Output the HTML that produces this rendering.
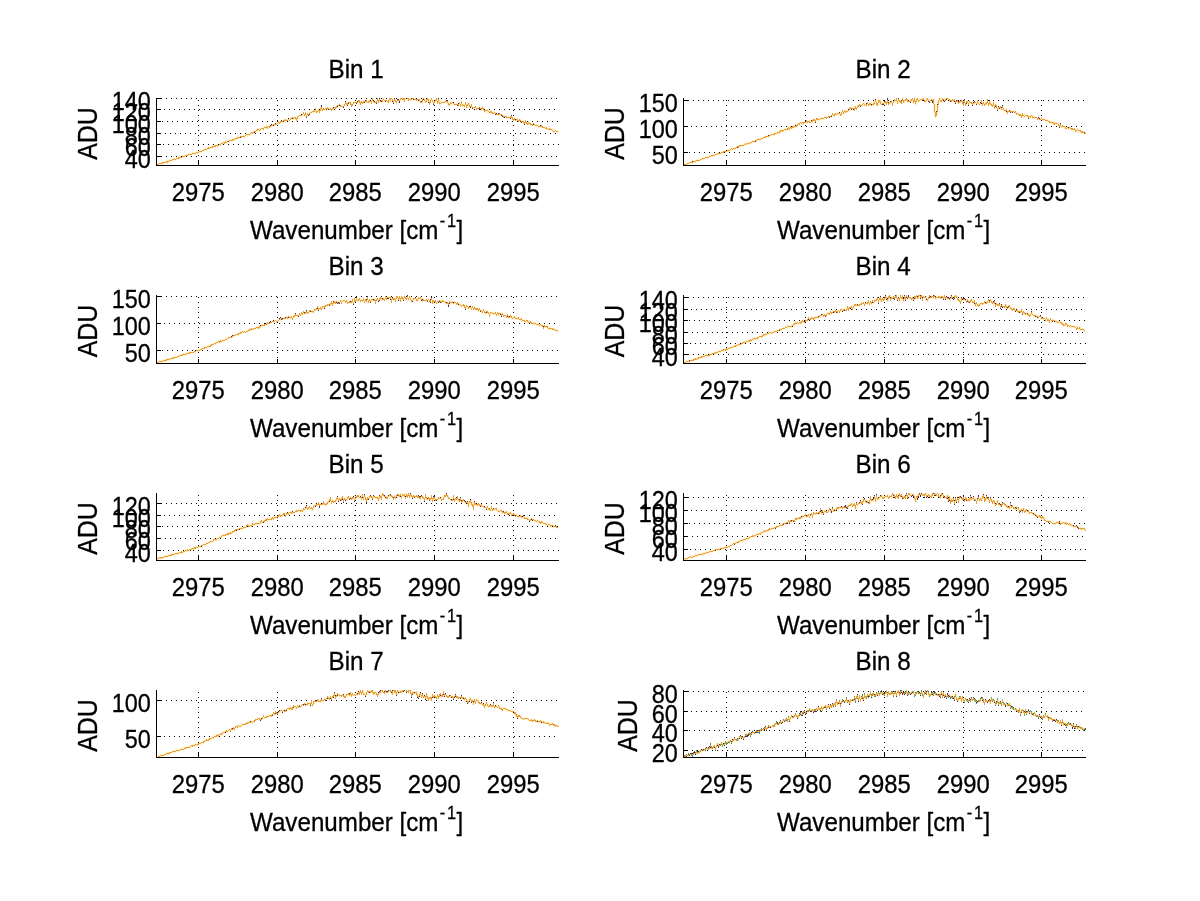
<!DOCTYPE html>
<html><head><meta charset="utf-8"><title>Bins</title>
<style>
html,body{margin:0;padding:0;background:#fff;}
body{width:1200px;height:901px;overflow:hidden;}
svg{display:block;will-change:transform;}
.t{font-family:"Liberation Sans",sans-serif;font-size:26.5px;fill:#000;stroke:#000;stroke-width:0.3px;}
.n{font-family:"Liberation Sans",sans-serif;font-size:25.5px;fill:#000;stroke:#000;stroke-width:0.3px;}
</style></head><body>
<svg width="1200" height="901" viewBox="0 0 1200 901">
<rect width="1200" height="901" fill="#fff"/>
<clipPath id="c1"><rect x="156" y="98" width="403" height="68"/></clipPath>
<path d="M156.5 164.7 L158.5 164.6 L160.5 163.3 L162.5 163.0 L164.5 162.3 L166.5 161.9 L168.5 161.3 L170.5 160.8 L172.5 159.8 L174.5 159.2 L176.5 158.6 L178.5 158.0 L180.5 157.8 L182.5 156.8 L184.5 156.5 L186.5 155.6 L188.5 154.9 L190.5 154.8 L192.5 153.7 L194.5 153.7 L196.5 153.0 L198.5 152.2 L200.5 151.5 L202.5 150.9 L204.5 149.9 L206.5 149.1 L208.5 148.0 L210.5 147.6 L212.5 147.0 L214.5 146.5 L216.5 145.9 L218.5 145.5 L220.5 144.3 L222.5 143.4 L224.5 143.0 L226.5 142.2 L228.5 141.5 L230.5 140.9 L232.5 140.0 L234.5 139.9 L236.5 138.4 L238.5 137.2 L240.5 136.9 L242.5 136.1 L244.5 136.3 L246.5 134.8 L248.5 134.9 L250.5 133.6 L252.5 133.1 L254.5 131.8 L256.5 130.4 L258.5 129.7 L260.5 129.7 L262.5 128.7 L264.5 127.5 L266.5 126.7 L268.5 126.4 L270.5 126.3 L272.5 125.5 L274.5 124.7 L276.5 124.1 L278.5 122.5 L280.5 121.8 L282.5 121.4 L284.5 120.6 L286.5 121.0 L288.5 119.3 L290.5 119.1 L292.5 117.8 L294.5 117.8 L296.5 119.6 L298.5 116.6 L300.5 115.7 L302.5 114.9 L304.5 114.9 L306.5 116.1 L308.5 114.3 L310.5 112.1 L312.5 111.8 L314.5 111.5 L316.5 112.4 L318.5 110.5 L320.5 109.2 L322.5 110.1 L324.5 109.4 L326.5 108.9 L328.5 108.7 L330.5 108.8 L332.5 108.7 L334.5 107.9 L336.5 107.1 L338.5 105.6 L340.5 106.0 L342.5 106.4 L344.5 104.8 L346.5 104.1 L348.5 102.1 L350.5 102.6 L352.5 104.9 L354.5 102.4 L356.5 102.9 L358.5 100.8 L360.5 103.9 L362.5 103.2 L364.5 102.0 L366.5 101.0 L368.5 102.3 L370.5 101.2 L372.5 99.5 L374.5 102.2 L376.5 102.6 L378.5 101.6 L380.5 101.5 L382.5 101.4 L384.5 100.3 L386.5 100.7 L388.5 102.4 L390.5 99.8 L392.5 100.5 L394.5 99.9 L396.5 102.5 L398.5 100.9 L400.5 98.5 L402.5 99.0 L404.5 100.5 L406.5 96.7 L408.5 99.9 L410.5 99.3 L412.5 98.9 L414.5 99.9 L416.5 100.0 L418.5 99.7 L420.5 102.5 L422.5 101.2 L424.5 100.6 L426.5 100.8 L428.5 100.2 L430.5 100.8 L432.5 101.2 L434.5 102.0 L436.5 99.1 L438.5 99.9 L440.5 103.8 L442.5 102.3 L444.5 102.1 L446.5 101.3 L448.5 104.7 L450.5 102.9 L452.5 102.5 L454.5 104.8 L456.5 104.7 L458.5 105.0 L460.5 105.4 L462.5 105.2 L464.5 106.0 L466.5 107.1 L468.5 103.6 L470.5 106.9 L472.5 107.8 L474.5 107.9 L476.5 109.2 L478.5 108.6 L480.5 108.5 L482.5 107.8 L484.5 111.5 L486.5 110.6 L488.5 111.9 L490.5 112.0 L492.5 113.1 L494.5 112.8 L496.5 114.1 L498.5 114.4 L500.5 115.0 L502.5 115.5 L504.5 116.8 L506.5 117.0 L508.5 117.7 L510.5 117.6 L512.5 118.6 L514.5 118.6 L516.5 119.1 L518.5 121.1 L520.5 120.4 L522.5 121.2 L524.5 123.6 L526.5 123.3 L528.5 123.0 L530.5 124.1 L532.5 125.1 L534.5 124.7 L536.5 125.7 L538.5 126.4 L540.5 126.1 L542.5 127.2 L544.5 127.9 L546.5 128.0 L548.5 129.7 L550.5 129.1 L552.5 130.6 L554.5 131.5 L556.5 131.6 L558.5 132.4" fill="none" stroke="#fff1d2" stroke-width="3" stroke-linejoin="round" clip-path="url(#c1)"/>
<g shape-rendering="crispEdges" stroke="#000" stroke-width="1" fill="none">
<line x1="161" y1="98.5" x2="559" y2="98.5" stroke-dasharray="1 4" stroke-dashoffset="0"/>
<line x1="161" y1="109.5" x2="559" y2="109.5" stroke-dasharray="1 4" stroke-dashoffset="2"/>
<line x1="161" y1="121.5" x2="559" y2="121.5" stroke-dasharray="1 4" stroke-dashoffset="4"/>
<line x1="161" y1="133.5" x2="559" y2="133.5" stroke-dasharray="1 4" stroke-dashoffset="1"/>
<line x1="161" y1="144.5" x2="559" y2="144.5" stroke-dasharray="1 4" stroke-dashoffset="3"/>
<line x1="161" y1="156.5" x2="559" y2="156.5" stroke-dasharray="1 4" stroke-dashoffset="0"/>
<line x1="198.5" y1="98" x2="198.5" y2="161" stroke-dasharray="1 4" stroke-dashoffset="3"/>
<line x1="277.5" y1="98" x2="277.5" y2="161" stroke-dasharray="1 4" stroke-dashoffset="3"/>
<line x1="355.5" y1="98" x2="355.5" y2="161" stroke-dasharray="1 4" stroke-dashoffset="3"/>
<line x1="434.5" y1="98" x2="434.5" y2="161" stroke-dasharray="1 4" stroke-dashoffset="3"/>
<line x1="513.5" y1="98" x2="513.5" y2="161" stroke-dasharray="1 4" stroke-dashoffset="3"/>
</g>
<g fill="none" stroke-width="1" shape-rendering="crispEdges" clip-path="url(#c1)">
<path d="M156.5 164.7 L157.5 164.4 L158.5 164.6 L159.5 163.8 L160.5 163.3 L161.5 163.3 L162.5 163.0 L163.5 162.8 L164.5 162.3 L165.5 162.3 L166.5 161.9 L167.5 162.0 L168.5 161.3 L169.5 160.9 L170.5 160.8 L171.5 160.4 L172.5 159.8 L173.5 159.8 L174.5 159.2 L175.5 159.3 L176.5 158.7 L177.5 158.5 L178.5 158.0 L179.5 157.9 L180.5 157.8 L181.5 157.5 L182.5 156.8 L183.5 156.4 L184.5 156.5 L185.5 155.9 L186.5 155.6 L187.5 155.6 L188.5 154.9 L189.5 155.0 L190.5 154.7 L191.5 154.2 L192.5 153.8 L193.5 153.6 L194.5 153.7 L195.5 153.1 L196.5 153.0 L197.5 152.4 L198.5 152.1 L199.5 151.8 L200.5 151.4 L201.5 151.1 L202.5 150.9 L203.5 150.6 L204.5 149.9 L205.5 149.4 L206.5 149.1 L207.5 148.7 L208.5 148.0 L209.5 148.2 L210.5 147.6 L211.5 147.9 L212.5 147.0 L213.5 146.4 L214.5 146.4 L215.5 146.1 L216.5 145.9 L217.5 145.4 L218.5 145.5 L219.5 144.3 L220.5 144.3 L221.5 143.7 L222.5 143.3 L223.5 142.6 L224.5 143.0 L225.5 141.9 L226.5 142.2 L227.5 141.9 L228.5 141.4 L229.5 140.5 L230.5 140.9 L231.5 140.0 L232.5 140.0 L233.5 139.4 L234.5 139.9 L235.5 138.7 L236.5 138.4 L237.5 138.3 L238.5 137.3 L239.5 137.2 L240.5 137.0 L241.5 136.7 L242.5 136.2 L243.5 136.6 L244.5 136.3 L245.5 135.4 L246.5 134.8 L247.5 134.7 L248.5 134.9 L249.5 134.4 L250.5 133.6 L251.5 132.7 L252.5 133.1 L253.5 132.4 L254.5 132.0 L255.5 131.3 L256.5 130.3 L257.5 130.0 L258.5 129.7 L259.5 130.2 L260.5 129.8 L261.5 128.8 L262.5 128.6 L263.5 129.2 L264.5 127.2 L265.5 127.4 L266.5 126.6 L267.5 128.0 L268.5 126.3 L269.5 126.9 L270.5 126.2 L271.5 125.0 L272.5 125.5 L273.5 125.0 L274.5 124.6 L275.5 123.9 L276.5 124.1 L277.5 123.6 L278.5 122.5 L279.5 123.2 L280.5 121.6 L281.5 121.0 L282.5 121.4 L283.5 121.0 L284.5 120.8 L285.5 119.9 L286.5 120.9 L287.5 120.6 L288.5 119.2 L289.5 120.4 L290.5 119.7 L291.5 118.4 L292.5 118.1 L293.5 118.1 L294.5 117.9 L295.5 117.7 L296.5 119.7 L297.5 117.9 L298.5 116.4 L299.5 115.1 L300.5 115.5 L301.5 114.9 L302.5 114.9 L303.5 113.4 L304.5 114.6 L305.5 113.7 L306.5 116.3 L307.5 114.0 L308.5 115.1 L309.5 113.8 L310.5 112.5 L311.5 112.7 L312.5 111.7 L313.5 111.4 L314.5 111.3 L315.5 109.1 L316.5 112.3 L317.5 111.3 L318.5 110.6 L319.5 111.5 L320.5 109.5 L321.5 106.9 L322.5 110.4 L323.5 108.8 L324.5 109.2 L325.5 108.6 L326.5 109.2 L327.5 108.4 L328.5 109.0 L329.5 109.2 L330.5 108.4 L331.5 110.1 L332.5 108.7 L333.5 107.9 L334.5 107.9 L335.5 108.4 L336.5 107.2 L337.5 105.9 L338.5 105.2 L339.5 105.2 L340.5 106.1 L341.5 106.4 L342.5 106.2 L343.5 107.3 L344.5 105.1 L345.5 102.2 L346.5 103.5 L347.5 105.1 L348.5 102.5 L349.5 102.9 L350.5 102.4 L351.5 106.1 L352.5 104.7 L353.5 103.2 L354.5 102.3 L355.5 102.5 L356.5 103.4 L357.5 102.6 L358.5 100.2 L359.5 100.7 L360.5 104.2 L361.5 101.7 L362.5 103.5 L363.5 102.1 L364.5 102.3 L365.5 101.0 L366.5 100.6 L367.5 102.7 L368.5 102.7 L369.5 100.9 L370.5 101.0 L371.5 102.8 L372.5 99.7 L373.5 100.7 L374.5 102.1 L375.5 102.7 L376.5 103.4 L377.5 99.1 L378.5 101.2 L379.5 99.5 L380.5 101.4 L381.5 101.0 L382.5 101.3 L383.5 99.4 L384.5 100.7 L385.5 101.2 L386.5 100.5 L387.5 101.5 L388.5 102.2 L389.5 98.6 L390.5 98.8 L391.5 97.6 L392.5 100.8 L393.5 102.5 L394.5 99.2 L395.5 101.3 L396.5 102.3 L397.5 99.9 L398.5 100.0 L399.5 102.0 L400.5 98.9 L401.5 98.1 L402.5 99.5 L403.5 98.3 L404.5 100.1 L405.5 96.0 L406.5 96.4 L407.5 97.6 L408.5 100.0 L409.5 99.4 L410.5 99.2 L411.5 99.2 L412.5 98.0 L413.5 98.9 L414.5 99.8 L415.5 99.3 L416.5 99.6 L417.5 99.4 L418.5 100.4 L419.5 100.7 L420.5 101.4 L421.5 102.1 L422.5 101.4 L423.5 97.7 L424.5 100.3 L425.5 102.4 L426.5 101.1 L427.5 98.4 L428.5 100.5 L429.5 104.8 L430.5 100.8 L431.5 99.1 L432.5 100.6 L433.5 103.9 L434.5 101.5 L435.5 100.3 L436.5 99.9 L437.5 102.2 L438.5 99.5 L439.5 103.6 L440.5 103.8 L441.5 102.2 L442.5 102.5 L443.5 102.6 L444.5 102.3 L445.5 101.3 L446.5 101.0 L447.5 100.5 L448.5 104.6 L449.5 105.3 L450.5 102.9 L451.5 103.6 L452.5 102.5 L453.5 102.6 L454.5 104.9 L455.5 104.8 L456.5 104.6 L457.5 105.1 L458.5 104.1 L459.5 103.4 L460.5 104.9 L461.5 102.5 L462.5 105.3 L463.5 105.4 L464.5 106.0 L465.5 103.3 L466.5 107.1 L467.5 104.7 L468.5 103.6 L469.5 106.6 L470.5 107.0 L471.5 105.7 L472.5 108.4 L473.5 107.9 L474.5 107.7 L475.5 106.5 L476.5 109.4 L477.5 108.6 L478.5 108.9 L479.5 108.2 L480.5 109.1 L481.5 109.5 L482.5 107.5 L483.5 109.2 L484.5 111.4 L485.5 110.1 L486.5 110.7 L487.5 110.4 L488.5 111.5 L489.5 112.6 L490.5 112.8 L491.5 111.8 L492.5 112.5 L493.5 113.4 L494.5 112.6 L495.5 114.0 L496.5 113.5 L497.5 114.6 L498.5 114.0 L499.5 114.1 L500.5 114.8 L501.5 114.9 L502.5 116.0 L503.5 116.6 L504.5 117.5 L505.5 116.5 L506.5 117.3 L507.5 117.5 L508.5 117.6 L509.5 117.7 L510.5 118.0 L511.5 116.3 L512.5 118.7 L513.5 120.0 L514.5 118.5 L515.5 120.5 L516.5 119.3 L517.5 119.6 L518.5 120.9 L519.5 119.9 L520.5 120.5 L521.5 122.3 L522.5 121.4 L523.5 122.2 L524.5 123.9 L525.5 121.6 L526.5 123.6 L527.5 124.0 L528.5 122.9 L529.5 123.1 L530.5 124.2 L531.5 124.2 L532.5 125.0 L533.5 123.9 L534.5 124.8 L535.5 125.7 L536.5 125.7 L537.5 125.5 L538.5 126.3 L539.5 126.6 L540.5 125.9 L541.5 125.8 L542.5 127.1 L543.5 127.4 L544.5 127.9 L545.5 128.5 L546.5 128.0 L547.5 128.2 L548.5 129.7 L549.5 129.0 L550.5 129.1 L551.5 129.3 L552.5 130.6 L553.5 131.7 L554.5 131.4 L555.5 130.5 L556.5 131.6 L557.5 131.6 L558.5 132.5" stroke="#4a2a70"/>
<path d="M156.5 164.7 L157.5 164.4 L158.5 164.6 L159.5 163.8 L160.5 163.3 L161.5 163.3 L162.5 163.0 L163.5 162.8 L164.5 162.3 L165.5 162.4 L166.5 161.9 L167.5 162.0 L168.5 161.3 L169.5 160.9 L170.5 160.8 L171.5 160.4 L172.5 159.8 L173.5 159.8 L174.5 159.2 L175.5 159.3 L176.5 158.6 L177.5 158.5 L178.5 158.0 L179.5 157.9 L180.5 157.8 L181.5 157.5 L182.5 156.8 L183.5 156.4 L184.5 156.5 L185.5 155.9 L186.5 155.6 L187.5 155.6 L188.5 154.9 L189.5 155.0 L190.5 154.8 L191.5 154.2 L192.5 153.7 L193.5 153.6 L194.5 153.7 L195.5 153.1 L196.5 153.0 L197.5 152.4 L198.5 152.2 L199.5 151.8 L200.5 151.5 L201.5 151.1 L202.5 150.9 L203.5 150.6 L204.5 149.9 L205.5 149.4 L206.5 149.1 L207.5 148.7 L208.5 148.0 L209.5 148.2 L210.5 147.6 L211.5 147.9 L212.5 147.0 L213.5 146.4 L214.5 146.5 L215.5 146.0 L216.5 145.9 L217.5 145.3 L218.5 145.5 L219.5 144.4 L220.5 144.3 L221.5 143.7 L222.5 143.4 L223.5 142.6 L224.5 143.0 L225.5 141.9 L226.5 142.2 L227.5 141.9 L228.5 141.5 L229.5 140.5 L230.5 140.9 L231.5 140.0 L232.5 140.0 L233.5 139.4 L234.5 139.9 L235.5 138.6 L236.5 138.4 L237.5 138.2 L238.5 137.2 L239.5 137.2 L240.5 136.9 L241.5 136.7 L242.5 136.1 L243.5 136.6 L244.5 136.3 L245.5 135.6 L246.5 134.8 L247.5 134.7 L248.5 134.9 L249.5 134.4 L250.5 133.6 L251.5 132.7 L252.5 133.1 L253.5 132.5 L254.5 131.8 L255.5 131.4 L256.5 130.4 L257.5 130.0 L258.5 129.7 L259.5 130.1 L260.5 129.7 L261.5 128.8 L262.5 128.7 L263.5 129.2 L264.5 127.5 L265.5 127.5 L266.5 126.7 L267.5 128.1 L268.5 126.4 L269.5 127.1 L270.5 126.3 L271.5 125.1 L272.5 125.5 L273.5 124.9 L274.5 124.7 L275.5 124.1 L276.5 124.1 L277.5 123.7 L278.5 122.5 L279.5 123.2 L280.5 121.8 L281.5 121.1 L282.5 121.4 L283.5 120.8 L284.5 120.6 L285.5 120.0 L286.5 121.0 L287.5 120.8 L288.5 119.3 L289.5 120.5 L290.5 119.1 L291.5 118.3 L292.5 117.8 L293.5 118.5 L294.5 117.8 L295.5 117.8 L296.5 119.6 L297.5 117.7 L298.5 116.6 L299.5 115.4 L300.5 115.7 L301.5 115.1 L302.5 114.9 L303.5 113.0 L304.5 114.9 L305.5 113.4 L306.5 116.1 L307.5 113.6 L308.5 114.3 L309.5 113.5 L310.5 112.1 L311.5 112.7 L312.5 111.8 L313.5 111.5 L314.5 111.5 L315.5 109.3 L316.5 112.4 L317.5 111.4 L318.5 110.5 L319.5 111.8 L320.5 109.2 L321.5 107.5 L322.5 110.1 L323.5 108.8 L324.5 109.4 L325.5 108.7 L326.5 108.9 L327.5 107.9 L328.5 108.7 L329.5 109.4 L330.5 108.8 L331.5 110.1 L332.5 108.7 L333.5 108.3 L334.5 107.9 L335.5 108.1 L336.5 107.1 L337.5 105.6 L338.5 105.6 L339.5 104.5 L340.5 106.0 L341.5 106.2 L342.5 106.4 L343.5 106.9 L344.5 104.8 L345.5 102.6 L346.5 104.1 L347.5 104.6 L348.5 102.1 L349.5 102.7 L350.5 102.6 L351.5 106.2 L352.5 104.9 L353.5 102.4 L354.5 102.4 L355.5 102.9 L356.5 102.9 L357.5 102.7 L358.5 100.8 L359.5 100.9 L360.5 103.9 L361.5 101.9 L362.5 103.2 L363.5 101.7 L364.5 102.0 L365.5 101.9 L366.5 101.0 L367.5 102.9 L368.5 102.3 L369.5 101.0 L370.5 101.2 L371.5 103.0 L372.5 99.5 L373.5 101.9 L374.5 102.2 L375.5 102.8 L376.5 102.6 L377.5 99.4 L378.5 101.6 L379.5 99.9 L380.5 101.5 L381.5 100.5 L382.5 101.4 L383.5 99.2 L384.5 100.3 L385.5 100.8 L386.5 100.7 L387.5 101.2 L388.5 102.4 L389.5 98.5 L390.5 99.8 L391.5 97.3 L392.5 100.5 L393.5 101.9 L394.5 99.9 L395.5 101.3 L396.5 102.5 L397.5 100.2 L398.5 100.9 L399.5 101.0 L400.5 98.5 L401.5 97.9 L402.5 99.0 L403.5 98.4 L404.5 100.5 L405.5 96.4 L406.5 96.7 L407.5 97.0 L408.5 99.9 L409.5 99.2 L410.5 99.3 L411.5 99.1 L412.5 98.9 L413.5 98.5 L414.5 99.9 L415.5 99.3 L416.5 100.0 L417.5 99.5 L418.5 99.7 L419.5 99.6 L420.5 102.5 L421.5 102.5 L422.5 101.2 L423.5 96.9 L424.5 100.6 L425.5 102.0 L426.5 100.8 L427.5 98.3 L428.5 100.2 L429.5 104.4 L430.5 100.8 L431.5 99.3 L432.5 101.2 L433.5 103.0 L434.5 102.0 L435.5 100.4 L436.5 99.1 L437.5 102.3 L438.5 99.9 L439.5 103.4 L440.5 103.8 L441.5 102.8 L442.5 102.3 L443.5 102.2 L444.5 102.1 L445.5 101.6 L446.5 101.3 L447.5 101.4 L448.5 104.7 L449.5 105.1 L450.5 102.9 L451.5 103.6 L452.5 102.5 L453.5 103.2 L454.5 104.8 L455.5 104.5 L456.5 104.7 L457.5 104.6 L458.5 105.0 L459.5 103.3 L460.5 105.4 L461.5 102.7 L462.5 105.2 L463.5 105.6 L464.5 106.0 L465.5 103.5 L466.5 107.1 L467.5 104.8 L468.5 103.6 L469.5 106.6 L470.5 106.9 L471.5 105.4 L472.5 107.8 L473.5 107.5 L474.5 107.9 L475.5 106.8 L476.5 109.2 L477.5 108.7 L478.5 108.6 L479.5 107.8 L480.5 108.5 L481.5 109.2 L482.5 107.8 L483.5 109.1 L484.5 111.5 L485.5 110.3 L486.5 110.6 L487.5 110.5 L488.5 111.9 L489.5 112.4 L490.5 112.0 L491.5 111.7 L492.5 113.1 L493.5 113.6 L494.5 112.8 L495.5 113.8 L496.5 114.1 L497.5 114.7 L498.5 114.4 L499.5 114.0 L500.5 115.0 L501.5 114.9 L502.5 115.5 L503.5 117.0 L504.5 116.8 L505.5 116.4 L506.5 117.0 L507.5 117.5 L508.5 117.7 L509.5 117.3 L510.5 117.6 L511.5 116.6 L512.5 118.6 L513.5 120.4 L514.5 118.6 L515.5 120.6 L516.5 119.1 L517.5 119.7 L518.5 121.1 L519.5 119.8 L520.5 120.4 L521.5 121.9 L522.5 121.2 L523.5 122.2 L524.5 123.6 L525.5 121.5 L526.5 123.3 L527.5 124.0 L528.5 123.0 L529.5 123.2 L530.5 124.1 L531.5 124.3 L532.5 125.1 L533.5 123.6 L534.5 124.7 L535.5 125.6 L536.5 125.7 L537.5 125.4 L538.5 126.4 L539.5 126.6 L540.5 126.1 L541.5 125.8 L542.5 127.2 L543.5 127.4 L544.5 127.9 L545.5 128.4 L546.5 128.0 L547.5 128.4 L548.5 129.7 L549.5 129.0 L550.5 129.1 L551.5 129.5 L552.5 130.6 L553.5 131.6 L554.5 131.5 L555.5 130.6 L556.5 131.6 L557.5 131.6 L558.5 132.4" stroke="#e8a035"/>
</g>
<g shape-rendering="crispEdges" stroke="#000" stroke-width="1" fill="none">
<line x1="156.5" y1="98" x2="156.5" y2="166"/>
<line x1="156" y1="165.5" x2="559" y2="165.5"/>
<line x1="156" y1="98.5" x2="161" y2="98.5"/>
<line x1="156" y1="109.5" x2="161" y2="109.5"/>
<line x1="156" y1="121.5" x2="161" y2="121.5"/>
<line x1="156" y1="133.5" x2="161" y2="133.5"/>
<line x1="156" y1="144.5" x2="161" y2="144.5"/>
<line x1="156" y1="156.5" x2="161" y2="156.5"/>
<line x1="198.5" y1="161" x2="198.5" y2="166"/>
<line x1="277.5" y1="161" x2="277.5" y2="166"/>
<line x1="355.5" y1="161" x2="355.5" y2="166"/>
<line x1="434.5" y1="161" x2="434.5" y2="166"/>
<line x1="513.5" y1="161" x2="513.5" y2="166"/>
</g>
<text class="t" transform="translate(328.5 77.7) scale(0.915 1)">Bin 1</text>
<text class="n" transform="translate(198.3 201.0) scale(0.935 1)" text-anchor="middle">2975</text>
<text class="n" transform="translate(277.3 201.0) scale(0.935 1)" text-anchor="middle">2980</text>
<text class="n" transform="translate(355.3 201.0) scale(0.935 1)" text-anchor="middle">2985</text>
<text class="n" transform="translate(434.3 201.0) scale(0.935 1)" text-anchor="middle">2990</text>
<text class="n" transform="translate(513.3 201.0) scale(0.935 1)" text-anchor="middle">2995</text>
<text class="t" transform="translate(250.0 239.0) scale(0.912 1)">Wavenumber [cm<tspan dy="-12" dx="1.4" font-size="18" letter-spacing="2">-1</tspan><tspan dy="12" dx="-1.5">]</tspan></text>
<text class="n" transform="translate(150.8 110.2) scale(0.92 1)" text-anchor="end">140</text>
<text class="n" transform="translate(150.8 121.2) scale(0.92 1)" text-anchor="end">120</text>
<text class="n" transform="translate(150.8 133.2) scale(0.92 1)" text-anchor="end">100</text>
<text class="n" transform="translate(150.8 145.2) scale(0.92 1)" text-anchor="end">80</text>
<text class="n" transform="translate(150.8 156.2) scale(0.92 1)" text-anchor="end">60</text>
<text class="n" transform="translate(150.8 168.2) scale(0.92 1)" text-anchor="end">40</text>
<text class="t" style="font-size:27.6px" transform="translate(96.6 133.5) rotate(-90) scale(0.905 1)" text-anchor="middle">ADU</text>
<clipPath id="c2"><rect x="683" y="98" width="403" height="68"/></clipPath>
<path d="M683.5 165.1 L685.5 164.4 L687.5 163.5 L689.5 162.8 L691.5 162.6 L693.5 161.6 L695.5 161.3 L697.5 160.3 L699.5 160.1 L701.5 159.1 L703.5 158.3 L705.5 157.9 L707.5 157.4 L709.5 156.4 L711.5 156.0 L713.5 155.2 L715.5 154.4 L717.5 153.9 L719.5 153.6 L721.5 152.9 L723.5 152.0 L725.5 151.3 L727.5 150.6 L729.5 150.3 L731.5 148.8 L733.5 148.4 L735.5 148.2 L737.5 146.9 L739.5 146.0 L741.5 145.6 L743.5 145.4 L745.5 143.8 L747.5 143.8 L749.5 143.4 L751.5 142.4 L753.5 141.4 L755.5 140.9 L757.5 139.5 L759.5 139.4 L761.5 138.8 L763.5 137.9 L765.5 137.0 L767.5 136.6 L769.5 135.4 L771.5 134.8 L773.5 134.2 L775.5 133.2 L777.5 132.8 L779.5 132.2 L781.5 130.3 L783.5 130.2 L785.5 129.9 L787.5 129.1 L789.5 128.9 L791.5 128.0 L793.5 127.1 L795.5 126.1 L797.5 124.8 L799.5 124.0 L801.5 123.2 L803.5 123.2 L805.5 122.5 L807.5 122.0 L809.5 121.9 L811.5 121.3 L813.5 119.7 L815.5 121.2 L817.5 119.1 L819.5 119.6 L821.5 118.4 L823.5 118.9 L825.5 117.2 L827.5 117.8 L829.5 116.7 L831.5 116.0 L833.5 115.7 L835.5 113.9 L837.5 113.7 L839.5 113.3 L841.5 113.7 L843.5 113.0 L845.5 112.2 L847.5 111.3 L849.5 108.7 L851.5 108.4 L853.5 108.7 L855.5 107.1 L857.5 106.9 L859.5 104.5 L861.5 105.8 L863.5 103.6 L865.5 105.7 L867.5 103.4 L869.5 103.8 L871.5 105.7 L873.5 104.0 L875.5 99.9 L877.5 105.4 L879.5 100.2 L881.5 104.7 L883.5 104.0 L885.5 101.9 L887.5 101.3 L889.5 103.5 L891.5 101.3 L893.5 101.9 L895.5 100.5 L897.5 102.5 L899.5 101.2 L901.5 102.9 L903.5 101.9 L905.5 100.8 L907.5 101.0 L909.5 101.3 L911.5 99.7 L913.5 101.5 L915.5 104.1 L917.5 97.6 L919.5 100.2 L921.5 99.5 L923.5 98.1 L925.5 101.8 L927.5 99.0 L929.5 101.6 L931.5 99.7 L933.5 99.6 L935.5 116.5 L937.5 107.9 L939.5 98.1 L941.5 101.6 L943.5 99.4 L945.5 100.4 L947.5 98.2 L949.5 100.1 L951.5 101.1 L953.5 100.8 L955.5 102.4 L957.5 100.8 L959.5 101.7 L961.5 100.8 L963.5 104.5 L965.5 104.2 L967.5 101.7 L969.5 101.5 L971.5 102.3 L973.5 103.5 L975.5 102.4 L977.5 102.0 L979.5 104.4 L981.5 101.7 L983.5 103.1 L985.5 103.8 L987.5 100.7 L989.5 102.2 L991.5 105.2 L993.5 103.7 L995.5 105.1 L997.5 109.2 L999.5 107.8 L1001.5 108.8 L1003.5 109.8 L1005.5 110.3 L1007.5 112.8 L1009.5 111.1 L1011.5 111.3 L1013.5 111.6 L1015.5 111.8 L1017.5 113.9 L1019.5 115.0 L1021.5 116.8 L1023.5 115.7 L1025.5 115.7 L1027.5 115.4 L1029.5 116.5 L1031.5 115.5 L1033.5 117.8 L1035.5 117.8 L1037.5 119.0 L1039.5 119.2 L1041.5 118.6 L1043.5 119.8 L1045.5 120.4 L1047.5 120.1 L1049.5 122.0 L1051.5 122.9 L1053.5 122.7 L1055.5 123.5 L1057.5 123.5 L1059.5 126.3 L1061.5 126.7 L1063.5 126.5 L1065.5 128.2 L1067.5 127.4 L1069.5 127.5 L1071.5 129.1 L1073.5 129.7 L1075.5 131.2 L1077.5 129.7 L1079.5 130.4 L1081.5 132.2 L1083.5 132.8 L1085.5 133.8" fill="none" stroke="#fff1d2" stroke-width="3" stroke-linejoin="round" clip-path="url(#c2)"/>
<g shape-rendering="crispEdges" stroke="#000" stroke-width="1" fill="none">
<line x1="688" y1="100.5" x2="1086" y2="100.5" stroke-dasharray="1 4" stroke-dashoffset="0"/>
<line x1="688" y1="126.5" x2="1086" y2="126.5" stroke-dasharray="1 4" stroke-dashoffset="2"/>
<line x1="688" y1="152.5" x2="1086" y2="152.5" stroke-dasharray="1 4" stroke-dashoffset="4"/>
<line x1="726.5" y1="98" x2="726.5" y2="161" stroke-dasharray="1 4" stroke-dashoffset="3"/>
<line x1="805.5" y1="98" x2="805.5" y2="161" stroke-dasharray="1 4" stroke-dashoffset="3"/>
<line x1="884.5" y1="98" x2="884.5" y2="161" stroke-dasharray="1 4" stroke-dashoffset="3"/>
<line x1="963.5" y1="98" x2="963.5" y2="161" stroke-dasharray="1 4" stroke-dashoffset="3"/>
<line x1="1041.5" y1="98" x2="1041.5" y2="161" stroke-dasharray="1 4" stroke-dashoffset="3"/>
</g>
<g fill="none" stroke-width="1" shape-rendering="crispEdges" clip-path="url(#c2)">
<path d="M683.5 165.1 L684.5 164.8 L685.5 164.4 L686.5 164.2 L687.5 163.5 L688.5 163.2 L689.5 162.8 L690.5 162.5 L691.5 162.6 L692.5 162.1 L693.5 161.5 L694.5 161.3 L695.5 161.3 L696.5 160.5 L697.5 160.4 L698.5 160.2 L699.5 160.1 L700.5 159.8 L701.5 159.1 L702.5 158.6 L703.5 158.3 L704.5 158.3 L705.5 157.9 L706.5 157.8 L707.5 157.4 L708.5 157.2 L709.5 156.4 L710.5 156.1 L711.5 156.0 L712.5 155.8 L713.5 155.2 L714.5 155.3 L715.5 154.4 L716.5 154.4 L717.5 153.9 L718.5 153.8 L719.5 153.6 L720.5 153.1 L721.5 152.9 L722.5 152.8 L723.5 152.0 L724.5 151.7 L725.5 151.3 L726.5 151.1 L727.5 150.6 L728.5 150.1 L729.5 150.3 L730.5 149.4 L731.5 148.8 L732.5 149.2 L733.5 148.3 L734.5 148.4 L735.5 148.2 L736.5 147.4 L737.5 147.0 L738.5 147.1 L739.5 146.1 L740.5 145.9 L741.5 145.6 L742.5 145.2 L743.5 145.4 L744.5 144.6 L745.5 143.8 L746.5 144.4 L747.5 143.8 L748.5 143.2 L749.5 143.4 L750.5 142.8 L751.5 142.4 L752.5 141.5 L753.5 141.4 L754.5 141.6 L755.5 141.0 L756.5 140.3 L757.5 139.5 L758.5 139.8 L759.5 139.4 L760.5 139.3 L761.5 138.8 L762.5 138.5 L763.5 137.9 L764.5 137.7 L765.5 136.9 L766.5 137.0 L767.5 136.6 L768.5 136.1 L769.5 135.4 L770.5 135.4 L771.5 134.9 L772.5 134.1 L773.5 134.1 L774.5 134.0 L775.5 133.3 L776.5 133.5 L777.5 132.9 L778.5 132.8 L779.5 132.2 L780.5 130.6 L781.5 130.4 L782.5 131.0 L783.5 130.1 L784.5 129.9 L785.5 130.0 L786.5 129.4 L787.5 129.0 L788.5 128.3 L789.5 129.0 L790.5 126.5 L791.5 128.0 L792.5 126.8 L793.5 127.1 L794.5 126.1 L795.5 125.8 L796.5 126.3 L797.5 124.7 L798.5 123.7 L799.5 124.0 L800.5 122.4 L801.5 123.2 L802.5 122.8 L803.5 123.0 L804.5 122.2 L805.5 122.3 L806.5 120.7 L807.5 122.2 L808.5 121.5 L809.5 121.7 L810.5 122.7 L811.5 120.9 L812.5 120.7 L813.5 119.5 L814.5 119.7 L815.5 121.5 L816.5 118.6 L817.5 119.0 L818.5 119.5 L819.5 119.7 L820.5 118.1 L821.5 118.6 L822.5 118.5 L823.5 118.9 L824.5 117.5 L825.5 117.2 L826.5 118.2 L827.5 117.6 L828.5 116.4 L829.5 117.1 L830.5 116.3 L831.5 116.1 L832.5 114.6 L833.5 115.6 L834.5 115.4 L835.5 114.1 L836.5 114.3 L837.5 113.4 L838.5 113.5 L839.5 112.8 L840.5 115.0 L841.5 113.5 L842.5 110.9 L843.5 113.0 L844.5 111.2 L845.5 112.1 L846.5 111.3 L847.5 111.5 L848.5 110.5 L849.5 108.7 L850.5 108.1 L851.5 109.1 L852.5 108.3 L853.5 108.8 L854.5 109.8 L855.5 106.9 L856.5 109.1 L857.5 106.9 L858.5 106.0 L859.5 105.0 L860.5 106.8 L861.5 105.8 L862.5 104.2 L863.5 103.7 L864.5 104.7 L865.5 105.5 L866.5 104.3 L867.5 102.8 L868.5 104.8 L869.5 103.6 L870.5 103.8 L871.5 105.4 L872.5 104.6 L873.5 103.7 L874.5 103.6 L875.5 100.3 L876.5 104.3 L877.5 105.4 L878.5 100.2 L879.5 100.7 L880.5 103.6 L881.5 104.7 L882.5 104.3 L883.5 104.5 L884.5 101.6 L885.5 102.0 L886.5 103.4 L887.5 100.0 L888.5 103.9 L889.5 103.9 L890.5 101.9 L891.5 101.4 L892.5 104.6 L893.5 102.0 L894.5 100.0 L895.5 100.6 L896.5 99.6 L897.5 102.6 L898.5 99.6 L899.5 101.7 L900.5 102.2 L901.5 102.5 L902.5 98.7 L903.5 101.5 L904.5 100.9 L905.5 100.8 L906.5 98.1 L907.5 101.3 L908.5 100.9 L909.5 101.1 L910.5 101.9 L911.5 99.5 L912.5 98.4 L913.5 101.0 L914.5 98.5 L915.5 103.9 L916.5 99.5 L917.5 98.1 L918.5 101.5 L919.5 100.6 L920.5 99.0 L921.5 99.0 L922.5 99.9 L923.5 98.8 L924.5 101.0 L925.5 101.6 L926.5 100.1 L927.5 99.2 L928.5 101.2 L929.5 102.1 L930.5 100.4 L931.5 99.7 L932.5 101.9 L933.5 100.0 L934.5 107.6 L935.5 116.8 L936.5 115.8 L937.5 107.3 L938.5 101.4 L939.5 98.0 L940.5 101.6 L941.5 101.4 L942.5 98.1 L943.5 99.7 L944.5 100.9 L945.5 100.1 L946.5 98.9 L947.5 98.0 L948.5 98.4 L949.5 99.6 L950.5 101.6 L951.5 101.4 L952.5 100.0 L953.5 100.8 L954.5 100.7 L955.5 102.6 L956.5 100.6 L957.5 100.4 L958.5 102.7 L959.5 101.2 L960.5 101.1 L961.5 100.3 L962.5 101.7 L963.5 104.3 L964.5 100.8 L965.5 105.0 L966.5 102.1 L967.5 101.4 L968.5 104.2 L969.5 101.4 L970.5 102.4 L971.5 102.3 L972.5 105.1 L973.5 103.1 L974.5 101.8 L975.5 102.5 L976.5 104.0 L977.5 101.9 L978.5 103.8 L979.5 104.6 L980.5 103.2 L981.5 101.9 L982.5 105.2 L983.5 103.1 L984.5 105.2 L985.5 103.6 L986.5 103.1 L987.5 100.5 L988.5 105.5 L989.5 101.7 L990.5 104.1 L991.5 104.7 L992.5 106.3 L993.5 104.5 L994.5 107.6 L995.5 105.4 L996.5 105.9 L997.5 109.4 L998.5 106.9 L999.5 107.9 L1000.5 107.0 L1001.5 108.7 L1002.5 106.5 L1003.5 109.6 L1004.5 110.9 L1005.5 110.3 L1006.5 110.2 L1007.5 112.8 L1008.5 111.4 L1009.5 110.9 L1010.5 112.5 L1011.5 111.5 L1012.5 112.1 L1013.5 111.6 L1014.5 112.4 L1015.5 111.9 L1016.5 114.1 L1017.5 113.8 L1018.5 114.2 L1019.5 115.2 L1020.5 114.4 L1021.5 116.6 L1022.5 114.5 L1023.5 115.9 L1024.5 116.3 L1025.5 115.8 L1026.5 115.4 L1027.5 115.6 L1028.5 117.9 L1029.5 116.6 L1030.5 117.3 L1031.5 115.5 L1032.5 117.0 L1033.5 117.7 L1034.5 117.4 L1035.5 117.6 L1036.5 117.2 L1037.5 119.3 L1038.5 118.2 L1039.5 119.2 L1040.5 119.3 L1041.5 118.5 L1042.5 119.5 L1043.5 119.6 L1044.5 119.7 L1045.5 120.4 L1046.5 120.1 L1047.5 120.4 L1048.5 121.7 L1049.5 122.2 L1050.5 122.8 L1051.5 122.9 L1052.5 122.4 L1053.5 122.7 L1054.5 124.3 L1055.5 123.3 L1056.5 123.1 L1057.5 123.4 L1058.5 124.4 L1059.5 126.6 L1060.5 124.6 L1061.5 126.7 L1062.5 125.6 L1063.5 126.3 L1064.5 126.3 L1065.5 128.4 L1066.5 128.3 L1067.5 127.5 L1068.5 128.1 L1069.5 127.4 L1070.5 128.5 L1071.5 129.2 L1072.5 128.8 L1073.5 129.6 L1074.5 128.6 L1075.5 131.2 L1076.5 130.3 L1077.5 129.6 L1078.5 130.5 L1079.5 130.4 L1080.5 131.0 L1081.5 132.1 L1082.5 132.1 L1083.5 132.7 L1084.5 133.0 L1085.5 133.7" stroke="#4a2a70"/>
<path d="M683.5 165.1 L684.5 164.8 L685.5 164.4 L686.5 164.2 L687.5 163.5 L688.5 163.2 L689.5 162.8 L690.5 162.5 L691.5 162.6 L692.5 162.1 L693.5 161.6 L694.5 161.2 L695.5 161.3 L696.5 160.6 L697.5 160.3 L698.5 160.2 L699.5 160.1 L700.5 159.7 L701.5 159.1 L702.5 158.6 L703.5 158.3 L704.5 158.3 L705.5 157.9 L706.5 157.8 L707.5 157.4 L708.5 157.2 L709.5 156.4 L710.5 156.1 L711.5 156.0 L712.5 155.8 L713.5 155.2 L714.5 155.3 L715.5 154.4 L716.5 154.4 L717.5 153.9 L718.5 153.9 L719.5 153.6 L720.5 153.1 L721.5 152.9 L722.5 152.8 L723.5 152.0 L724.5 151.7 L725.5 151.3 L726.5 151.1 L727.5 150.6 L728.5 150.1 L729.5 150.3 L730.5 149.5 L731.5 148.8 L732.5 149.2 L733.5 148.4 L734.5 148.4 L735.5 148.2 L736.5 147.3 L737.5 146.9 L738.5 147.1 L739.5 146.0 L740.5 145.8 L741.5 145.6 L742.5 145.2 L743.5 145.4 L744.5 144.7 L745.5 143.8 L746.5 144.4 L747.5 143.8 L748.5 143.2 L749.5 143.4 L750.5 142.8 L751.5 142.4 L752.5 141.6 L753.5 141.4 L754.5 141.6 L755.5 140.9 L756.5 140.3 L757.5 139.5 L758.5 139.8 L759.5 139.4 L760.5 139.3 L761.5 138.8 L762.5 138.5 L763.5 137.9 L764.5 137.6 L765.5 137.0 L766.5 136.9 L767.5 136.6 L768.5 136.2 L769.5 135.4 L770.5 135.5 L771.5 134.8 L772.5 134.1 L773.5 134.2 L774.5 134.1 L775.5 133.2 L776.5 133.7 L777.5 132.8 L778.5 132.8 L779.5 132.2 L780.5 130.7 L781.5 130.3 L782.5 131.0 L783.5 130.2 L784.5 129.8 L785.5 129.9 L786.5 129.5 L787.5 129.1 L788.5 128.1 L789.5 128.9 L790.5 126.6 L791.5 128.0 L792.5 126.8 L793.5 127.1 L794.5 126.3 L795.5 126.1 L796.5 126.4 L797.5 124.8 L798.5 123.5 L799.5 124.0 L800.5 122.6 L801.5 123.2 L802.5 122.8 L803.5 123.2 L804.5 122.1 L805.5 122.5 L806.5 121.0 L807.5 122.0 L808.5 121.4 L809.5 121.9 L810.5 122.6 L811.5 121.3 L812.5 121.2 L813.5 119.7 L814.5 119.6 L815.5 121.2 L816.5 118.4 L817.5 119.1 L818.5 119.5 L819.5 119.6 L820.5 118.2 L821.5 118.4 L822.5 118.6 L823.5 118.9 L824.5 117.7 L825.5 117.2 L826.5 118.2 L827.5 117.8 L828.5 116.3 L829.5 116.7 L830.5 116.1 L831.5 116.0 L832.5 114.3 L833.5 115.7 L834.5 115.2 L835.5 113.9 L836.5 114.7 L837.5 113.7 L838.5 113.5 L839.5 113.3 L840.5 115.1 L841.5 113.7 L842.5 111.2 L843.5 113.0 L844.5 111.0 L845.5 112.2 L846.5 111.2 L847.5 111.3 L848.5 110.6 L849.5 108.7 L850.5 108.0 L851.5 108.4 L852.5 108.1 L853.5 108.7 L854.5 109.8 L855.5 107.1 L856.5 108.8 L857.5 106.9 L858.5 106.7 L859.5 104.5 L860.5 105.5 L861.5 105.8 L862.5 104.5 L863.5 103.6 L864.5 104.3 L865.5 105.7 L866.5 105.3 L867.5 103.4 L868.5 105.2 L869.5 103.8 L870.5 103.5 L871.5 105.7 L872.5 104.5 L873.5 104.0 L874.5 103.7 L875.5 99.9 L876.5 104.8 L877.5 105.4 L878.5 100.3 L879.5 100.2 L880.5 102.8 L881.5 104.7 L882.5 103.8 L883.5 104.0 L884.5 102.2 L885.5 101.9 L886.5 103.6 L887.5 101.3 L888.5 104.4 L889.5 103.5 L890.5 102.3 L891.5 101.3 L892.5 104.3 L893.5 101.9 L894.5 99.5 L895.5 100.5 L896.5 98.9 L897.5 102.5 L898.5 99.8 L899.5 101.2 L900.5 101.8 L901.5 102.9 L902.5 99.1 L903.5 101.9 L904.5 100.4 L905.5 100.8 L906.5 97.9 L907.5 101.0 L908.5 101.2 L909.5 101.3 L910.5 101.6 L911.5 99.7 L912.5 98.4 L913.5 101.5 L914.5 98.7 L915.5 104.1 L916.5 100.0 L917.5 97.6 L918.5 101.5 L919.5 100.2 L920.5 99.3 L921.5 99.5 L922.5 99.8 L923.5 98.1 L924.5 101.6 L925.5 101.8 L926.5 100.2 L927.5 99.0 L928.5 100.5 L929.5 101.6 L930.5 100.7 L931.5 99.7 L932.5 100.6 L933.5 99.6 L934.5 107.8 L935.5 116.5 L936.5 115.6 L937.5 107.9 L938.5 102.0 L939.5 98.1 L940.5 101.8 L941.5 101.6 L942.5 98.3 L943.5 99.4 L944.5 100.9 L945.5 100.4 L946.5 98.2 L947.5 98.2 L948.5 98.0 L949.5 100.1 L950.5 101.0 L951.5 101.1 L952.5 99.8 L953.5 100.8 L954.5 99.9 L955.5 102.4 L956.5 101.1 L957.5 100.8 L958.5 103.2 L959.5 101.7 L960.5 101.5 L961.5 100.8 L962.5 102.3 L963.5 104.5 L964.5 101.2 L965.5 104.2 L966.5 101.3 L967.5 101.7 L968.5 104.1 L969.5 101.5 L970.5 102.4 L971.5 102.3 L972.5 104.5 L973.5 103.5 L974.5 102.2 L975.5 102.4 L976.5 103.4 L977.5 102.0 L978.5 103.8 L979.5 104.4 L980.5 103.9 L981.5 101.7 L982.5 104.9 L983.5 103.1 L984.5 105.0 L985.5 103.8 L986.5 102.9 L987.5 100.7 L988.5 105.5 L989.5 102.2 L990.5 104.0 L991.5 105.2 L992.5 106.2 L993.5 103.7 L994.5 107.5 L995.5 105.1 L996.5 106.0 L997.5 109.2 L998.5 107.2 L999.5 107.8 L1000.5 106.8 L1001.5 108.8 L1002.5 106.7 L1003.5 109.8 L1004.5 110.6 L1005.5 110.3 L1006.5 109.6 L1007.5 112.8 L1008.5 111.1 L1009.5 111.1 L1010.5 111.9 L1011.5 111.3 L1012.5 111.8 L1013.5 111.6 L1014.5 112.6 L1015.5 111.8 L1016.5 114.3 L1017.5 113.9 L1018.5 114.3 L1019.5 115.0 L1020.5 114.5 L1021.5 116.8 L1022.5 114.3 L1023.5 115.7 L1024.5 116.3 L1025.5 115.7 L1026.5 115.3 L1027.5 115.4 L1028.5 117.5 L1029.5 116.5 L1030.5 117.3 L1031.5 115.5 L1032.5 116.8 L1033.5 117.8 L1034.5 117.6 L1035.5 117.8 L1036.5 117.4 L1037.5 119.0 L1038.5 118.3 L1039.5 119.2 L1040.5 119.2 L1041.5 118.6 L1042.5 119.4 L1043.5 119.8 L1044.5 119.5 L1045.5 120.4 L1046.5 120.3 L1047.5 120.1 L1048.5 121.5 L1049.5 122.0 L1050.5 122.7 L1051.5 122.9 L1052.5 122.3 L1053.5 122.7 L1054.5 124.3 L1055.5 123.5 L1056.5 123.1 L1057.5 123.5 L1058.5 124.5 L1059.5 126.3 L1060.5 124.8 L1061.5 126.7 L1062.5 125.9 L1063.5 126.5 L1064.5 126.4 L1065.5 128.2 L1066.5 128.3 L1067.5 127.4 L1068.5 128.3 L1069.5 127.5 L1070.5 128.4 L1071.5 129.1 L1072.5 129.0 L1073.5 129.7 L1074.5 128.6 L1075.5 131.2 L1076.5 130.2 L1077.5 129.7 L1078.5 130.5 L1079.5 130.4 L1080.5 131.0 L1081.5 132.2 L1082.5 132.0 L1083.5 132.8 L1084.5 133.1 L1085.5 133.8" stroke="#e8a035"/>
</g>
<g shape-rendering="crispEdges" stroke="#000" stroke-width="1" fill="none">
<line x1="683.5" y1="98" x2="683.5" y2="166"/>
<line x1="683" y1="165.5" x2="1086" y2="165.5"/>
<line x1="683" y1="100.5" x2="688" y2="100.5"/>
<line x1="683" y1="126.5" x2="688" y2="126.5"/>
<line x1="683" y1="152.5" x2="688" y2="152.5"/>
<line x1="726.5" y1="161" x2="726.5" y2="166"/>
<line x1="805.5" y1="161" x2="805.5" y2="166"/>
<line x1="884.5" y1="161" x2="884.5" y2="166"/>
<line x1="963.5" y1="161" x2="963.5" y2="166"/>
<line x1="1041.5" y1="161" x2="1041.5" y2="166"/>
</g>
<text class="t" transform="translate(855.5 77.7) scale(0.915 1)">Bin 2</text>
<text class="n" transform="translate(726.3 201.0) scale(0.935 1)" text-anchor="middle">2975</text>
<text class="n" transform="translate(805.3 201.0) scale(0.935 1)" text-anchor="middle">2980</text>
<text class="n" transform="translate(884.3 201.0) scale(0.935 1)" text-anchor="middle">2985</text>
<text class="n" transform="translate(963.3 201.0) scale(0.935 1)" text-anchor="middle">2990</text>
<text class="n" transform="translate(1041.3 201.0) scale(0.935 1)" text-anchor="middle">2995</text>
<text class="t" transform="translate(777.0 239.0) scale(0.912 1)">Wavenumber [cm<tspan dy="-12" dx="1.4" font-size="18" letter-spacing="2">-1</tspan><tspan dy="12" dx="-1.5">]</tspan></text>
<text class="n" transform="translate(677.8 112.2) scale(0.92 1)" text-anchor="end">150</text>
<text class="n" transform="translate(677.8 138.2) scale(0.92 1)" text-anchor="end">100</text>
<text class="n" transform="translate(677.8 164.2) scale(0.92 1)" text-anchor="end">50</text>
<text class="t" style="font-size:27.6px" transform="translate(623.6 133.5) rotate(-90) scale(0.905 1)" text-anchor="middle">ADU</text>
<clipPath id="c3"><rect x="156" y="295" width="403" height="69"/></clipPath>
<path d="M156.5 363.1 L158.5 362.3 L160.5 361.8 L162.5 361.1 L164.5 360.3 L166.5 360.0 L168.5 359.5 L170.5 358.8 L172.5 358.2 L174.5 357.7 L176.5 357.1 L178.5 356.4 L180.5 355.5 L182.5 354.9 L184.5 354.6 L186.5 353.6 L188.5 353.3 L190.5 352.8 L192.5 352.3 L194.5 351.9 L196.5 350.7 L198.5 350.4 L200.5 349.7 L202.5 348.8 L204.5 348.1 L206.5 347.3 L208.5 346.6 L210.5 346.2 L212.5 344.3 L214.5 343.8 L216.5 342.7 L218.5 341.9 L220.5 341.0 L222.5 340.9 L224.5 340.2 L226.5 339.2 L228.5 337.8 L230.5 337.4 L232.5 336.1 L234.5 335.4 L236.5 334.7 L238.5 334.0 L240.5 333.1 L242.5 331.7 L244.5 331.7 L246.5 331.4 L248.5 330.6 L250.5 329.2 L252.5 329.8 L254.5 328.2 L256.5 327.6 L258.5 328.0 L260.5 326.1 L262.5 325.2 L264.5 325.2 L266.5 324.0 L268.5 323.3 L270.5 322.1 L272.5 321.6 L274.5 321.5 L276.5 321.3 L278.5 320.8 L280.5 318.3 L282.5 319.1 L284.5 318.4 L286.5 317.7 L288.5 316.4 L290.5 317.3 L292.5 319.1 L294.5 316.1 L296.5 315.6 L298.5 315.7 L300.5 315.2 L302.5 313.9 L304.5 313.3 L306.5 311.5 L308.5 312.7 L310.5 310.9 L312.5 311.7 L314.5 310.1 L316.5 309.5 L318.5 309.5 L320.5 307.9 L322.5 307.1 L324.5 307.6 L326.5 305.8 L328.5 304.9 L330.5 304.4 L332.5 304.7 L334.5 301.9 L336.5 301.4 L338.5 303.2 L340.5 301.2 L342.5 301.4 L344.5 300.6 L346.5 300.7 L348.5 302.4 L350.5 302.7 L352.5 300.3 L354.5 299.3 L356.5 298.8 L358.5 300.3 L360.5 301.3 L362.5 300.5 L364.5 302.1 L366.5 301.1 L368.5 301.8 L370.5 301.1 L372.5 299.6 L374.5 299.5 L376.5 299.1 L378.5 300.6 L380.5 297.8 L382.5 299.8 L384.5 300.2 L386.5 298.9 L388.5 297.9 L390.5 297.1 L392.5 298.3 L394.5 298.4 L396.5 297.2 L398.5 298.9 L400.5 300.2 L402.5 298.0 L404.5 297.1 L406.5 299.1 L408.5 298.7 L410.5 298.7 L412.5 300.9 L414.5 298.9 L416.5 300.3 L418.5 297.7 L420.5 298.0 L422.5 300.1 L424.5 300.7 L426.5 300.0 L428.5 299.5 L430.5 301.6 L432.5 302.6 L434.5 301.7 L436.5 302.9 L438.5 301.8 L440.5 301.6 L442.5 300.7 L444.5 301.4 L446.5 303.5 L448.5 304.1 L450.5 302.4 L452.5 302.1 L454.5 302.5 L456.5 303.9 L458.5 303.9 L460.5 305.7 L462.5 305.6 L464.5 306.5 L466.5 305.8 L468.5 308.1 L470.5 307.0 L472.5 307.0 L474.5 307.7 L476.5 309.0 L478.5 310.4 L480.5 310.7 L482.5 311.7 L484.5 312.2 L486.5 311.4 L488.5 313.1 L490.5 313.0 L492.5 313.4 L494.5 313.2 L496.5 315.2 L498.5 314.3 L500.5 313.1 L502.5 314.2 L504.5 315.7 L506.5 316.7 L508.5 317.1 L510.5 316.0 L512.5 318.5 L514.5 317.0 L516.5 318.5 L518.5 318.1 L520.5 319.8 L522.5 320.5 L524.5 321.2 L526.5 320.8 L528.5 322.6 L530.5 322.0 L532.5 323.3 L534.5 323.3 L536.5 324.8 L538.5 324.6 L540.5 324.8 L542.5 325.9 L544.5 325.8 L546.5 326.9 L548.5 328.8 L550.5 328.2 L552.5 329.0 L554.5 329.5 L556.5 330.8 L558.5 331.1" fill="none" stroke="#fff1d2" stroke-width="3" stroke-linejoin="round" clip-path="url(#c3)"/>
<g shape-rendering="crispEdges" stroke="#000" stroke-width="1" fill="none">
<line x1="161" y1="296.5" x2="559" y2="296.5" stroke-dasharray="1 4" stroke-dashoffset="0"/>
<line x1="161" y1="323.5" x2="559" y2="323.5" stroke-dasharray="1 4" stroke-dashoffset="2"/>
<line x1="161" y1="350.5" x2="559" y2="350.5" stroke-dasharray="1 4" stroke-dashoffset="4"/>
<line x1="198.5" y1="295" x2="198.5" y2="359" stroke-dasharray="1 4" stroke-dashoffset="3"/>
<line x1="277.5" y1="295" x2="277.5" y2="359" stroke-dasharray="1 4" stroke-dashoffset="3"/>
<line x1="355.5" y1="295" x2="355.5" y2="359" stroke-dasharray="1 4" stroke-dashoffset="3"/>
<line x1="434.5" y1="295" x2="434.5" y2="359" stroke-dasharray="1 4" stroke-dashoffset="3"/>
<line x1="513.5" y1="295" x2="513.5" y2="359" stroke-dasharray="1 4" stroke-dashoffset="3"/>
</g>
<g fill="none" stroke-width="1" shape-rendering="crispEdges" clip-path="url(#c3)">
<path d="M156.5 363.1 L157.5 362.6 L158.5 362.3 L159.5 361.8 L160.5 361.8 L161.5 361.5 L162.5 361.1 L163.5 360.8 L164.5 360.3 L165.5 360.5 L166.5 360.0 L167.5 359.6 L168.5 359.5 L169.5 359.1 L170.5 358.8 L171.5 358.4 L172.5 358.2 L173.5 358.0 L174.5 357.7 L175.5 357.4 L176.5 357.1 L177.5 356.9 L178.5 356.4 L179.5 355.8 L180.5 355.5 L181.5 355.7 L182.5 354.9 L183.5 354.8 L184.5 354.6 L185.5 354.5 L186.5 353.6 L187.5 353.5 L188.5 353.3 L189.5 353.0 L190.5 352.8 L191.5 352.7 L192.5 352.3 L193.5 352.5 L194.5 351.9 L195.5 351.0 L196.5 350.7 L197.5 350.7 L198.5 350.4 L199.5 350.2 L200.5 349.7 L201.5 349.3 L202.5 348.8 L203.5 348.5 L204.5 348.1 L205.5 347.5 L206.5 347.3 L207.5 346.4 L208.5 346.6 L209.5 346.1 L210.5 346.3 L211.5 345.1 L212.5 344.3 L213.5 344.1 L214.5 343.9 L215.5 343.2 L216.5 342.7 L217.5 342.6 L218.5 341.8 L219.5 342.2 L220.5 341.1 L221.5 341.1 L222.5 340.9 L223.5 340.3 L224.5 340.2 L225.5 339.5 L226.5 339.2 L227.5 338.4 L228.5 337.7 L229.5 337.6 L230.5 337.5 L231.5 337.3 L232.5 336.0 L233.5 335.8 L234.5 335.3 L235.5 335.5 L236.5 334.7 L237.5 334.8 L238.5 334.0 L239.5 333.6 L240.5 333.1 L241.5 332.5 L242.5 331.9 L243.5 332.1 L244.5 331.7 L245.5 332.5 L246.5 331.5 L247.5 331.4 L248.5 330.6 L249.5 330.2 L250.5 329.1 L251.5 329.0 L252.5 329.8 L253.5 328.6 L254.5 328.2 L255.5 328.4 L256.5 327.6 L257.5 327.2 L258.5 328.0 L259.5 326.8 L260.5 325.8 L261.5 325.8 L262.5 325.3 L263.5 325.2 L264.5 325.1 L265.5 323.9 L266.5 324.1 L267.5 323.1 L268.5 323.3 L269.5 323.4 L270.5 321.9 L271.5 322.1 L272.5 321.9 L273.5 321.0 L274.5 321.4 L275.5 320.6 L276.5 321.2 L277.5 321.2 L278.5 320.9 L279.5 319.1 L280.5 318.1 L281.5 319.2 L282.5 318.9 L283.5 318.5 L284.5 318.5 L285.5 317.6 L286.5 317.5 L287.5 318.3 L288.5 316.7 L289.5 317.5 L290.5 317.5 L291.5 316.3 L292.5 319.0 L293.5 316.4 L294.5 315.7 L295.5 314.2 L296.5 315.5 L297.5 315.2 L298.5 316.1 L299.5 313.9 L300.5 315.1 L301.5 313.4 L302.5 314.4 L303.5 312.0 L304.5 313.0 L305.5 313.6 L306.5 311.3 L307.5 313.2 L308.5 312.9 L309.5 311.0 L310.5 311.3 L311.5 311.1 L312.5 311.6 L313.5 312.7 L314.5 309.7 L315.5 309.2 L316.5 309.6 L317.5 307.1 L318.5 309.9 L319.5 308.7 L320.5 307.8 L321.5 309.2 L322.5 307.1 L323.5 306.5 L324.5 307.9 L325.5 305.9 L326.5 306.0 L327.5 305.5 L328.5 304.8 L329.5 305.2 L330.5 304.6 L331.5 302.5 L332.5 304.7 L333.5 302.0 L334.5 301.4 L335.5 303.3 L336.5 301.5 L337.5 303.2 L338.5 302.9 L339.5 303.5 L340.5 301.3 L341.5 303.0 L342.5 301.2 L343.5 300.3 L344.5 300.6 L345.5 301.7 L346.5 300.9 L347.5 302.8 L348.5 302.6 L349.5 301.9 L350.5 301.9 L351.5 302.0 L352.5 300.8 L353.5 303.8 L354.5 299.7 L355.5 301.2 L356.5 298.6 L357.5 300.6 L358.5 300.4 L359.5 299.2 L360.5 300.5 L361.5 300.9 L362.5 300.7 L363.5 300.0 L364.5 301.9 L365.5 299.8 L366.5 300.6 L367.5 297.7 L368.5 302.0 L369.5 299.8 L370.5 301.6 L371.5 299.2 L372.5 299.8 L373.5 300.0 L374.5 299.4 L375.5 302.3 L376.5 299.5 L377.5 298.6 L378.5 300.9 L379.5 299.9 L380.5 297.7 L381.5 298.2 L382.5 299.2 L383.5 299.2 L384.5 300.1 L385.5 297.5 L386.5 299.3 L387.5 297.8 L388.5 298.1 L389.5 297.5 L390.5 298.0 L391.5 301.6 L392.5 298.1 L393.5 298.9 L394.5 298.9 L395.5 300.1 L396.5 297.2 L397.5 296.5 L398.5 299.3 L399.5 297.0 L400.5 300.0 L401.5 297.8 L402.5 297.9 L403.5 299.8 L404.5 296.9 L405.5 298.6 L406.5 299.4 L407.5 296.6 L408.5 298.7 L409.5 297.3 L410.5 298.4 L411.5 300.8 L412.5 301.1 L413.5 299.1 L414.5 299.0 L415.5 297.8 L416.5 300.2 L417.5 300.5 L418.5 297.7 L419.5 298.1 L420.5 298.1 L421.5 300.0 L422.5 299.7 L423.5 300.0 L424.5 300.7 L425.5 300.9 L426.5 300.4 L427.5 301.0 L428.5 299.5 L429.5 300.7 L430.5 302.0 L431.5 297.3 L432.5 302.3 L433.5 300.4 L434.5 301.2 L435.5 301.0 L436.5 303.1 L437.5 301.3 L438.5 302.0 L439.5 301.0 L440.5 302.3 L441.5 302.0 L442.5 300.6 L443.5 301.5 L444.5 301.9 L445.5 302.1 L446.5 303.1 L447.5 302.7 L448.5 305.2 L449.5 302.1 L450.5 302.8 L451.5 302.9 L452.5 301.8 L453.5 303.4 L454.5 302.9 L455.5 302.6 L456.5 304.0 L457.5 303.1 L458.5 304.2 L459.5 304.5 L460.5 305.6 L461.5 306.6 L462.5 305.6 L463.5 304.8 L464.5 306.4 L465.5 308.6 L466.5 306.0 L467.5 306.6 L468.5 307.6 L469.5 306.8 L470.5 306.8 L471.5 309.0 L472.5 306.9 L473.5 309.2 L474.5 308.0 L475.5 308.9 L476.5 309.2 L477.5 309.1 L478.5 310.2 L479.5 309.1 L480.5 311.2 L481.5 310.3 L482.5 311.4 L483.5 310.1 L484.5 311.9 L485.5 313.5 L486.5 311.8 L487.5 311.9 L488.5 313.0 L489.5 315.2 L490.5 312.7 L491.5 312.1 L492.5 313.3 L493.5 313.3 L494.5 313.1 L495.5 312.8 L496.5 315.2 L497.5 313.0 L498.5 314.1 L499.5 313.1 L500.5 313.3 L501.5 316.0 L502.5 314.3 L503.5 315.8 L504.5 315.6 L505.5 315.2 L506.5 316.4 L507.5 315.7 L508.5 317.3 L509.5 317.5 L510.5 315.8 L511.5 317.8 L512.5 318.4 L513.5 317.9 L514.5 316.8 L515.5 318.8 L516.5 318.5 L517.5 318.7 L518.5 318.1 L519.5 319.8 L520.5 319.4 L521.5 319.1 L522.5 320.4 L523.5 320.4 L524.5 321.5 L525.5 321.3 L526.5 320.8 L527.5 321.1 L528.5 322.8 L529.5 322.3 L530.5 322.1 L531.5 323.6 L532.5 323.5 L533.5 323.5 L534.5 323.3 L535.5 323.5 L536.5 324.8 L537.5 324.5 L538.5 324.7 L539.5 325.3 L540.5 324.7 L541.5 325.7 L542.5 326.1 L543.5 327.6 L544.5 325.7 L545.5 326.8 L546.5 327.0 L547.5 326.8 L548.5 328.8 L549.5 328.9 L550.5 328.2 L551.5 328.6 L552.5 328.9 L553.5 329.3 L554.5 329.5 L555.5 330.1 L556.5 330.7 L557.5 330.6 L558.5 331.1" stroke="#4a2a70"/>
<path d="M156.5 363.1 L157.5 362.6 L158.5 362.3 L159.5 361.8 L160.5 361.8 L161.5 361.5 L162.5 361.1 L163.5 360.8 L164.5 360.3 L165.5 360.5 L166.5 360.0 L167.5 359.6 L168.5 359.5 L169.5 359.1 L170.5 358.8 L171.5 358.4 L172.5 358.2 L173.5 358.0 L174.5 357.7 L175.5 357.4 L176.5 357.1 L177.5 356.9 L178.5 356.4 L179.5 355.8 L180.5 355.5 L181.5 355.7 L182.5 354.9 L183.5 354.8 L184.5 354.6 L185.5 354.5 L186.5 353.6 L187.5 353.5 L188.5 353.3 L189.5 353.0 L190.5 352.8 L191.5 352.7 L192.5 352.3 L193.5 352.5 L194.5 351.9 L195.5 351.1 L196.5 350.7 L197.5 350.7 L198.5 350.4 L199.5 350.2 L200.5 349.7 L201.5 349.4 L202.5 348.8 L203.5 348.5 L204.5 348.1 L205.5 347.5 L206.5 347.3 L207.5 346.4 L208.5 346.6 L209.5 346.1 L210.5 346.2 L211.5 345.1 L212.5 344.3 L213.5 344.1 L214.5 343.8 L215.5 343.3 L216.5 342.7 L217.5 342.6 L218.5 341.9 L219.5 342.1 L220.5 341.0 L221.5 341.2 L222.5 340.9 L223.5 340.3 L224.5 340.2 L225.5 339.5 L226.5 339.2 L227.5 338.3 L228.5 337.8 L229.5 337.6 L230.5 337.4 L231.5 337.3 L232.5 336.1 L233.5 335.9 L234.5 335.4 L235.5 335.6 L236.5 334.7 L237.5 334.9 L238.5 334.0 L239.5 333.5 L240.5 333.1 L241.5 332.4 L242.5 331.7 L243.5 332.1 L244.5 331.7 L245.5 332.5 L246.5 331.4 L247.5 331.3 L248.5 330.6 L249.5 330.1 L250.5 329.2 L251.5 328.9 L252.5 329.8 L253.5 328.6 L254.5 328.2 L255.5 328.4 L256.5 327.6 L257.5 327.2 L258.5 328.0 L259.5 326.8 L260.5 326.1 L261.5 325.7 L262.5 325.2 L263.5 325.4 L264.5 325.2 L265.5 324.2 L266.5 324.0 L267.5 322.9 L268.5 323.3 L269.5 323.5 L270.5 322.1 L271.5 322.3 L272.5 321.6 L273.5 321.3 L274.5 321.5 L275.5 320.3 L276.5 321.3 L277.5 321.1 L278.5 320.8 L279.5 319.2 L280.5 318.3 L281.5 318.9 L282.5 319.1 L283.5 318.7 L284.5 318.4 L285.5 318.2 L286.5 317.7 L287.5 318.2 L288.5 316.4 L289.5 317.5 L290.5 317.3 L291.5 316.3 L292.5 319.1 L293.5 316.4 L294.5 316.1 L295.5 314.7 L296.5 315.6 L297.5 315.3 L298.5 315.7 L299.5 314.2 L300.5 315.2 L301.5 313.0 L302.5 313.9 L303.5 312.1 L304.5 313.3 L305.5 313.7 L306.5 311.5 L307.5 313.1 L308.5 312.7 L309.5 310.7 L310.5 310.9 L311.5 311.1 L312.5 311.7 L313.5 312.2 L314.5 310.1 L315.5 309.4 L316.5 309.5 L317.5 306.9 L318.5 309.5 L319.5 308.5 L320.5 307.9 L321.5 309.2 L322.5 307.1 L323.5 306.2 L324.5 307.6 L325.5 305.7 L326.5 305.8 L327.5 305.0 L328.5 304.9 L329.5 304.7 L330.5 304.4 L331.5 302.3 L332.5 304.7 L333.5 302.4 L334.5 301.9 L335.5 303.0 L336.5 301.4 L337.5 302.5 L338.5 303.2 L339.5 302.9 L340.5 301.2 L341.5 302.9 L342.5 301.4 L343.5 300.7 L344.5 300.6 L345.5 301.9 L346.5 300.7 L347.5 303.0 L348.5 302.4 L349.5 302.0 L350.5 302.7 L351.5 302.4 L352.5 300.3 L353.5 304.2 L354.5 299.3 L355.5 301.2 L356.5 298.8 L357.5 300.6 L358.5 300.3 L359.5 299.1 L360.5 301.3 L361.5 300.7 L362.5 300.5 L363.5 299.1 L364.5 302.1 L365.5 300.0 L366.5 301.1 L367.5 298.2 L368.5 301.8 L369.5 299.5 L370.5 301.1 L371.5 299.2 L372.5 299.6 L373.5 300.2 L374.5 299.5 L375.5 302.1 L376.5 299.1 L377.5 298.9 L378.5 300.6 L379.5 299.3 L380.5 297.8 L381.5 298.6 L382.5 299.8 L383.5 298.9 L384.5 300.2 L385.5 297.1 L386.5 298.9 L387.5 297.5 L388.5 297.9 L389.5 297.5 L390.5 297.1 L391.5 301.3 L392.5 298.3 L393.5 299.0 L394.5 298.4 L395.5 300.5 L396.5 297.2 L397.5 296.3 L398.5 298.9 L399.5 296.9 L400.5 300.2 L401.5 297.1 L402.5 298.0 L403.5 299.3 L404.5 297.1 L405.5 298.2 L406.5 299.1 L407.5 296.8 L408.5 298.7 L409.5 297.0 L410.5 298.7 L411.5 301.1 L412.5 300.9 L413.5 298.9 L414.5 298.9 L415.5 298.3 L416.5 300.3 L417.5 300.3 L418.5 297.7 L419.5 298.4 L420.5 298.0 L421.5 299.9 L422.5 300.1 L423.5 300.0 L424.5 300.7 L425.5 300.7 L426.5 300.0 L427.5 300.8 L428.5 299.5 L429.5 301.2 L430.5 301.6 L431.5 297.8 L432.5 302.6 L433.5 300.6 L434.5 301.7 L435.5 301.0 L436.5 302.9 L437.5 301.2 L438.5 301.8 L439.5 300.8 L440.5 301.6 L441.5 302.2 L442.5 300.7 L443.5 301.8 L444.5 301.4 L445.5 302.3 L446.5 303.5 L447.5 302.6 L448.5 304.1 L449.5 301.9 L450.5 302.4 L451.5 302.8 L452.5 302.1 L453.5 303.6 L454.5 302.5 L455.5 302.6 L456.5 303.9 L457.5 302.8 L458.5 303.9 L459.5 304.1 L460.5 305.7 L461.5 306.3 L462.5 305.6 L463.5 304.6 L464.5 306.5 L465.5 308.4 L466.5 305.8 L467.5 306.2 L468.5 308.1 L469.5 307.0 L470.5 307.0 L471.5 308.8 L472.5 307.0 L473.5 309.1 L474.5 307.7 L475.5 309.3 L476.5 309.0 L477.5 308.6 L478.5 310.4 L479.5 308.6 L480.5 310.7 L481.5 310.3 L482.5 311.7 L483.5 310.0 L484.5 312.2 L485.5 313.4 L486.5 311.4 L487.5 312.1 L488.5 313.1 L489.5 315.6 L490.5 313.0 L491.5 312.4 L492.5 313.4 L493.5 313.3 L494.5 313.2 L495.5 312.7 L496.5 315.2 L497.5 313.0 L498.5 314.3 L499.5 313.2 L500.5 313.1 L501.5 315.5 L502.5 314.2 L503.5 316.0 L504.5 315.7 L505.5 315.2 L506.5 316.7 L507.5 315.3 L508.5 317.1 L509.5 317.6 L510.5 316.0 L511.5 317.3 L512.5 318.5 L513.5 317.8 L514.5 317.0 L515.5 318.9 L516.5 318.5 L517.5 318.9 L518.5 318.1 L519.5 319.5 L520.5 319.8 L521.5 319.1 L522.5 320.5 L523.5 320.2 L524.5 321.2 L525.5 321.5 L526.5 320.8 L527.5 320.8 L528.5 322.6 L529.5 322.5 L530.5 322.0 L531.5 323.3 L532.5 323.3 L533.5 323.5 L534.5 323.3 L535.5 323.5 L536.5 324.8 L537.5 324.4 L538.5 324.6 L539.5 325.3 L540.5 324.8 L541.5 325.6 L542.5 325.9 L543.5 327.6 L544.5 325.8 L545.5 326.9 L546.5 326.9 L547.5 326.7 L548.5 328.8 L549.5 328.9 L550.5 328.2 L551.5 328.6 L552.5 329.0 L553.5 329.3 L554.5 329.5 L555.5 330.1 L556.5 330.8 L557.5 330.8 L558.5 331.1" stroke="#e8a035"/>
</g>
<g shape-rendering="crispEdges" stroke="#000" stroke-width="1" fill="none">
<line x1="156.5" y1="295" x2="156.5" y2="364"/>
<line x1="156" y1="363.5" x2="559" y2="363.5"/>
<line x1="156" y1="296.5" x2="161" y2="296.5"/>
<line x1="156" y1="323.5" x2="161" y2="323.5"/>
<line x1="156" y1="350.5" x2="161" y2="350.5"/>
<line x1="198.5" y1="359" x2="198.5" y2="364"/>
<line x1="277.5" y1="359" x2="277.5" y2="364"/>
<line x1="355.5" y1="359" x2="355.5" y2="364"/>
<line x1="434.5" y1="359" x2="434.5" y2="364"/>
<line x1="513.5" y1="359" x2="513.5" y2="364"/>
</g>
<text class="t" transform="translate(328.5 274.7) scale(0.915 1)">Bin 3</text>
<text class="n" transform="translate(198.3 399.0) scale(0.935 1)" text-anchor="middle">2975</text>
<text class="n" transform="translate(277.3 399.0) scale(0.935 1)" text-anchor="middle">2980</text>
<text class="n" transform="translate(355.3 399.0) scale(0.935 1)" text-anchor="middle">2985</text>
<text class="n" transform="translate(434.3 399.0) scale(0.935 1)" text-anchor="middle">2990</text>
<text class="n" transform="translate(513.3 399.0) scale(0.935 1)" text-anchor="middle">2995</text>
<text class="t" transform="translate(250.0 437.0) scale(0.912 1)">Wavenumber [cm<tspan dy="-12" dx="1.4" font-size="18" letter-spacing="2">-1</tspan><tspan dy="12" dx="-1.5">]</tspan></text>
<text class="n" transform="translate(150.8 308.2) scale(0.92 1)" text-anchor="end">150</text>
<text class="n" transform="translate(150.8 335.2) scale(0.92 1)" text-anchor="end">100</text>
<text class="n" transform="translate(150.8 362.2) scale(0.92 1)" text-anchor="end">50</text>
<text class="t" style="font-size:27.6px" transform="translate(96.6 331.0) rotate(-90) scale(0.905 1)" text-anchor="middle">ADU</text>
<clipPath id="c4"><rect x="683" y="295" width="403" height="69"/></clipPath>
<path d="M683.5 363.3 L685.5 362.3 L687.5 361.5 L689.5 361.1 L691.5 360.6 L693.5 360.0 L695.5 359.0 L697.5 358.7 L699.5 357.7 L701.5 357.0 L703.5 356.4 L705.5 355.8 L707.5 355.5 L709.5 355.0 L711.5 354.2 L713.5 353.4 L715.5 353.0 L717.5 352.3 L719.5 351.6 L721.5 350.7 L723.5 350.0 L725.5 350.4 L727.5 349.1 L729.5 348.4 L731.5 347.6 L733.5 346.6 L735.5 346.0 L737.5 345.3 L739.5 344.9 L741.5 343.7 L743.5 342.7 L745.5 342.2 L747.5 341.8 L749.5 341.2 L751.5 340.3 L753.5 338.8 L755.5 338.5 L757.5 338.1 L759.5 336.7 L761.5 336.8 L763.5 335.0 L765.5 334.6 L767.5 333.2 L769.5 332.9 L771.5 333.4 L773.5 332.1 L775.5 331.2 L777.5 330.9 L779.5 329.9 L781.5 329.2 L783.5 328.5 L785.5 327.4 L787.5 326.6 L789.5 326.5 L791.5 326.7 L793.5 324.3 L795.5 322.8 L797.5 322.8 L799.5 322.9 L801.5 322.2 L803.5 321.1 L805.5 321.0 L807.5 320.2 L809.5 319.3 L811.5 318.0 L813.5 318.9 L815.5 317.7 L817.5 317.2 L819.5 316.6 L821.5 315.2 L823.5 316.1 L825.5 315.7 L827.5 313.1 L829.5 314.0 L831.5 313.1 L833.5 311.8 L835.5 310.6 L837.5 312.4 L839.5 311.7 L841.5 309.8 L843.5 309.9 L845.5 310.1 L847.5 307.2 L849.5 307.6 L851.5 306.9 L853.5 307.2 L855.5 305.1 L857.5 305.2 L859.5 305.1 L861.5 304.0 L863.5 303.0 L865.5 303.0 L867.5 303.2 L869.5 304.0 L871.5 303.3 L873.5 302.6 L875.5 300.0 L877.5 298.4 L879.5 298.6 L881.5 301.2 L883.5 299.9 L885.5 296.6 L887.5 300.0 L889.5 295.6 L891.5 297.8 L893.5 297.2 L895.5 296.7 L897.5 299.4 L899.5 300.2 L901.5 298.3 L903.5 300.7 L905.5 298.6 L907.5 297.3 L909.5 297.9 L911.5 299.3 L913.5 299.4 L915.5 298.1 L917.5 298.5 L919.5 293.9 L921.5 296.1 L923.5 296.5 L925.5 297.5 L927.5 300.1 L929.5 296.3 L931.5 297.0 L933.5 297.0 L935.5 298.1 L937.5 297.3 L939.5 296.9 L941.5 296.5 L943.5 298.4 L945.5 298.5 L947.5 298.1 L949.5 299.1 L951.5 296.9 L953.5 298.5 L955.5 295.5 L957.5 298.7 L959.5 300.8 L961.5 298.5 L963.5 299.2 L965.5 300.4 L967.5 300.2 L969.5 301.8 L971.5 299.8 L973.5 302.8 L975.5 305.1 L977.5 304.8 L979.5 305.0 L981.5 303.4 L983.5 303.4 L985.5 303.3 L987.5 301.5 L989.5 301.6 L991.5 301.9 L993.5 302.4 L995.5 305.6 L997.5 305.1 L999.5 304.4 L1001.5 305.4 L1003.5 306.8 L1005.5 305.4 L1007.5 308.1 L1009.5 305.8 L1011.5 308.8 L1013.5 308.8 L1015.5 310.8 L1017.5 310.7 L1019.5 311.9 L1021.5 310.1 L1023.5 312.0 L1025.5 314.0 L1027.5 314.2 L1029.5 316.4 L1031.5 312.7 L1033.5 315.3 L1035.5 315.6 L1037.5 316.9 L1039.5 316.7 L1041.5 318.4 L1043.5 318.0 L1045.5 319.9 L1047.5 320.1 L1049.5 321.6 L1051.5 320.9 L1053.5 320.4 L1055.5 321.1 L1057.5 322.5 L1059.5 321.5 L1061.5 323.0 L1063.5 325.0 L1065.5 324.0 L1067.5 326.2 L1069.5 326.6 L1071.5 326.5 L1073.5 326.7 L1075.5 327.6 L1077.5 327.9 L1079.5 327.8 L1081.5 329.6 L1083.5 329.8 L1085.5 331.3" fill="none" stroke="#fff1d2" stroke-width="3" stroke-linejoin="round" clip-path="url(#c4)"/>
<g shape-rendering="crispEdges" stroke="#000" stroke-width="1" fill="none">
<line x1="688" y1="297.5" x2="1086" y2="297.5" stroke-dasharray="1 4" stroke-dashoffset="0"/>
<line x1="688" y1="309.5" x2="1086" y2="309.5" stroke-dasharray="1 4" stroke-dashoffset="2"/>
<line x1="688" y1="320.5" x2="1086" y2="320.5" stroke-dasharray="1 4" stroke-dashoffset="4"/>
<line x1="688" y1="332.5" x2="1086" y2="332.5" stroke-dasharray="1 4" stroke-dashoffset="1"/>
<line x1="688" y1="343.5" x2="1086" y2="343.5" stroke-dasharray="1 4" stroke-dashoffset="3"/>
<line x1="688" y1="354.5" x2="1086" y2="354.5" stroke-dasharray="1 4" stroke-dashoffset="0"/>
<line x1="726.5" y1="295" x2="726.5" y2="359" stroke-dasharray="1 4" stroke-dashoffset="3"/>
<line x1="805.5" y1="295" x2="805.5" y2="359" stroke-dasharray="1 4" stroke-dashoffset="3"/>
<line x1="884.5" y1="295" x2="884.5" y2="359" stroke-dasharray="1 4" stroke-dashoffset="3"/>
<line x1="963.5" y1="295" x2="963.5" y2="359" stroke-dasharray="1 4" stroke-dashoffset="3"/>
<line x1="1041.5" y1="295" x2="1041.5" y2="359" stroke-dasharray="1 4" stroke-dashoffset="3"/>
</g>
<g fill="none" stroke-width="1" shape-rendering="crispEdges" clip-path="url(#c4)">
<path d="M683.5 363.3 L684.5 362.5 L685.5 362.3 L686.5 361.8 L687.5 361.5 L688.5 361.6 L689.5 361.0 L690.5 360.7 L691.5 360.6 L692.5 360.5 L693.5 360.0 L694.5 359.7 L695.5 359.0 L696.5 359.1 L697.5 358.7 L698.5 358.0 L699.5 357.7 L700.5 357.7 L701.5 357.1 L702.5 356.7 L703.5 356.4 L704.5 356.4 L705.5 355.8 L706.5 355.6 L707.5 355.5 L708.5 355.3 L709.5 355.0 L710.5 354.6 L711.5 354.2 L712.5 353.4 L713.5 353.4 L714.5 353.3 L715.5 353.0 L716.5 352.4 L717.5 352.4 L718.5 351.8 L719.5 351.6 L720.5 351.2 L721.5 350.7 L722.5 350.2 L723.5 350.0 L724.5 349.9 L725.5 350.4 L726.5 348.8 L727.5 349.1 L728.5 348.9 L729.5 348.5 L730.5 347.9 L731.5 347.6 L732.5 347.2 L733.5 346.6 L734.5 346.3 L735.5 346.0 L736.5 345.6 L737.5 345.3 L738.5 344.7 L739.5 344.9 L740.5 344.4 L741.5 343.7 L742.5 343.0 L743.5 342.7 L744.5 342.6 L745.5 342.2 L746.5 341.7 L747.5 341.9 L748.5 340.7 L749.5 341.2 L750.5 339.9 L751.5 340.4 L752.5 339.4 L753.5 338.8 L754.5 338.8 L755.5 338.5 L756.5 338.1 L757.5 338.0 L758.5 337.4 L759.5 336.7 L760.5 336.7 L761.5 336.7 L762.5 336.3 L763.5 335.1 L764.5 334.7 L765.5 334.6 L766.5 334.5 L767.5 333.2 L768.5 333.3 L769.5 332.9 L770.5 332.6 L771.5 333.3 L772.5 332.4 L773.5 332.3 L774.5 331.9 L775.5 331.1 L776.5 331.1 L777.5 330.9 L778.5 330.5 L779.5 330.0 L780.5 329.8 L781.5 329.2 L782.5 328.5 L783.5 328.6 L784.5 328.4 L785.5 327.4 L786.5 327.4 L787.5 326.8 L788.5 326.6 L789.5 326.4 L790.5 326.8 L791.5 326.8 L792.5 326.0 L793.5 324.4 L794.5 324.5 L795.5 322.8 L796.5 323.3 L797.5 322.6 L798.5 323.3 L799.5 322.7 L800.5 323.0 L801.5 322.3 L802.5 320.8 L803.5 321.6 L804.5 322.3 L805.5 320.8 L806.5 320.8 L807.5 320.5 L808.5 318.5 L809.5 319.1 L810.5 318.9 L811.5 318.1 L812.5 318.1 L813.5 318.8 L814.5 317.8 L815.5 317.7 L816.5 317.2 L817.5 317.1 L818.5 317.0 L819.5 316.7 L820.5 315.6 L821.5 315.0 L822.5 314.4 L823.5 316.2 L824.5 315.6 L825.5 316.0 L826.5 315.6 L827.5 313.1 L828.5 313.4 L829.5 313.8 L830.5 312.0 L831.5 313.1 L832.5 312.4 L833.5 312.0 L834.5 312.3 L835.5 310.9 L836.5 312.2 L837.5 312.3 L838.5 310.5 L839.5 312.1 L840.5 309.5 L841.5 309.5 L842.5 310.8 L843.5 309.5 L844.5 310.0 L845.5 310.5 L846.5 310.4 L847.5 307.1 L848.5 310.0 L849.5 307.3 L850.5 308.1 L851.5 307.2 L852.5 308.8 L853.5 307.1 L854.5 304.5 L855.5 305.0 L856.5 305.2 L857.5 304.8 L858.5 305.2 L859.5 305.0 L860.5 304.6 L861.5 303.8 L862.5 303.5 L863.5 303.5 L864.5 305.2 L865.5 302.9 L866.5 303.2 L867.5 303.2 L868.5 301.9 L869.5 304.1 L870.5 302.0 L871.5 302.8 L872.5 302.0 L873.5 302.7 L874.5 301.3 L875.5 300.3 L876.5 300.4 L877.5 298.1 L878.5 302.0 L879.5 298.5 L880.5 296.9 L881.5 300.3 L882.5 299.0 L883.5 300.2 L884.5 298.9 L885.5 295.8 L886.5 299.0 L887.5 299.7 L888.5 297.3 L889.5 295.5 L890.5 299.2 L891.5 298.0 L892.5 298.2 L893.5 297.9 L894.5 299.1 L895.5 295.9 L896.5 296.3 L897.5 300.0 L898.5 298.0 L899.5 300.0 L900.5 296.1 L901.5 297.9 L902.5 296.5 L903.5 301.3 L904.5 295.6 L905.5 299.2 L906.5 296.3 L907.5 297.9 L908.5 295.9 L909.5 297.5 L910.5 298.1 L911.5 299.2 L912.5 298.3 L913.5 299.7 L914.5 298.2 L915.5 298.3 L916.5 293.3 L917.5 298.4 L918.5 296.9 L919.5 292.8 L920.5 297.9 L921.5 295.2 L922.5 299.0 L923.5 296.9 L924.5 297.7 L925.5 297.0 L926.5 298.7 L927.5 300.1 L928.5 298.4 L929.5 296.5 L930.5 296.9 L931.5 296.8 L932.5 296.8 L933.5 296.0 L934.5 294.8 L935.5 298.0 L936.5 297.8 L937.5 297.1 L938.5 297.3 L939.5 297.7 L940.5 298.2 L941.5 297.5 L942.5 297.0 L943.5 299.2 L944.5 296.1 L945.5 298.6 L946.5 296.9 L947.5 298.3 L948.5 297.9 L949.5 299.1 L950.5 298.6 L951.5 295.5 L952.5 297.9 L953.5 299.0 L954.5 297.9 L955.5 296.1 L956.5 296.3 L957.5 299.2 L958.5 299.9 L959.5 300.1 L960.5 303.6 L961.5 297.8 L962.5 299.1 L963.5 298.8 L964.5 298.7 L965.5 299.7 L966.5 301.9 L967.5 300.9 L968.5 302.6 L969.5 302.1 L970.5 301.1 L971.5 299.8 L972.5 302.5 L973.5 302.7 L974.5 301.6 L975.5 305.3 L976.5 303.3 L977.5 305.1 L978.5 306.5 L979.5 305.0 L980.5 303.3 L981.5 303.4 L982.5 304.1 L983.5 303.5 L984.5 302.4 L985.5 302.9 L986.5 303.8 L987.5 302.0 L988.5 299.7 L989.5 301.1 L990.5 300.0 L991.5 302.3 L992.5 303.5 L993.5 302.2 L994.5 301.1 L995.5 305.1 L996.5 304.0 L997.5 305.3 L998.5 305.1 L999.5 304.0 L1000.5 307.3 L1001.5 305.0 L1002.5 307.7 L1003.5 306.8 L1004.5 307.2 L1005.5 305.2 L1006.5 307.3 L1007.5 308.0 L1008.5 307.2 L1009.5 305.7 L1010.5 308.4 L1011.5 308.3 L1012.5 309.7 L1013.5 309.1 L1014.5 308.6 L1015.5 311.2 L1016.5 310.9 L1017.5 310.4 L1018.5 312.4 L1019.5 312.1 L1020.5 312.1 L1021.5 309.8 L1022.5 313.8 L1023.5 311.8 L1024.5 312.6 L1025.5 314.1 L1026.5 313.4 L1027.5 314.0 L1028.5 314.1 L1029.5 316.4 L1030.5 315.0 L1031.5 312.4 L1032.5 314.8 L1033.5 315.5 L1034.5 315.9 L1035.5 315.9 L1036.5 316.9 L1037.5 317.0 L1038.5 317.3 L1039.5 316.8 L1040.5 315.9 L1041.5 318.4 L1042.5 318.0 L1043.5 318.4 L1044.5 318.3 L1045.5 319.8 L1046.5 318.0 L1047.5 320.5 L1048.5 319.5 L1049.5 321.6 L1050.5 319.0 L1051.5 320.9 L1052.5 321.0 L1053.5 320.3 L1054.5 321.1 L1055.5 321.1 L1056.5 321.9 L1057.5 322.5 L1058.5 322.4 L1059.5 321.6 L1060.5 322.4 L1061.5 322.7 L1062.5 323.5 L1063.5 325.1 L1064.5 325.4 L1065.5 324.2 L1066.5 323.9 L1067.5 326.0 L1068.5 325.2 L1069.5 326.4 L1070.5 325.6 L1071.5 326.3 L1072.5 326.1 L1073.5 326.7 L1074.5 326.6 L1075.5 327.5 L1076.5 329.0 L1077.5 327.7 L1078.5 328.4 L1079.5 327.8 L1080.5 329.5 L1081.5 329.5 L1082.5 329.9 L1083.5 329.8 L1084.5 330.2 L1085.5 331.3" stroke="#4a2a70"/>
<path d="M683.5 363.3 L684.5 362.5 L685.5 362.3 L686.5 361.8 L687.5 361.5 L688.5 361.6 L689.5 361.1 L690.5 360.7 L691.5 360.6 L692.5 360.5 L693.5 360.0 L694.5 359.7 L695.5 359.0 L696.5 359.1 L697.5 358.7 L698.5 358.0 L699.5 357.7 L700.5 357.7 L701.5 357.0 L702.5 356.7 L703.5 356.4 L704.5 356.4 L705.5 355.8 L706.5 355.6 L707.5 355.5 L708.5 355.3 L709.5 355.0 L710.5 354.6 L711.5 354.2 L712.5 353.4 L713.5 353.4 L714.5 353.4 L715.5 353.0 L716.5 352.4 L717.5 352.3 L718.5 351.9 L719.5 351.6 L720.5 351.2 L721.5 350.7 L722.5 350.2 L723.5 350.0 L724.5 349.9 L725.5 350.4 L726.5 348.9 L727.5 349.1 L728.5 348.9 L729.5 348.4 L730.5 347.9 L731.5 347.6 L732.5 347.2 L733.5 346.6 L734.5 346.3 L735.5 346.0 L736.5 345.6 L737.5 345.3 L738.5 344.7 L739.5 344.9 L740.5 344.3 L741.5 343.7 L742.5 343.0 L743.5 342.7 L744.5 342.5 L745.5 342.2 L746.5 341.6 L747.5 341.8 L748.5 340.8 L749.5 341.2 L750.5 339.9 L751.5 340.3 L752.5 339.3 L753.5 338.8 L754.5 338.9 L755.5 338.5 L756.5 338.2 L757.5 338.1 L758.5 337.3 L759.5 336.7 L760.5 336.8 L761.5 336.8 L762.5 336.3 L763.5 335.0 L764.5 334.9 L765.5 334.6 L766.5 334.3 L767.5 333.2 L768.5 333.4 L769.5 332.9 L770.5 332.5 L771.5 333.4 L772.5 332.4 L773.5 332.1 L774.5 331.9 L775.5 331.2 L776.5 331.2 L777.5 330.9 L778.5 330.4 L779.5 329.9 L780.5 329.9 L781.5 329.2 L782.5 328.6 L783.5 328.5 L784.5 328.3 L785.5 327.4 L786.5 327.4 L787.5 326.6 L788.5 326.6 L789.5 326.5 L790.5 326.6 L791.5 326.7 L792.5 325.8 L793.5 324.3 L794.5 324.3 L795.5 322.8 L796.5 323.4 L797.5 322.8 L798.5 323.1 L799.5 322.9 L800.5 323.0 L801.5 322.2 L802.5 320.8 L803.5 321.1 L804.5 322.4 L805.5 321.0 L806.5 320.8 L807.5 320.2 L808.5 318.1 L809.5 319.3 L810.5 319.1 L811.5 318.0 L812.5 318.2 L813.5 318.9 L814.5 318.0 L815.5 317.7 L816.5 317.1 L817.5 317.2 L818.5 317.1 L819.5 316.6 L820.5 315.4 L821.5 315.2 L822.5 314.3 L823.5 316.1 L824.5 314.9 L825.5 315.7 L826.5 315.3 L827.5 313.1 L828.5 313.7 L829.5 314.0 L830.5 311.5 L831.5 313.1 L832.5 312.6 L833.5 311.8 L834.5 312.6 L835.5 310.6 L836.5 311.6 L837.5 312.4 L838.5 310.4 L839.5 311.7 L840.5 309.7 L841.5 309.8 L842.5 310.7 L843.5 309.9 L844.5 310.0 L845.5 310.1 L846.5 310.2 L847.5 307.2 L848.5 309.9 L849.5 307.6 L850.5 307.9 L851.5 306.9 L852.5 308.7 L853.5 307.2 L854.5 304.3 L855.5 305.1 L856.5 305.1 L857.5 305.2 L858.5 305.2 L859.5 305.1 L860.5 304.0 L861.5 304.0 L862.5 303.7 L863.5 303.0 L864.5 304.8 L865.5 303.0 L866.5 303.0 L867.5 303.2 L868.5 301.5 L869.5 304.0 L870.5 301.9 L871.5 303.3 L872.5 301.3 L873.5 302.6 L874.5 301.3 L875.5 300.0 L876.5 300.0 L877.5 298.4 L878.5 301.3 L879.5 298.6 L880.5 297.6 L881.5 301.2 L882.5 298.9 L883.5 299.9 L884.5 298.9 L885.5 296.6 L886.5 298.4 L887.5 300.0 L888.5 297.7 L889.5 295.6 L890.5 299.6 L891.5 297.8 L892.5 298.4 L893.5 297.2 L894.5 298.6 L895.5 296.7 L896.5 295.9 L897.5 299.4 L898.5 298.5 L899.5 300.2 L900.5 296.4 L901.5 298.3 L902.5 296.5 L903.5 300.7 L904.5 297.1 L905.5 298.6 L906.5 296.1 L907.5 297.3 L908.5 297.1 L909.5 297.9 L910.5 297.7 L911.5 299.3 L912.5 298.2 L913.5 299.4 L914.5 296.9 L915.5 298.1 L916.5 295.0 L917.5 298.5 L918.5 297.0 L919.5 293.9 L920.5 297.4 L921.5 296.1 L922.5 299.3 L923.5 296.5 L924.5 297.6 L925.5 297.5 L926.5 298.5 L927.5 300.1 L928.5 297.6 L929.5 296.3 L930.5 297.8 L931.5 297.0 L932.5 296.7 L933.5 297.0 L934.5 295.1 L935.5 298.1 L936.5 297.6 L937.5 297.3 L938.5 297.0 L939.5 296.9 L940.5 298.2 L941.5 296.5 L942.5 296.9 L943.5 298.4 L944.5 296.5 L945.5 298.5 L946.5 297.7 L947.5 298.1 L948.5 298.5 L949.5 299.1 L950.5 298.6 L951.5 296.9 L952.5 297.6 L953.5 298.5 L954.5 297.8 L955.5 295.5 L956.5 296.6 L957.5 298.7 L958.5 300.2 L959.5 300.8 L960.5 302.8 L961.5 298.5 L962.5 298.5 L963.5 299.2 L964.5 299.9 L965.5 300.4 L966.5 302.3 L967.5 300.2 L968.5 302.3 L969.5 301.8 L970.5 301.1 L971.5 299.8 L972.5 302.8 L973.5 302.8 L974.5 300.9 L975.5 305.1 L976.5 303.3 L977.5 304.8 L978.5 306.1 L979.5 305.0 L980.5 303.6 L981.5 303.4 L982.5 304.1 L983.5 303.4 L984.5 302.2 L985.5 303.3 L986.5 303.4 L987.5 301.5 L988.5 299.9 L989.5 301.6 L990.5 299.9 L991.5 301.9 L992.5 303.0 L993.5 302.4 L994.5 301.7 L995.5 305.6 L996.5 303.6 L997.5 305.1 L998.5 305.0 L999.5 304.4 L1000.5 307.2 L1001.5 305.4 L1002.5 306.9 L1003.5 306.8 L1004.5 307.6 L1005.5 305.4 L1006.5 307.5 L1007.5 308.1 L1008.5 307.8 L1009.5 305.8 L1010.5 307.9 L1011.5 308.8 L1012.5 309.9 L1013.5 308.8 L1014.5 308.6 L1015.5 310.8 L1016.5 310.8 L1017.5 310.7 L1018.5 312.2 L1019.5 311.9 L1020.5 312.1 L1021.5 310.1 L1022.5 313.5 L1023.5 312.0 L1024.5 312.7 L1025.5 314.0 L1026.5 313.4 L1027.5 314.2 L1028.5 314.5 L1029.5 316.4 L1030.5 315.0 L1031.5 312.7 L1032.5 314.8 L1033.5 315.3 L1034.5 315.8 L1035.5 315.6 L1036.5 317.0 L1037.5 316.9 L1038.5 317.3 L1039.5 316.7 L1040.5 316.1 L1041.5 318.4 L1042.5 318.0 L1043.5 318.0 L1044.5 318.4 L1045.5 319.9 L1046.5 318.0 L1047.5 320.1 L1048.5 319.9 L1049.5 321.6 L1050.5 319.0 L1051.5 320.9 L1052.5 320.8 L1053.5 320.4 L1054.5 320.9 L1055.5 321.1 L1056.5 321.8 L1057.5 322.5 L1058.5 322.5 L1059.5 321.5 L1060.5 322.6 L1061.5 323.0 L1062.5 323.7 L1063.5 325.0 L1064.5 325.4 L1065.5 324.0 L1066.5 323.7 L1067.5 326.2 L1068.5 325.4 L1069.5 326.6 L1070.5 325.4 L1071.5 326.5 L1072.5 326.2 L1073.5 326.7 L1074.5 326.5 L1075.5 327.6 L1076.5 328.9 L1077.5 327.9 L1078.5 328.3 L1079.5 327.8 L1080.5 329.6 L1081.5 329.6 L1082.5 329.8 L1083.5 329.8 L1084.5 330.3 L1085.5 331.3" stroke="#e8a035"/>
</g>
<g shape-rendering="crispEdges" stroke="#000" stroke-width="1" fill="none">
<line x1="683.5" y1="295" x2="683.5" y2="364"/>
<line x1="683" y1="363.5" x2="1086" y2="363.5"/>
<line x1="683" y1="297.5" x2="688" y2="297.5"/>
<line x1="683" y1="309.5" x2="688" y2="309.5"/>
<line x1="683" y1="320.5" x2="688" y2="320.5"/>
<line x1="683" y1="332.5" x2="688" y2="332.5"/>
<line x1="683" y1="343.5" x2="688" y2="343.5"/>
<line x1="683" y1="354.5" x2="688" y2="354.5"/>
<line x1="726.5" y1="359" x2="726.5" y2="364"/>
<line x1="805.5" y1="359" x2="805.5" y2="364"/>
<line x1="884.5" y1="359" x2="884.5" y2="364"/>
<line x1="963.5" y1="359" x2="963.5" y2="364"/>
<line x1="1041.5" y1="359" x2="1041.5" y2="364"/>
</g>
<text class="t" transform="translate(855.5 274.7) scale(0.915 1)">Bin 4</text>
<text class="n" transform="translate(726.3 399.0) scale(0.935 1)" text-anchor="middle">2975</text>
<text class="n" transform="translate(805.3 399.0) scale(0.935 1)" text-anchor="middle">2980</text>
<text class="n" transform="translate(884.3 399.0) scale(0.935 1)" text-anchor="middle">2985</text>
<text class="n" transform="translate(963.3 399.0) scale(0.935 1)" text-anchor="middle">2990</text>
<text class="n" transform="translate(1041.3 399.0) scale(0.935 1)" text-anchor="middle">2995</text>
<text class="t" transform="translate(777.0 437.0) scale(0.912 1)">Wavenumber [cm<tspan dy="-12" dx="1.4" font-size="18" letter-spacing="2">-1</tspan><tspan dy="12" dx="-1.5">]</tspan></text>
<text class="n" transform="translate(677.8 309.2) scale(0.92 1)" text-anchor="end">140</text>
<text class="n" transform="translate(677.8 321.2) scale(0.92 1)" text-anchor="end">120</text>
<text class="n" transform="translate(677.8 332.2) scale(0.92 1)" text-anchor="end">100</text>
<text class="n" transform="translate(677.8 344.2) scale(0.92 1)" text-anchor="end">80</text>
<text class="n" transform="translate(677.8 355.2) scale(0.92 1)" text-anchor="end">60</text>
<text class="n" transform="translate(677.8 366.2) scale(0.92 1)" text-anchor="end">40</text>
<text class="t" style="font-size:27.6px" transform="translate(623.6 331.0) rotate(-90) scale(0.905 1)" text-anchor="middle">ADU</text>
<clipPath id="c5"><rect x="156" y="493" width="403" height="68"/></clipPath>
<path d="M156.5 559.3 L158.5 558.7 L160.5 557.8 L162.5 557.4 L164.5 556.6 L166.5 556.5 L168.5 555.7 L170.5 555.0 L172.5 554.1 L174.5 554.2 L176.5 553.8 L178.5 553.4 L180.5 552.1 L182.5 552.7 L184.5 551.1 L186.5 550.8 L188.5 550.6 L190.5 549.9 L192.5 548.7 L194.5 547.9 L196.5 547.4 L198.5 546.8 L200.5 546.8 L202.5 545.8 L204.5 544.8 L206.5 543.6 L208.5 542.9 L210.5 541.3 L212.5 541.5 L214.5 540.0 L216.5 539.2 L218.5 538.5 L220.5 537.3 L222.5 535.8 L224.5 535.5 L226.5 534.5 L228.5 534.1 L230.5 533.0 L232.5 531.9 L234.5 531.4 L236.5 530.0 L238.5 529.8 L240.5 528.8 L242.5 528.4 L244.5 527.9 L246.5 526.3 L248.5 526.3 L250.5 525.4 L252.5 524.0 L254.5 524.6 L256.5 523.4 L258.5 523.3 L260.5 522.3 L262.5 522.6 L264.5 521.6 L266.5 520.2 L268.5 519.2 L270.5 519.3 L272.5 517.5 L274.5 517.6 L276.5 517.4 L278.5 516.6 L280.5 516.0 L282.5 514.8 L284.5 513.6 L286.5 513.9 L288.5 514.1 L290.5 512.1 L292.5 512.4 L294.5 512.4 L296.5 511.0 L298.5 510.6 L300.5 511.1 L302.5 511.0 L304.5 509.3 L306.5 507.3 L308.5 508.3 L310.5 508.7 L312.5 509.3 L314.5 505.9 L316.5 504.9 L318.5 503.3 L320.5 504.3 L322.5 504.0 L324.5 504.7 L326.5 504.7 L328.5 501.7 L330.5 498.4 L332.5 500.8 L334.5 501.7 L336.5 498.7 L338.5 500.2 L340.5 499.2 L342.5 497.2 L344.5 498.9 L346.5 499.8 L348.5 496.8 L350.5 497.5 L352.5 498.0 L354.5 500.0 L356.5 497.3 L358.5 495.8 L360.5 497.2 L362.5 495.9 L364.5 496.0 L366.5 501.1 L368.5 498.5 L370.5 496.2 L372.5 498.2 L374.5 497.0 L376.5 497.1 L378.5 500.1 L380.5 496.5 L382.5 493.8 L384.5 496.3 L386.5 498.3 L388.5 496.2 L390.5 495.2 L392.5 497.3 L394.5 496.6 L396.5 496.5 L398.5 494.8 L400.5 495.1 L402.5 494.5 L404.5 494.3 L406.5 495.0 L408.5 493.8 L410.5 494.8 L412.5 497.5 L414.5 496.9 L416.5 495.6 L418.5 496.7 L420.5 498.0 L422.5 497.1 L424.5 499.7 L426.5 498.6 L428.5 498.0 L430.5 499.2 L432.5 500.1 L434.5 497.2 L436.5 499.9 L438.5 498.0 L440.5 498.2 L442.5 499.0 L444.5 495.9 L446.5 494.7 L448.5 498.1 L450.5 499.6 L452.5 500.6 L454.5 500.7 L456.5 499.0 L458.5 500.0 L460.5 499.4 L462.5 500.8 L464.5 501.7 L466.5 502.5 L468.5 505.0 L470.5 500.6 L472.5 505.2 L474.5 502.7 L476.5 504.8 L478.5 503.9 L480.5 505.5 L482.5 506.9 L484.5 507.1 L486.5 508.6 L488.5 509.4 L490.5 510.0 L492.5 510.4 L494.5 509.3 L496.5 508.7 L498.5 511.2 L500.5 510.2 L502.5 512.2 L504.5 513.1 L506.5 512.0 L508.5 514.0 L510.5 512.5 L512.5 514.9 L514.5 514.7 L516.5 515.7 L518.5 516.6 L520.5 515.7 L522.5 517.3 L524.5 517.9 L526.5 518.3 L528.5 519.8 L530.5 519.9 L532.5 519.9 L534.5 520.6 L536.5 521.4 L538.5 521.5 L540.5 523.0 L542.5 522.6 L544.5 523.3 L546.5 524.4 L548.5 524.5 L550.5 526.0 L552.5 525.9 L554.5 526.2 L556.5 527.2 L558.5 527.6" fill="none" stroke="#fff1d2" stroke-width="3" stroke-linejoin="round" clip-path="url(#c5)"/>
<g shape-rendering="crispEdges" stroke="#000" stroke-width="1" fill="none">
<line x1="161" y1="503.5" x2="559" y2="503.5" stroke-dasharray="1 4" stroke-dashoffset="0"/>
<line x1="161" y1="515.5" x2="559" y2="515.5" stroke-dasharray="1 4" stroke-dashoffset="2"/>
<line x1="161" y1="526.5" x2="559" y2="526.5" stroke-dasharray="1 4" stroke-dashoffset="4"/>
<line x1="161" y1="538.5" x2="559" y2="538.5" stroke-dasharray="1 4" stroke-dashoffset="1"/>
<line x1="161" y1="550.5" x2="559" y2="550.5" stroke-dasharray="1 4" stroke-dashoffset="3"/>
<line x1="198.5" y1="493" x2="198.5" y2="556" stroke-dasharray="1 4" stroke-dashoffset="3"/>
<line x1="277.5" y1="493" x2="277.5" y2="556" stroke-dasharray="1 4" stroke-dashoffset="3"/>
<line x1="355.5" y1="493" x2="355.5" y2="556" stroke-dasharray="1 4" stroke-dashoffset="3"/>
<line x1="434.5" y1="493" x2="434.5" y2="556" stroke-dasharray="1 4" stroke-dashoffset="3"/>
<line x1="513.5" y1="493" x2="513.5" y2="556" stroke-dasharray="1 4" stroke-dashoffset="3"/>
</g>
<g fill="none" stroke-width="1" shape-rendering="crispEdges" clip-path="url(#c5)">
<path d="M156.5 559.3 L157.5 558.7 L158.5 558.7 L159.5 557.7 L160.5 557.9 L161.5 558.1 L162.5 557.4 L163.5 557.3 L164.5 556.6 L165.5 556.9 L166.5 556.5 L167.5 556.3 L168.5 555.6 L169.5 555.6 L170.5 555.0 L171.5 555.0 L172.5 554.1 L173.5 554.5 L174.5 554.2 L175.5 553.7 L176.5 553.8 L177.5 553.2 L178.5 553.4 L179.5 552.5 L180.5 552.1 L181.5 552.0 L182.5 552.7 L183.5 551.1 L184.5 551.1 L185.5 550.8 L186.5 550.9 L187.5 549.9 L188.5 550.6 L189.5 549.3 L190.5 550.0 L191.5 549.1 L192.5 548.7 L193.5 548.9 L194.5 547.9 L195.5 548.1 L196.5 547.5 L197.5 547.2 L198.5 546.9 L199.5 546.7 L200.5 546.9 L201.5 545.8 L202.5 545.8 L203.5 544.7 L204.5 544.7 L205.5 544.4 L206.5 543.6 L207.5 543.4 L208.5 542.8 L209.5 542.4 L210.5 541.2 L211.5 541.5 L212.5 541.6 L213.5 539.9 L214.5 540.0 L215.5 539.6 L216.5 539.2 L217.5 538.8 L218.5 538.5 L219.5 537.6 L220.5 537.3 L221.5 536.6 L222.5 535.8 L223.5 535.6 L224.5 535.5 L225.5 535.0 L226.5 534.6 L227.5 534.0 L228.5 534.1 L229.5 533.3 L230.5 532.9 L231.5 533.5 L232.5 531.9 L233.5 531.8 L234.5 531.4 L235.5 529.7 L236.5 530.1 L237.5 529.7 L238.5 529.8 L239.5 528.9 L240.5 528.8 L241.5 528.8 L242.5 528.5 L243.5 527.7 L244.5 527.9 L245.5 527.5 L246.5 526.2 L247.5 524.6 L248.5 526.2 L249.5 526.5 L250.5 525.3 L251.5 526.4 L252.5 524.0 L253.5 524.5 L254.5 524.8 L255.5 523.1 L256.5 523.3 L257.5 523.3 L258.5 523.3 L259.5 523.5 L260.5 522.3 L261.5 521.0 L262.5 522.7 L263.5 521.9 L264.5 521.5 L265.5 519.6 L266.5 520.0 L267.5 518.7 L268.5 519.3 L269.5 519.5 L270.5 519.2 L271.5 519.7 L272.5 517.9 L273.5 519.0 L274.5 517.5 L275.5 517.9 L276.5 517.2 L277.5 517.1 L278.5 516.6 L279.5 514.6 L280.5 516.1 L281.5 515.5 L282.5 514.9 L283.5 513.9 L284.5 513.8 L285.5 516.3 L286.5 514.3 L287.5 512.8 L288.5 514.5 L289.5 512.2 L290.5 512.4 L291.5 512.5 L292.5 511.9 L293.5 512.4 L294.5 512.5 L295.5 511.1 L296.5 511.2 L297.5 511.3 L298.5 510.2 L299.5 510.5 L300.5 511.0 L301.5 510.3 L302.5 511.1 L303.5 508.4 L304.5 509.6 L305.5 508.4 L306.5 506.4 L307.5 508.9 L308.5 507.9 L309.5 507.3 L310.5 508.8 L311.5 508.5 L312.5 509.2 L313.5 506.9 L314.5 505.3 L315.5 506.0 L316.5 505.1 L317.5 504.8 L318.5 502.8 L319.5 506.5 L320.5 504.2 L321.5 504.4 L322.5 504.0 L323.5 502.5 L324.5 504.3 L325.5 504.4 L326.5 504.6 L327.5 502.2 L328.5 501.9 L329.5 500.8 L330.5 498.7 L331.5 503.0 L332.5 500.8 L333.5 501.5 L334.5 501.2 L335.5 501.7 L336.5 499.2 L337.5 497.0 L338.5 500.7 L339.5 498.7 L340.5 500.2 L341.5 500.3 L342.5 497.5 L343.5 501.3 L344.5 498.7 L345.5 500.3 L346.5 499.6 L347.5 498.2 L348.5 496.9 L349.5 499.2 L350.5 497.6 L351.5 499.4 L352.5 497.8 L353.5 497.0 L354.5 500.6 L355.5 497.8 L356.5 497.5 L357.5 496.0 L358.5 496.3 L359.5 497.5 L360.5 497.0 L361.5 498.7 L362.5 496.4 L363.5 498.3 L364.5 495.3 L365.5 498.3 L366.5 501.1 L367.5 497.9 L368.5 499.1 L369.5 496.3 L370.5 496.0 L371.5 496.3 L372.5 498.6 L373.5 496.2 L374.5 497.3 L375.5 497.3 L376.5 497.6 L377.5 497.6 L378.5 499.8 L379.5 495.6 L380.5 496.6 L381.5 498.8 L382.5 493.9 L383.5 495.4 L384.5 495.9 L385.5 497.2 L386.5 498.2 L387.5 498.4 L388.5 496.0 L389.5 495.2 L390.5 494.7 L391.5 496.9 L392.5 497.3 L393.5 498.3 L394.5 497.1 L395.5 498.1 L396.5 496.8 L397.5 495.0 L398.5 495.1 L399.5 495.9 L400.5 495.6 L401.5 498.0 L402.5 494.5 L403.5 495.3 L404.5 494.6 L405.5 497.7 L406.5 495.4 L407.5 496.7 L408.5 494.6 L409.5 497.1 L410.5 494.0 L411.5 495.9 L412.5 497.9 L413.5 496.5 L414.5 497.5 L415.5 496.3 L416.5 495.3 L417.5 497.3 L418.5 496.0 L419.5 497.1 L420.5 497.4 L421.5 495.6 L422.5 497.6 L423.5 498.2 L424.5 500.4 L425.5 496.1 L426.5 497.8 L427.5 498.5 L428.5 498.1 L429.5 500.3 L430.5 499.6 L431.5 496.0 L432.5 500.6 L433.5 496.5 L434.5 496.8 L435.5 500.8 L436.5 500.1 L437.5 499.6 L438.5 498.6 L439.5 498.8 L440.5 497.8 L441.5 500.2 L442.5 499.2 L443.5 499.2 L444.5 495.7 L445.5 495.6 L446.5 494.0 L447.5 496.3 L448.5 498.2 L449.5 498.7 L450.5 499.7 L451.5 500.0 L452.5 500.7 L453.5 498.0 L454.5 501.0 L455.5 498.8 L456.5 498.0 L457.5 497.1 L458.5 500.9 L459.5 500.5 L460.5 498.5 L461.5 502.3 L462.5 500.3 L463.5 499.7 L464.5 501.4 L465.5 502.0 L466.5 502.4 L467.5 502.0 L468.5 504.5 L469.5 502.2 L470.5 500.4 L471.5 504.0 L472.5 505.1 L473.5 507.8 L474.5 501.9 L475.5 503.8 L476.5 504.8 L477.5 504.9 L478.5 503.6 L479.5 504.9 L480.5 505.9 L481.5 505.0 L482.5 506.6 L483.5 506.6 L484.5 507.0 L485.5 507.0 L486.5 509.1 L487.5 507.0 L488.5 509.3 L489.5 508.4 L490.5 510.0 L491.5 507.6 L492.5 510.3 L493.5 508.7 L494.5 509.7 L495.5 508.6 L496.5 508.7 L497.5 510.8 L498.5 511.1 L499.5 511.5 L500.5 510.4 L501.5 510.8 L502.5 512.2 L503.5 511.9 L504.5 513.3 L505.5 512.4 L506.5 512.1 L507.5 514.4 L508.5 514.2 L509.5 513.8 L510.5 512.6 L511.5 515.3 L512.5 515.0 L513.5 514.1 L514.5 515.0 L515.5 516.3 L516.5 515.3 L517.5 516.5 L518.5 516.7 L519.5 516.1 L520.5 516.0 L521.5 516.8 L522.5 517.2 L523.5 516.2 L524.5 517.7 L525.5 518.6 L526.5 518.1 L527.5 519.2 L528.5 519.8 L529.5 520.8 L530.5 519.8 L531.5 518.6 L532.5 520.2 L533.5 519.7 L534.5 520.5 L535.5 520.1 L536.5 521.3 L537.5 520.5 L538.5 521.4 L539.5 521.7 L540.5 522.9 L541.5 522.0 L542.5 522.8 L543.5 523.4 L544.5 523.3 L545.5 523.6 L546.5 524.2 L547.5 525.6 L548.5 524.2 L549.5 524.4 L550.5 526.0 L551.5 525.8 L552.5 525.9 L553.5 526.1 L554.5 526.1 L555.5 526.0 L556.5 527.4 L557.5 527.8 L558.5 527.5" stroke="#4a2a70"/>
<path d="M156.5 559.3 L157.5 558.7 L158.5 558.7 L159.5 557.7 L160.5 557.8 L161.5 558.1 L162.5 557.4 L163.5 557.3 L164.5 556.6 L165.5 556.9 L166.5 556.5 L167.5 556.3 L168.5 555.7 L169.5 555.6 L170.5 555.0 L171.5 555.0 L172.5 554.1 L173.5 554.5 L174.5 554.2 L175.5 553.7 L176.5 553.8 L177.5 553.2 L178.5 553.4 L179.5 552.5 L180.5 552.1 L181.5 552.0 L182.5 552.7 L183.5 551.1 L184.5 551.1 L185.5 550.8 L186.5 550.8 L187.5 550.0 L188.5 550.6 L189.5 549.3 L190.5 549.9 L191.5 549.2 L192.5 548.7 L193.5 548.9 L194.5 547.9 L195.5 548.1 L196.5 547.4 L197.5 547.2 L198.5 546.8 L199.5 546.7 L200.5 546.8 L201.5 545.8 L202.5 545.8 L203.5 544.8 L204.5 544.8 L205.5 544.3 L206.5 543.6 L207.5 543.4 L208.5 542.9 L209.5 542.4 L210.5 541.3 L211.5 541.5 L212.5 541.5 L213.5 539.9 L214.5 540.0 L215.5 539.6 L216.5 539.2 L217.5 538.8 L218.5 538.5 L219.5 537.6 L220.5 537.3 L221.5 536.5 L222.5 535.8 L223.5 535.7 L224.5 535.5 L225.5 535.0 L226.5 534.5 L227.5 534.0 L228.5 534.1 L229.5 533.3 L230.5 533.0 L231.5 533.5 L232.5 531.9 L233.5 531.7 L234.5 531.4 L235.5 529.7 L236.5 530.0 L237.5 529.8 L238.5 529.8 L239.5 528.8 L240.5 528.8 L241.5 528.6 L242.5 528.4 L243.5 527.6 L244.5 527.9 L245.5 527.5 L246.5 526.3 L247.5 524.7 L248.5 526.3 L249.5 526.6 L250.5 525.4 L251.5 526.3 L252.5 524.0 L253.5 524.6 L254.5 524.6 L255.5 523.2 L256.5 523.4 L257.5 523.2 L258.5 523.3 L259.5 523.4 L260.5 522.3 L261.5 521.0 L262.5 522.6 L263.5 521.5 L264.5 521.6 L265.5 519.5 L266.5 520.2 L267.5 518.9 L268.5 519.2 L269.5 519.8 L270.5 519.3 L271.5 519.5 L272.5 517.5 L273.5 519.0 L274.5 517.6 L275.5 517.8 L276.5 517.4 L277.5 516.9 L278.5 516.6 L279.5 514.6 L280.5 516.0 L281.5 515.4 L282.5 514.8 L283.5 514.0 L284.5 513.6 L285.5 516.0 L286.5 513.9 L287.5 513.2 L288.5 514.1 L289.5 512.6 L290.5 512.1 L291.5 513.0 L292.5 512.4 L293.5 512.3 L294.5 512.4 L295.5 511.1 L296.5 511.0 L297.5 511.4 L298.5 510.6 L299.5 510.6 L300.5 511.1 L301.5 510.3 L302.5 511.0 L303.5 508.6 L304.5 509.3 L305.5 508.7 L306.5 507.3 L307.5 509.1 L308.5 508.3 L309.5 506.9 L310.5 508.7 L311.5 508.0 L312.5 509.3 L313.5 506.3 L314.5 505.9 L315.5 505.7 L316.5 504.9 L317.5 504.9 L318.5 503.3 L319.5 505.6 L320.5 504.3 L321.5 504.3 L322.5 504.0 L323.5 502.1 L324.5 504.7 L325.5 504.1 L326.5 504.7 L327.5 502.4 L328.5 501.7 L329.5 500.7 L330.5 498.4 L331.5 503.0 L332.5 500.8 L333.5 502.1 L334.5 501.7 L335.5 501.0 L336.5 498.7 L337.5 497.7 L338.5 500.2 L339.5 498.8 L340.5 499.2 L341.5 500.0 L342.5 497.2 L343.5 501.2 L344.5 498.9 L345.5 500.0 L346.5 499.8 L347.5 498.3 L348.5 496.8 L349.5 498.5 L350.5 497.5 L351.5 499.1 L352.5 498.0 L353.5 497.6 L354.5 500.0 L355.5 498.7 L356.5 497.3 L357.5 496.0 L358.5 495.8 L359.5 497.5 L360.5 497.2 L361.5 498.7 L362.5 495.9 L363.5 498.6 L364.5 496.0 L365.5 498.6 L366.5 501.1 L367.5 498.0 L368.5 498.5 L369.5 496.9 L370.5 496.2 L371.5 497.2 L372.5 498.2 L373.5 496.3 L374.5 497.0 L375.5 497.7 L376.5 497.1 L377.5 498.1 L378.5 500.1 L379.5 496.2 L380.5 496.5 L381.5 498.5 L382.5 493.8 L383.5 495.1 L384.5 496.3 L385.5 496.4 L386.5 498.3 L387.5 498.1 L388.5 496.2 L389.5 495.9 L390.5 495.2 L391.5 495.8 L392.5 497.3 L393.5 498.9 L394.5 496.6 L395.5 497.8 L396.5 496.5 L397.5 494.3 L398.5 494.8 L399.5 496.2 L400.5 495.1 L401.5 497.6 L402.5 494.5 L403.5 495.4 L404.5 494.3 L405.5 498.7 L406.5 495.0 L407.5 496.9 L408.5 493.8 L409.5 497.1 L410.5 494.8 L411.5 495.4 L412.5 497.5 L413.5 495.8 L414.5 496.9 L415.5 496.5 L416.5 495.6 L417.5 497.5 L418.5 496.7 L419.5 498.0 L420.5 498.0 L421.5 496.4 L422.5 497.1 L423.5 498.2 L424.5 499.7 L425.5 495.8 L426.5 498.6 L427.5 499.4 L428.5 498.0 L429.5 499.1 L430.5 499.2 L431.5 496.7 L432.5 500.1 L433.5 497.3 L434.5 497.2 L435.5 500.5 L436.5 499.9 L437.5 499.6 L438.5 498.0 L439.5 498.5 L440.5 498.2 L441.5 500.2 L442.5 499.0 L443.5 499.0 L444.5 495.9 L445.5 496.2 L446.5 494.7 L447.5 496.3 L448.5 498.1 L449.5 498.8 L450.5 499.6 L451.5 500.1 L452.5 500.6 L453.5 497.1 L454.5 500.7 L455.5 498.7 L456.5 499.0 L457.5 497.3 L458.5 500.0 L459.5 500.9 L460.5 499.4 L461.5 502.5 L462.5 500.8 L463.5 499.9 L464.5 501.7 L465.5 502.1 L466.5 502.5 L467.5 502.1 L468.5 505.0 L469.5 501.9 L470.5 500.6 L471.5 504.2 L472.5 505.2 L473.5 508.0 L474.5 502.7 L475.5 503.8 L476.5 504.8 L477.5 505.2 L478.5 503.9 L479.5 505.3 L480.5 505.5 L481.5 504.5 L482.5 506.9 L483.5 506.9 L484.5 507.1 L485.5 507.2 L486.5 508.6 L487.5 507.1 L488.5 509.4 L489.5 508.7 L490.5 510.0 L491.5 507.4 L492.5 510.4 L493.5 509.1 L494.5 509.3 L495.5 508.8 L496.5 508.7 L497.5 510.7 L498.5 511.2 L499.5 511.7 L500.5 510.2 L501.5 510.6 L502.5 512.2 L503.5 512.1 L504.5 513.1 L505.5 512.6 L506.5 512.0 L507.5 514.1 L508.5 514.0 L509.5 513.6 L510.5 512.5 L511.5 515.2 L512.5 514.9 L513.5 513.9 L514.5 514.7 L515.5 516.6 L516.5 515.7 L517.5 516.5 L518.5 516.6 L519.5 516.4 L520.5 515.7 L521.5 517.2 L522.5 517.3 L523.5 516.4 L524.5 517.9 L525.5 518.8 L526.5 518.3 L527.5 519.0 L528.5 519.8 L529.5 520.7 L530.5 519.9 L531.5 518.5 L532.5 519.9 L533.5 519.8 L534.5 520.6 L535.5 520.1 L536.5 521.4 L537.5 520.6 L538.5 521.5 L539.5 521.8 L540.5 523.0 L541.5 521.9 L542.5 522.6 L543.5 523.1 L544.5 523.3 L545.5 523.4 L546.5 524.4 L547.5 525.5 L548.5 524.5 L549.5 524.2 L550.5 526.0 L551.5 525.7 L552.5 525.9 L553.5 526.3 L554.5 526.2 L555.5 526.2 L556.5 527.2 L557.5 527.7 L558.5 527.6" stroke="#e8a035"/>
</g>
<g shape-rendering="crispEdges" stroke="#000" stroke-width="1" fill="none">
<line x1="156.5" y1="493" x2="156.5" y2="561"/>
<line x1="156" y1="560.5" x2="559" y2="560.5"/>
<line x1="156" y1="503.5" x2="161" y2="503.5"/>
<line x1="156" y1="515.5" x2="161" y2="515.5"/>
<line x1="156" y1="526.5" x2="161" y2="526.5"/>
<line x1="156" y1="538.5" x2="161" y2="538.5"/>
<line x1="156" y1="550.5" x2="161" y2="550.5"/>
<line x1="198.5" y1="556" x2="198.5" y2="561"/>
<line x1="277.5" y1="556" x2="277.5" y2="561"/>
<line x1="355.5" y1="556" x2="355.5" y2="561"/>
<line x1="434.5" y1="556" x2="434.5" y2="561"/>
<line x1="513.5" y1="556" x2="513.5" y2="561"/>
</g>
<text class="t" transform="translate(328.5 472.7) scale(0.915 1)">Bin 5</text>
<text class="n" transform="translate(198.3 596.0) scale(0.935 1)" text-anchor="middle">2975</text>
<text class="n" transform="translate(277.3 596.0) scale(0.935 1)" text-anchor="middle">2980</text>
<text class="n" transform="translate(355.3 596.0) scale(0.935 1)" text-anchor="middle">2985</text>
<text class="n" transform="translate(434.3 596.0) scale(0.935 1)" text-anchor="middle">2990</text>
<text class="n" transform="translate(513.3 596.0) scale(0.935 1)" text-anchor="middle">2995</text>
<text class="t" transform="translate(250.0 634.0) scale(0.912 1)">Wavenumber [cm<tspan dy="-12" dx="1.4" font-size="18" letter-spacing="2">-1</tspan><tspan dy="12" dx="-1.5">]</tspan></text>
<text class="n" transform="translate(150.8 515.2) scale(0.92 1)" text-anchor="end">120</text>
<text class="n" transform="translate(150.8 527.2) scale(0.92 1)" text-anchor="end">100</text>
<text class="n" transform="translate(150.8 538.2) scale(0.92 1)" text-anchor="end">80</text>
<text class="n" transform="translate(150.8 550.2) scale(0.92 1)" text-anchor="end">60</text>
<text class="n" transform="translate(150.8 562.2) scale(0.92 1)" text-anchor="end">40</text>
<text class="t" style="font-size:27.6px" transform="translate(96.6 528.5) rotate(-90) scale(0.905 1)" text-anchor="middle">ADU</text>
<clipPath id="c6"><rect x="683" y="493" width="403" height="68"/></clipPath>
<path d="M683.5 559.0 L685.5 559.3 L687.5 558.1 L689.5 557.7 L691.5 557.2 L693.5 556.1 L695.5 555.5 L697.5 555.2 L699.5 554.5 L701.5 554.1 L703.5 553.8 L705.5 553.1 L707.5 552.4 L709.5 551.9 L711.5 551.6 L713.5 550.4 L715.5 549.9 L717.5 549.5 L719.5 549.2 L721.5 548.6 L723.5 548.2 L725.5 547.6 L727.5 547.1 L729.5 546.4 L731.5 545.5 L733.5 543.9 L735.5 543.2 L737.5 542.2 L739.5 541.4 L741.5 540.8 L743.5 539.6 L745.5 539.1 L747.5 538.9 L749.5 537.6 L751.5 536.8 L753.5 536.2 L755.5 535.6 L757.5 534.6 L759.5 533.3 L761.5 532.6 L763.5 531.9 L765.5 531.4 L767.5 530.8 L769.5 529.0 L771.5 528.6 L773.5 528.1 L775.5 528.0 L777.5 526.5 L779.5 525.7 L781.5 525.6 L783.5 523.2 L785.5 523.9 L787.5 522.9 L789.5 522.4 L791.5 521.3 L793.5 520.9 L795.5 518.7 L797.5 518.7 L799.5 517.9 L801.5 517.1 L803.5 516.7 L805.5 514.9 L807.5 516.1 L809.5 516.8 L811.5 514.0 L813.5 513.1 L815.5 513.9 L817.5 513.7 L819.5 513.1 L821.5 512.8 L823.5 513.1 L825.5 511.1 L827.5 512.2 L829.5 509.1 L831.5 510.9 L833.5 511.1 L835.5 510.5 L837.5 507.4 L839.5 507.9 L841.5 507.2 L843.5 507.3 L845.5 507.1 L847.5 507.8 L849.5 505.5 L851.5 503.8 L853.5 504.7 L855.5 507.4 L857.5 504.4 L859.5 503.7 L861.5 503.0 L863.5 499.7 L865.5 501.2 L867.5 501.7 L869.5 503.3 L871.5 500.3 L873.5 500.0 L875.5 500.2 L877.5 499.2 L879.5 497.8 L881.5 495.7 L883.5 497.9 L885.5 496.5 L887.5 495.5 L889.5 497.0 L891.5 496.6 L893.5 494.4 L895.5 497.9 L897.5 497.1 L899.5 493.9 L901.5 494.8 L903.5 498.5 L905.5 498.0 L907.5 498.4 L909.5 493.9 L911.5 495.6 L913.5 494.8 L915.5 500.3 L917.5 497.4 L919.5 494.2 L921.5 494.5 L923.5 494.6 L925.5 493.0 L927.5 495.6 L929.5 496.7 L931.5 497.1 L933.5 491.3 L935.5 494.8 L937.5 492.8 L939.5 497.6 L941.5 493.6 L943.5 496.3 L945.5 497.3 L947.5 496.4 L949.5 497.4 L951.5 500.2 L953.5 499.2 L955.5 499.3 L957.5 499.1 L959.5 497.0 L961.5 498.2 L963.5 497.6 L965.5 498.0 L967.5 500.7 L969.5 500.2 L971.5 499.1 L973.5 497.7 L975.5 499.4 L977.5 499.9 L979.5 500.1 L981.5 499.9 L983.5 494.7 L985.5 499.8 L987.5 498.6 L989.5 501.4 L991.5 499.8 L993.5 500.8 L995.5 505.0 L997.5 501.4 L999.5 504.5 L1001.5 505.8 L1003.5 503.8 L1005.5 505.6 L1007.5 507.4 L1009.5 508.3 L1011.5 507.0 L1013.5 508.1 L1015.5 508.6 L1017.5 507.7 L1019.5 511.6 L1021.5 509.7 L1023.5 509.3 L1025.5 510.8 L1027.5 511.8 L1029.5 513.2 L1031.5 512.3 L1033.5 514.4 L1035.5 514.4 L1037.5 516.8 L1039.5 515.7 L1041.5 518.4 L1043.5 517.8 L1045.5 520.6 L1047.5 521.6 L1049.5 521.8 L1051.5 522.4 L1053.5 523.1 L1055.5 523.4 L1057.5 522.2 L1059.5 522.3 L1061.5 523.2 L1063.5 522.6 L1065.5 522.7 L1067.5 523.6 L1069.5 523.8 L1071.5 525.5 L1073.5 526.3 L1075.5 526.7 L1077.5 526.6 L1079.5 528.1 L1081.5 528.9 L1083.5 528.7 L1085.5 530.8" fill="none" stroke="#fff1d2" stroke-width="3" stroke-linejoin="round" clip-path="url(#c6)"/>
<g shape-rendering="crispEdges" stroke="#000" stroke-width="1" fill="none">
<line x1="688" y1="497.5" x2="1086" y2="497.5" stroke-dasharray="1 4" stroke-dashoffset="0"/>
<line x1="688" y1="510.5" x2="1086" y2="510.5" stroke-dasharray="1 4" stroke-dashoffset="2"/>
<line x1="688" y1="523.5" x2="1086" y2="523.5" stroke-dasharray="1 4" stroke-dashoffset="4"/>
<line x1="688" y1="536.5" x2="1086" y2="536.5" stroke-dasharray="1 4" stroke-dashoffset="1"/>
<line x1="688" y1="549.5" x2="1086" y2="549.5" stroke-dasharray="1 4" stroke-dashoffset="3"/>
<line x1="726.5" y1="493" x2="726.5" y2="556" stroke-dasharray="1 4" stroke-dashoffset="3"/>
<line x1="805.5" y1="493" x2="805.5" y2="556" stroke-dasharray="1 4" stroke-dashoffset="3"/>
<line x1="884.5" y1="493" x2="884.5" y2="556" stroke-dasharray="1 4" stroke-dashoffset="3"/>
<line x1="963.5" y1="493" x2="963.5" y2="556" stroke-dasharray="1 4" stroke-dashoffset="3"/>
<line x1="1041.5" y1="493" x2="1041.5" y2="556" stroke-dasharray="1 4" stroke-dashoffset="3"/>
</g>
<g fill="none" stroke-width="1" shape-rendering="crispEdges" clip-path="url(#c6)">
<path d="M683.5 559.0 L684.5 558.3 L685.5 559.3 L686.5 558.4 L687.5 558.1 L688.5 557.7 L689.5 557.7 L690.5 556.7 L691.5 557.2 L692.5 557.4 L693.5 556.2 L694.5 556.3 L695.5 555.5 L696.5 555.1 L697.5 555.2 L698.5 554.7 L699.5 554.5 L700.5 554.4 L701.5 554.1 L702.5 554.2 L703.5 553.8 L704.5 553.4 L705.5 553.1 L706.5 552.6 L707.5 552.4 L708.5 552.2 L709.5 551.9 L710.5 551.5 L711.5 551.6 L712.5 551.5 L713.5 550.4 L714.5 550.7 L715.5 550.0 L716.5 549.7 L717.5 549.5 L718.5 549.5 L719.5 549.3 L720.5 549.0 L721.5 548.5 L722.5 548.6 L723.5 548.2 L724.5 547.5 L725.5 547.6 L726.5 547.3 L727.5 547.1 L728.5 546.7 L729.5 546.4 L730.5 545.3 L731.5 545.5 L732.5 544.5 L733.5 543.9 L734.5 544.0 L735.5 543.2 L736.5 542.8 L737.5 542.2 L738.5 542.2 L739.5 541.4 L740.5 540.7 L741.5 540.8 L742.5 540.4 L743.5 539.6 L744.5 539.3 L745.5 539.1 L746.5 538.9 L747.5 538.9 L748.5 538.5 L749.5 537.6 L750.5 536.7 L751.5 536.7 L752.5 535.8 L753.5 536.2 L754.5 535.3 L755.5 535.5 L756.5 534.1 L757.5 534.6 L758.5 534.2 L759.5 533.3 L760.5 534.1 L761.5 532.4 L762.5 532.1 L763.5 532.0 L764.5 531.1 L765.5 531.3 L766.5 530.3 L767.5 530.8 L768.5 530.3 L769.5 529.0 L770.5 529.4 L771.5 528.6 L772.5 528.4 L773.5 528.3 L774.5 527.9 L775.5 528.2 L776.5 526.8 L777.5 526.3 L778.5 526.6 L779.5 525.8 L780.5 525.4 L781.5 525.5 L782.5 525.5 L783.5 523.4 L784.5 523.6 L785.5 523.9 L786.5 522.8 L787.5 523.0 L788.5 520.8 L789.5 522.6 L790.5 520.6 L791.5 520.9 L792.5 520.5 L793.5 521.0 L794.5 521.0 L795.5 518.7 L796.5 519.1 L797.5 518.6 L798.5 518.3 L799.5 517.3 L800.5 518.2 L801.5 517.0 L802.5 516.6 L803.5 516.5 L804.5 515.5 L805.5 514.4 L806.5 516.7 L807.5 515.8 L808.5 515.0 L809.5 516.7 L810.5 515.1 L811.5 514.4 L812.5 516.3 L813.5 513.7 L814.5 513.5 L815.5 513.8 L816.5 512.7 L817.5 513.6 L818.5 513.0 L819.5 512.7 L820.5 510.5 L821.5 512.7 L822.5 511.4 L823.5 513.5 L824.5 511.1 L825.5 511.3 L826.5 512.4 L827.5 512.3 L828.5 511.8 L829.5 508.8 L830.5 510.3 L831.5 511.7 L832.5 508.3 L833.5 511.0 L834.5 509.9 L835.5 510.8 L836.5 509.7 L837.5 507.4 L838.5 507.9 L839.5 508.0 L840.5 507.8 L841.5 506.9 L842.5 508.3 L843.5 507.7 L844.5 507.1 L845.5 506.1 L846.5 508.8 L847.5 508.7 L848.5 505.4 L849.5 505.6 L850.5 505.3 L851.5 504.0 L852.5 506.5 L853.5 504.8 L854.5 503.6 L855.5 507.4 L856.5 503.2 L857.5 504.5 L858.5 503.5 L859.5 503.2 L860.5 500.9 L861.5 502.6 L862.5 503.8 L863.5 500.6 L864.5 498.9 L865.5 501.7 L866.5 502.0 L867.5 502.2 L868.5 502.9 L869.5 502.6 L870.5 497.6 L871.5 500.1 L872.5 499.9 L873.5 499.9 L874.5 496.8 L875.5 500.3 L876.5 496.1 L877.5 499.5 L878.5 497.9 L879.5 497.9 L880.5 496.1 L881.5 495.4 L882.5 498.3 L883.5 498.1 L884.5 497.3 L885.5 496.3 L886.5 496.3 L887.5 495.3 L888.5 498.6 L889.5 497.0 L890.5 496.7 L891.5 495.8 L892.5 494.4 L893.5 494.4 L894.5 496.6 L895.5 498.4 L896.5 494.9 L897.5 497.1 L898.5 497.8 L899.5 492.9 L900.5 496.2 L901.5 495.7 L902.5 498.2 L903.5 497.5 L904.5 496.4 L905.5 497.6 L906.5 493.1 L907.5 499.4 L908.5 491.2 L909.5 494.2 L910.5 495.7 L911.5 496.2 L912.5 494.9 L913.5 494.9 L914.5 498.2 L915.5 499.3 L916.5 496.6 L917.5 498.5 L918.5 495.2 L919.5 493.2 L920.5 496.1 L921.5 493.8 L922.5 495.7 L923.5 494.4 L924.5 496.9 L925.5 492.2 L926.5 497.1 L927.5 496.4 L928.5 494.6 L929.5 497.2 L930.5 496.3 L931.5 496.8 L932.5 493.4 L933.5 491.8 L934.5 495.2 L935.5 495.2 L936.5 495.3 L937.5 492.8 L938.5 494.7 L939.5 496.8 L940.5 497.7 L941.5 493.4 L942.5 493.6 L943.5 496.2 L944.5 497.0 L945.5 497.3 L946.5 498.3 L947.5 496.8 L948.5 500.4 L949.5 497.2 L950.5 503.6 L951.5 500.5 L952.5 501.2 L953.5 499.2 L954.5 502.7 L955.5 498.4 L956.5 501.6 L957.5 498.1 L958.5 500.9 L959.5 497.4 L960.5 496.4 L961.5 498.2 L962.5 499.3 L963.5 497.1 L964.5 501.9 L965.5 497.9 L966.5 500.0 L967.5 500.0 L968.5 500.1 L969.5 499.9 L970.5 496.6 L971.5 498.6 L972.5 498.4 L973.5 497.2 L974.5 500.0 L975.5 499.4 L976.5 502.9 L977.5 499.8 L978.5 497.0 L979.5 500.6 L980.5 499.3 L981.5 499.9 L982.5 497.4 L983.5 494.1 L984.5 500.7 L985.5 499.8 L986.5 496.4 L987.5 498.0 L988.5 497.7 L989.5 501.8 L990.5 498.0 L991.5 499.5 L992.5 503.2 L993.5 500.9 L994.5 502.0 L995.5 504.2 L996.5 504.4 L997.5 501.3 L998.5 504.2 L999.5 503.8 L1000.5 504.8 L1001.5 506.0 L1002.5 502.8 L1003.5 503.6 L1004.5 503.8 L1005.5 505.8 L1006.5 505.7 L1007.5 507.8 L1008.5 507.1 L1009.5 508.3 L1010.5 503.8 L1011.5 506.5 L1012.5 505.7 L1013.5 508.7 L1014.5 508.3 L1015.5 508.0 L1016.5 508.5 L1017.5 507.4 L1018.5 508.0 L1019.5 511.9 L1020.5 510.8 L1021.5 509.7 L1022.5 511.8 L1023.5 509.1 L1024.5 512.4 L1025.5 511.5 L1026.5 509.7 L1027.5 511.3 L1028.5 510.8 L1029.5 513.2 L1030.5 512.2 L1031.5 512.7 L1032.5 513.8 L1033.5 513.8 L1034.5 514.6 L1035.5 514.6 L1036.5 516.1 L1037.5 517.1 L1038.5 516.2 L1039.5 515.6 L1040.5 517.3 L1041.5 518.1 L1042.5 516.9 L1043.5 517.6 L1044.5 520.0 L1045.5 520.7 L1046.5 521.1 L1047.5 521.5 L1048.5 522.0 L1049.5 521.6 L1050.5 521.7 L1051.5 522.2 L1052.5 523.4 L1053.5 523.2 L1054.5 523.6 L1055.5 523.3 L1056.5 522.9 L1057.5 522.4 L1058.5 523.0 L1059.5 522.1 L1060.5 524.1 L1061.5 523.4 L1062.5 523.6 L1063.5 522.4 L1064.5 523.7 L1065.5 522.8 L1066.5 524.2 L1067.5 523.6 L1068.5 524.3 L1069.5 524.0 L1070.5 524.8 L1071.5 525.3 L1072.5 525.1 L1073.5 526.2 L1074.5 526.5 L1075.5 526.6 L1076.5 525.9 L1077.5 526.8 L1078.5 528.0 L1079.5 528.3 L1080.5 528.2 L1081.5 529.1 L1082.5 528.2 L1083.5 528.5 L1084.5 528.9 L1085.5 530.6" stroke="#4a2a70"/>
<path d="M683.5 559.0 L684.5 558.3 L685.5 559.3 L686.5 558.4 L687.5 558.1 L688.5 557.7 L689.5 557.7 L690.5 556.7 L691.5 557.2 L692.5 557.4 L693.5 556.1 L694.5 556.3 L695.5 555.5 L696.5 555.1 L697.5 555.2 L698.5 554.7 L699.5 554.5 L700.5 554.4 L701.5 554.1 L702.5 554.2 L703.5 553.8 L704.5 553.4 L705.5 553.1 L706.5 552.6 L707.5 552.4 L708.5 552.2 L709.5 551.9 L710.5 551.5 L711.5 551.6 L712.5 551.5 L713.5 550.4 L714.5 550.6 L715.5 549.9 L716.5 549.7 L717.5 549.5 L718.5 549.5 L719.5 549.2 L720.5 549.0 L721.5 548.6 L722.5 548.6 L723.5 548.2 L724.5 547.6 L725.5 547.6 L726.5 547.3 L727.5 547.1 L728.5 546.7 L729.5 546.4 L730.5 545.3 L731.5 545.5 L732.5 544.5 L733.5 543.9 L734.5 543.9 L735.5 543.2 L736.5 542.8 L737.5 542.2 L738.5 542.1 L739.5 541.4 L740.5 540.7 L741.5 540.8 L742.5 540.3 L743.5 539.6 L744.5 539.3 L745.5 539.1 L746.5 538.9 L747.5 538.9 L748.5 538.4 L749.5 537.6 L750.5 536.7 L751.5 536.8 L752.5 535.9 L753.5 536.2 L754.5 535.3 L755.5 535.6 L756.5 534.1 L757.5 534.6 L758.5 534.2 L759.5 533.3 L760.5 534.0 L761.5 532.6 L762.5 532.2 L763.5 531.9 L764.5 531.0 L765.5 531.4 L766.5 530.4 L767.5 530.8 L768.5 530.3 L769.5 529.0 L770.5 529.4 L771.5 528.6 L772.5 528.4 L773.5 528.1 L774.5 527.9 L775.5 528.0 L776.5 526.9 L777.5 526.5 L778.5 526.6 L779.5 525.7 L780.5 525.4 L781.5 525.6 L782.5 525.5 L783.5 523.2 L784.5 523.7 L785.5 523.9 L786.5 522.6 L787.5 522.9 L788.5 521.0 L789.5 522.4 L790.5 520.8 L791.5 521.3 L792.5 520.6 L793.5 520.9 L794.5 521.1 L795.5 518.7 L796.5 519.0 L797.5 518.7 L798.5 518.7 L799.5 517.9 L800.5 518.3 L801.5 517.1 L802.5 516.5 L803.5 516.7 L804.5 515.2 L805.5 514.9 L806.5 516.5 L807.5 516.1 L808.5 514.6 L809.5 516.8 L810.5 515.4 L811.5 514.0 L812.5 516.3 L813.5 513.1 L814.5 514.0 L815.5 513.9 L816.5 513.0 L817.5 513.7 L818.5 512.3 L819.5 513.1 L820.5 509.9 L821.5 512.8 L822.5 511.2 L823.5 513.1 L824.5 511.3 L825.5 511.1 L826.5 512.1 L827.5 512.2 L828.5 511.5 L829.5 509.1 L830.5 510.7 L831.5 510.9 L832.5 509.0 L833.5 511.1 L834.5 509.6 L835.5 510.5 L836.5 509.7 L837.5 507.4 L838.5 508.1 L839.5 507.9 L840.5 507.5 L841.5 507.2 L842.5 508.1 L843.5 507.3 L844.5 507.5 L845.5 507.1 L846.5 508.8 L847.5 507.8 L848.5 505.5 L849.5 505.5 L850.5 505.0 L851.5 503.8 L852.5 506.4 L853.5 504.7 L854.5 503.8 L855.5 507.4 L856.5 503.3 L857.5 504.4 L858.5 503.7 L859.5 503.7 L860.5 501.6 L861.5 503.0 L862.5 503.4 L863.5 499.7 L864.5 499.4 L865.5 501.2 L866.5 502.4 L867.5 501.7 L868.5 503.7 L869.5 503.3 L870.5 497.7 L871.5 500.3 L872.5 500.2 L873.5 500.0 L874.5 497.4 L875.5 500.2 L876.5 496.7 L877.5 499.2 L878.5 498.4 L879.5 497.8 L880.5 496.5 L881.5 495.7 L882.5 498.8 L883.5 497.9 L884.5 497.3 L885.5 496.5 L886.5 496.6 L887.5 495.5 L888.5 497.9 L889.5 497.0 L890.5 496.8 L891.5 496.6 L892.5 493.7 L893.5 494.4 L894.5 496.3 L895.5 497.9 L896.5 495.2 L897.5 497.1 L898.5 498.0 L899.5 493.9 L900.5 496.2 L901.5 494.8 L902.5 497.7 L903.5 498.5 L904.5 496.6 L905.5 498.0 L906.5 494.0 L907.5 498.4 L908.5 491.6 L909.5 493.9 L910.5 495.8 L911.5 495.6 L912.5 494.4 L913.5 494.8 L914.5 497.8 L915.5 500.3 L916.5 496.5 L917.5 497.4 L918.5 494.5 L919.5 494.2 L920.5 494.2 L921.5 494.5 L922.5 495.5 L923.5 494.6 L924.5 496.1 L925.5 493.0 L926.5 496.6 L927.5 495.6 L928.5 494.5 L929.5 496.7 L930.5 496.9 L931.5 497.1 L932.5 494.0 L933.5 491.3 L934.5 494.4 L935.5 494.8 L936.5 495.0 L937.5 492.8 L938.5 495.3 L939.5 497.6 L940.5 497.7 L941.5 493.6 L942.5 494.2 L943.5 496.3 L944.5 497.4 L945.5 497.3 L946.5 498.5 L947.5 496.4 L948.5 499.9 L949.5 497.4 L950.5 502.9 L951.5 500.2 L952.5 501.6 L953.5 499.2 L954.5 502.6 L955.5 499.3 L956.5 501.0 L957.5 499.1 L958.5 501.5 L959.5 497.0 L960.5 497.3 L961.5 498.2 L962.5 499.5 L963.5 497.6 L964.5 501.8 L965.5 498.0 L966.5 499.0 L967.5 500.7 L968.5 499.9 L969.5 500.2 L970.5 496.9 L971.5 499.1 L972.5 498.4 L973.5 497.7 L974.5 499.5 L975.5 499.4 L976.5 502.8 L977.5 499.9 L978.5 497.8 L979.5 500.1 L980.5 498.9 L981.5 499.9 L982.5 497.5 L983.5 494.7 L984.5 501.0 L985.5 499.8 L986.5 497.1 L987.5 498.6 L988.5 498.2 L989.5 501.4 L990.5 498.6 L991.5 499.8 L992.5 503.0 L993.5 500.8 L994.5 502.4 L995.5 505.0 L996.5 504.2 L997.5 501.4 L998.5 504.1 L999.5 504.5 L1000.5 505.3 L1001.5 505.8 L1002.5 503.2 L1003.5 503.8 L1004.5 503.6 L1005.5 505.6 L1006.5 505.7 L1007.5 507.4 L1008.5 507.4 L1009.5 508.3 L1010.5 504.3 L1011.5 507.0 L1012.5 505.6 L1013.5 508.1 L1014.5 508.6 L1015.5 508.6 L1016.5 507.9 L1017.5 507.7 L1018.5 507.5 L1019.5 511.6 L1020.5 510.9 L1021.5 509.7 L1022.5 512.0 L1023.5 509.3 L1024.5 512.3 L1025.5 510.8 L1026.5 509.8 L1027.5 511.8 L1028.5 510.8 L1029.5 513.2 L1030.5 512.1 L1031.5 512.3 L1032.5 513.6 L1033.5 514.4 L1034.5 514.6 L1035.5 514.4 L1036.5 516.0 L1037.5 516.8 L1038.5 516.3 L1039.5 515.7 L1040.5 517.4 L1041.5 518.4 L1042.5 516.9 L1043.5 517.8 L1044.5 519.9 L1045.5 520.6 L1046.5 521.4 L1047.5 521.6 L1048.5 521.8 L1049.5 521.8 L1050.5 521.7 L1051.5 522.4 L1052.5 523.5 L1053.5 523.1 L1054.5 523.4 L1055.5 523.4 L1056.5 522.7 L1057.5 522.2 L1058.5 523.1 L1059.5 522.3 L1060.5 524.3 L1061.5 523.2 L1062.5 523.7 L1063.5 522.6 L1064.5 523.7 L1065.5 522.7 L1066.5 524.2 L1067.5 523.6 L1068.5 524.2 L1069.5 523.8 L1070.5 524.9 L1071.5 525.5 L1072.5 525.1 L1073.5 526.3 L1074.5 526.6 L1075.5 526.7 L1076.5 526.1 L1077.5 526.6 L1078.5 528.0 L1079.5 528.1 L1080.5 528.2 L1081.5 528.9 L1082.5 528.2 L1083.5 528.7 L1084.5 528.9 L1085.5 530.8" stroke="#e8a035"/>
</g>
<g shape-rendering="crispEdges" stroke="#000" stroke-width="1" fill="none">
<line x1="683.5" y1="493" x2="683.5" y2="561"/>
<line x1="683" y1="560.5" x2="1086" y2="560.5"/>
<line x1="683" y1="497.5" x2="688" y2="497.5"/>
<line x1="683" y1="510.5" x2="688" y2="510.5"/>
<line x1="683" y1="523.5" x2="688" y2="523.5"/>
<line x1="683" y1="536.5" x2="688" y2="536.5"/>
<line x1="683" y1="549.5" x2="688" y2="549.5"/>
<line x1="726.5" y1="556" x2="726.5" y2="561"/>
<line x1="805.5" y1="556" x2="805.5" y2="561"/>
<line x1="884.5" y1="556" x2="884.5" y2="561"/>
<line x1="963.5" y1="556" x2="963.5" y2="561"/>
<line x1="1041.5" y1="556" x2="1041.5" y2="561"/>
</g>
<text class="t" transform="translate(855.5 472.7) scale(0.915 1)">Bin 6</text>
<text class="n" transform="translate(726.3 596.0) scale(0.935 1)" text-anchor="middle">2975</text>
<text class="n" transform="translate(805.3 596.0) scale(0.935 1)" text-anchor="middle">2980</text>
<text class="n" transform="translate(884.3 596.0) scale(0.935 1)" text-anchor="middle">2985</text>
<text class="n" transform="translate(963.3 596.0) scale(0.935 1)" text-anchor="middle">2990</text>
<text class="n" transform="translate(1041.3 596.0) scale(0.935 1)" text-anchor="middle">2995</text>
<text class="t" transform="translate(777.0 634.0) scale(0.912 1)">Wavenumber [cm<tspan dy="-12" dx="1.4" font-size="18" letter-spacing="2">-1</tspan><tspan dy="12" dx="-1.5">]</tspan></text>
<text class="n" transform="translate(677.8 509.2) scale(0.92 1)" text-anchor="end">120</text>
<text class="n" transform="translate(677.8 522.2) scale(0.92 1)" text-anchor="end">100</text>
<text class="n" transform="translate(677.8 535.2) scale(0.92 1)" text-anchor="end">80</text>
<text class="n" transform="translate(677.8 548.2) scale(0.92 1)" text-anchor="end">60</text>
<text class="n" transform="translate(677.8 561.2) scale(0.92 1)" text-anchor="end">40</text>
<text class="t" style="font-size:27.6px" transform="translate(623.6 528.5) rotate(-90) scale(0.905 1)" text-anchor="middle">ADU</text>
<clipPath id="c7"><rect x="156" y="690" width="403" height="68"/></clipPath>
<path d="M156.5 757.1 L158.5 756.9 L160.5 755.7 L162.5 755.9 L164.5 754.7 L166.5 753.7 L168.5 753.6 L170.5 752.8 L172.5 751.7 L174.5 751.6 L176.5 750.9 L178.5 750.5 L180.5 749.9 L182.5 749.1 L184.5 748.6 L186.5 747.7 L188.5 747.2 L190.5 746.8 L192.5 746.0 L194.5 745.4 L196.5 744.8 L198.5 743.8 L200.5 743.7 L202.5 742.8 L204.5 741.2 L206.5 740.0 L208.5 740.0 L210.5 738.6 L212.5 737.6 L214.5 736.7 L216.5 736.1 L218.5 736.1 L220.5 734.7 L222.5 733.4 L224.5 732.3 L226.5 731.0 L228.5 730.3 L230.5 730.8 L232.5 729.7 L234.5 729.0 L236.5 726.8 L238.5 725.6 L240.5 726.4 L242.5 724.7 L244.5 724.3 L246.5 723.5 L248.5 722.3 L250.5 722.3 L252.5 722.4 L254.5 721.2 L256.5 719.2 L258.5 718.6 L260.5 719.8 L262.5 718.5 L264.5 717.5 L266.5 717.2 L268.5 716.3 L270.5 715.8 L272.5 714.6 L274.5 714.4 L276.5 713.2 L278.5 712.3 L280.5 710.9 L282.5 711.7 L284.5 711.3 L286.5 709.5 L288.5 708.9 L290.5 707.8 L292.5 709.3 L294.5 706.8 L296.5 708.0 L298.5 706.9 L300.5 706.5 L302.5 704.8 L304.5 703.8 L306.5 704.7 L308.5 703.2 L310.5 704.1 L312.5 705.7 L314.5 701.7 L316.5 701.4 L318.5 701.0 L320.5 701.6 L322.5 700.5 L324.5 699.7 L326.5 698.8 L328.5 697.9 L330.5 697.4 L332.5 696.6 L334.5 694.1 L336.5 695.6 L338.5 694.4 L340.5 695.9 L342.5 695.2 L344.5 698.0 L346.5 695.0 L348.5 694.0 L350.5 693.1 L352.5 694.2 L354.5 694.8 L356.5 694.6 L358.5 692.6 L360.5 690.8 L362.5 690.6 L364.5 694.4 L366.5 694.9 L368.5 692.5 L370.5 692.1 L372.5 691.0 L374.5 692.8 L376.5 693.9 L378.5 693.6 L380.5 692.6 L382.5 690.5 L384.5 693.1 L386.5 692.9 L388.5 691.5 L390.5 691.1 L392.5 693.4 L394.5 692.1 L396.5 694.6 L398.5 691.4 L400.5 691.9 L402.5 691.0 L404.5 689.2 L406.5 691.9 L408.5 692.2 L410.5 691.4 L412.5 692.5 L414.5 693.2 L416.5 692.4 L418.5 697.2 L420.5 693.8 L422.5 695.1 L424.5 696.4 L426.5 694.9 L428.5 699.5 L430.5 698.0 L432.5 695.1 L434.5 696.0 L436.5 698.4 L438.5 697.8 L440.5 694.0 L442.5 696.1 L444.5 695.8 L446.5 695.8 L448.5 697.0 L450.5 695.7 L452.5 696.7 L454.5 696.2 L456.5 697.0 L458.5 698.0 L460.5 697.9 L462.5 698.2 L464.5 699.3 L466.5 700.3 L468.5 702.7 L470.5 698.9 L472.5 700.7 L474.5 700.4 L476.5 699.7 L478.5 701.5 L480.5 703.7 L482.5 704.7 L484.5 706.7 L486.5 702.8 L488.5 706.4 L490.5 705.9 L492.5 706.7 L494.5 707.1 L496.5 706.1 L498.5 706.0 L500.5 708.1 L502.5 709.9 L504.5 708.7 L506.5 709.5 L508.5 710.7 L510.5 710.5 L512.5 711.6 L514.5 713.1 L516.5 715.7 L518.5 715.8 L520.5 717.3 L522.5 718.5 L524.5 718.7 L526.5 718.4 L528.5 719.6 L530.5 720.4 L532.5 721.0 L534.5 720.0 L536.5 721.6 L538.5 721.5 L540.5 721.1 L542.5 722.5 L544.5 722.2 L546.5 723.2 L548.5 723.4 L550.5 724.3 L552.5 723.9 L554.5 724.7 L556.5 725.7 L558.5 726.0" fill="none" stroke="#fff1d2" stroke-width="3" stroke-linejoin="round" clip-path="url(#c7)"/>
<g shape-rendering="crispEdges" stroke="#000" stroke-width="1" fill="none">
<line x1="161" y1="700.5" x2="559" y2="700.5" stroke-dasharray="1 4" stroke-dashoffset="0"/>
<line x1="161" y1="736.5" x2="559" y2="736.5" stroke-dasharray="1 4" stroke-dashoffset="2"/>
<line x1="198.5" y1="690" x2="198.5" y2="753" stroke-dasharray="1 4" stroke-dashoffset="3"/>
<line x1="277.5" y1="690" x2="277.5" y2="753" stroke-dasharray="1 4" stroke-dashoffset="3"/>
<line x1="355.5" y1="690" x2="355.5" y2="753" stroke-dasharray="1 4" stroke-dashoffset="3"/>
<line x1="434.5" y1="690" x2="434.5" y2="753" stroke-dasharray="1 4" stroke-dashoffset="3"/>
<line x1="513.5" y1="690" x2="513.5" y2="753" stroke-dasharray="1 4" stroke-dashoffset="3"/>
</g>
<g fill="none" stroke-width="1" shape-rendering="crispEdges" clip-path="url(#c7)">
<path d="M156.5 757.1 L157.5 757.1 L158.5 756.9 L159.5 756.1 L160.5 755.7 L161.5 755.6 L162.5 755.9 L163.5 755.7 L164.5 754.7 L165.5 754.2 L166.5 753.7 L167.5 753.5 L168.5 753.6 L169.5 753.0 L170.5 752.7 L171.5 752.7 L172.5 751.7 L173.5 751.6 L174.5 751.6 L175.5 751.2 L176.5 750.9 L177.5 750.7 L178.5 750.5 L179.5 750.3 L180.5 749.9 L181.5 749.6 L182.5 749.1 L183.5 749.1 L184.5 748.6 L185.5 748.0 L186.5 747.7 L187.5 747.4 L188.5 747.2 L189.5 747.2 L190.5 746.7 L191.5 745.8 L192.5 746.0 L193.5 745.1 L194.5 745.4 L195.5 744.8 L196.5 744.8 L197.5 744.8 L198.5 743.8 L199.5 743.4 L200.5 743.7 L201.5 742.5 L202.5 742.8 L203.5 741.9 L204.5 741.2 L205.5 740.5 L206.5 740.1 L207.5 740.1 L208.5 740.0 L209.5 739.0 L210.5 738.7 L211.5 738.6 L212.5 737.6 L213.5 737.2 L214.5 736.7 L215.5 736.6 L216.5 736.0 L217.5 735.1 L218.5 736.1 L219.5 734.4 L220.5 734.6 L221.5 733.9 L222.5 733.4 L223.5 732.5 L224.5 732.3 L225.5 732.0 L226.5 731.0 L227.5 731.8 L228.5 730.5 L229.5 729.5 L230.5 730.7 L231.5 728.8 L232.5 729.6 L233.5 727.7 L234.5 729.2 L235.5 727.1 L236.5 726.9 L237.5 726.9 L238.5 725.5 L239.5 726.4 L240.5 726.4 L241.5 725.1 L242.5 724.7 L243.5 724.7 L244.5 724.2 L245.5 724.0 L246.5 723.6 L247.5 722.9 L248.5 722.4 L249.5 722.7 L250.5 722.0 L251.5 721.6 L252.5 722.4 L253.5 721.5 L254.5 721.2 L255.5 719.7 L256.5 719.5 L257.5 719.4 L258.5 718.7 L259.5 719.3 L260.5 720.0 L261.5 719.0 L262.5 718.5 L263.5 716.2 L264.5 717.9 L265.5 717.4 L266.5 717.3 L267.5 716.1 L268.5 716.2 L269.5 715.7 L270.5 715.8 L271.5 716.2 L272.5 714.9 L273.5 713.0 L274.5 714.4 L275.5 712.6 L276.5 712.8 L277.5 714.2 L278.5 712.0 L279.5 710.6 L280.5 710.7 L281.5 710.6 L282.5 711.8 L283.5 710.3 L284.5 711.0 L285.5 711.0 L286.5 710.0 L287.5 708.6 L288.5 708.6 L289.5 709.1 L290.5 707.9 L291.5 709.1 L292.5 709.3 L293.5 705.8 L294.5 706.8 L295.5 706.8 L296.5 707.7 L297.5 705.9 L298.5 707.3 L299.5 705.8 L300.5 706.2 L301.5 705.9 L302.5 704.6 L303.5 704.9 L304.5 703.6 L305.5 705.0 L306.5 704.2 L307.5 704.1 L308.5 703.1 L309.5 703.1 L310.5 704.6 L311.5 701.1 L312.5 706.1 L313.5 702.2 L314.5 701.1 L315.5 700.5 L316.5 701.3 L317.5 700.1 L318.5 700.6 L319.5 701.4 L320.5 701.2 L321.5 699.3 L322.5 700.9 L323.5 700.5 L324.5 699.7 L325.5 700.4 L326.5 698.3 L327.5 698.1 L328.5 697.6 L329.5 699.4 L330.5 698.2 L331.5 699.0 L332.5 697.3 L333.5 697.0 L334.5 693.8 L335.5 697.2 L336.5 695.2 L337.5 695.0 L338.5 694.4 L339.5 695.5 L340.5 695.9 L341.5 696.0 L342.5 695.3 L343.5 694.9 L344.5 697.5 L345.5 697.4 L346.5 695.2 L347.5 694.3 L348.5 693.9 L349.5 694.2 L350.5 692.8 L351.5 695.8 L352.5 694.3 L353.5 695.6 L354.5 694.6 L355.5 695.3 L356.5 694.8 L357.5 694.7 L358.5 692.2 L359.5 694.0 L360.5 690.1 L361.5 693.8 L362.5 690.8 L363.5 694.9 L364.5 694.3 L365.5 695.8 L366.5 694.7 L367.5 689.7 L368.5 691.9 L369.5 692.1 L370.5 691.7 L371.5 690.8 L372.5 691.4 L373.5 693.7 L374.5 692.8 L375.5 692.4 L376.5 693.3 L377.5 695.1 L378.5 693.5 L379.5 691.7 L380.5 691.5 L381.5 689.6 L382.5 691.3 L383.5 692.9 L384.5 692.2 L385.5 690.6 L386.5 691.6 L387.5 692.3 L388.5 691.1 L389.5 689.8 L390.5 691.2 L391.5 691.9 L392.5 693.0 L393.5 687.4 L394.5 691.7 L395.5 690.9 L396.5 694.1 L397.5 690.0 L398.5 692.2 L399.5 692.1 L400.5 691.7 L401.5 691.2 L402.5 691.7 L403.5 690.9 L404.5 689.8 L405.5 687.7 L406.5 692.2 L407.5 691.8 L408.5 692.6 L409.5 690.1 L410.5 691.1 L411.5 696.1 L412.5 693.2 L413.5 692.9 L414.5 692.9 L415.5 692.5 L416.5 692.5 L417.5 696.8 L418.5 697.8 L419.5 695.4 L420.5 692.9 L421.5 696.7 L422.5 694.0 L423.5 697.4 L424.5 696.0 L425.5 698.5 L426.5 694.4 L427.5 697.4 L428.5 699.2 L429.5 697.6 L430.5 697.8 L431.5 699.4 L432.5 695.9 L433.5 697.2 L434.5 696.4 L435.5 696.9 L436.5 698.5 L437.5 696.1 L438.5 697.8 L439.5 695.3 L440.5 694.2 L441.5 696.7 L442.5 696.5 L443.5 693.3 L444.5 696.3 L445.5 694.3 L446.5 696.1 L447.5 697.1 L448.5 696.2 L449.5 696.1 L450.5 695.4 L451.5 697.1 L452.5 696.8 L453.5 698.6 L454.5 696.9 L455.5 695.1 L456.5 697.7 L457.5 696.7 L458.5 698.4 L459.5 697.6 L460.5 698.4 L461.5 696.2 L462.5 697.5 L463.5 698.0 L464.5 698.8 L465.5 697.5 L466.5 700.2 L467.5 703.4 L468.5 701.9 L469.5 700.9 L470.5 698.9 L471.5 701.8 L472.5 700.7 L473.5 703.2 L474.5 700.1 L475.5 702.4 L476.5 699.9 L477.5 700.9 L478.5 701.5 L479.5 703.3 L480.5 703.9 L481.5 703.0 L482.5 704.7 L483.5 704.0 L484.5 706.5 L485.5 705.3 L486.5 702.9 L487.5 704.9 L488.5 706.8 L489.5 705.9 L490.5 705.0 L491.5 706.3 L492.5 706.7 L493.5 703.7 L494.5 707.5 L495.5 706.0 L496.5 706.3 L497.5 707.6 L498.5 706.1 L499.5 708.4 L500.5 708.4 L501.5 709.2 L502.5 709.7 L503.5 708.7 L504.5 708.5 L505.5 708.8 L506.5 709.3 L507.5 709.5 L508.5 710.6 L509.5 710.9 L510.5 710.9 L511.5 711.1 L512.5 711.4 L513.5 711.5 L514.5 712.9 L515.5 713.3 L516.5 715.7 L517.5 717.6 L518.5 715.7 L519.5 716.2 L520.5 717.3 L521.5 718.4 L522.5 718.6 L523.5 719.3 L524.5 718.8 L525.5 718.9 L526.5 718.5 L527.5 718.1 L528.5 719.6 L529.5 720.3 L530.5 720.5 L531.5 720.1 L532.5 721.0 L533.5 720.7 L534.5 720.0 L535.5 721.4 L536.5 721.5 L537.5 721.4 L538.5 721.3 L539.5 721.7 L540.5 721.3 L541.5 722.0 L542.5 722.4 L543.5 722.0 L544.5 722.1 L545.5 723.5 L546.5 723.1 L547.5 723.1 L548.5 723.4 L549.5 724.9 L550.5 724.2 L551.5 724.7 L552.5 724.0 L553.5 725.0 L554.5 724.9 L555.5 726.1 L556.5 725.9 L557.5 726.2 L558.5 726.1" stroke="#4a2a70"/>
<path d="M156.5 757.1 L157.5 757.2 L158.5 756.9 L159.5 756.1 L160.5 755.7 L161.5 755.6 L162.5 755.9 L163.5 755.7 L164.5 754.7 L165.5 754.2 L166.5 753.7 L167.5 753.5 L168.5 753.6 L169.5 753.0 L170.5 752.8 L171.5 752.7 L172.5 751.7 L173.5 751.6 L174.5 751.6 L175.5 751.1 L176.5 750.9 L177.5 750.7 L178.5 750.5 L179.5 750.3 L180.5 749.9 L181.5 749.6 L182.5 749.1 L183.5 749.1 L184.5 748.6 L185.5 748.0 L186.5 747.7 L187.5 747.4 L188.5 747.2 L189.5 747.2 L190.5 746.8 L191.5 745.8 L192.5 746.0 L193.5 745.1 L194.5 745.4 L195.5 744.9 L196.5 744.8 L197.5 744.9 L198.5 743.8 L199.5 743.4 L200.5 743.7 L201.5 742.5 L202.5 742.8 L203.5 741.9 L204.5 741.2 L205.5 740.5 L206.5 740.0 L207.5 740.2 L208.5 740.0 L209.5 739.0 L210.5 738.6 L211.5 738.6 L212.5 737.6 L213.5 737.2 L214.5 736.7 L215.5 736.6 L216.5 736.1 L217.5 735.1 L218.5 736.1 L219.5 734.4 L220.5 734.7 L221.5 733.9 L222.5 733.4 L223.5 732.5 L224.5 732.3 L225.5 731.9 L226.5 731.0 L227.5 731.8 L228.5 730.3 L229.5 729.5 L230.5 730.8 L231.5 728.9 L232.5 729.7 L233.5 727.7 L234.5 729.0 L235.5 727.0 L236.5 726.8 L237.5 727.0 L238.5 725.6 L239.5 726.3 L240.5 726.4 L241.5 725.2 L242.5 724.7 L243.5 724.6 L244.5 724.3 L245.5 724.0 L246.5 723.5 L247.5 723.1 L248.5 722.3 L249.5 722.7 L250.5 722.3 L251.5 721.5 L252.5 722.4 L253.5 721.6 L254.5 721.2 L255.5 719.8 L256.5 719.2 L257.5 719.3 L258.5 718.6 L259.5 719.0 L260.5 719.8 L261.5 719.1 L262.5 718.5 L263.5 716.2 L264.5 717.5 L265.5 717.3 L266.5 717.2 L267.5 716.2 L268.5 716.3 L269.5 715.5 L270.5 715.8 L271.5 716.1 L272.5 714.6 L273.5 713.1 L274.5 714.4 L275.5 712.1 L276.5 713.2 L277.5 713.6 L278.5 712.3 L279.5 711.1 L280.5 710.9 L281.5 710.3 L282.5 711.7 L283.5 710.6 L284.5 711.3 L285.5 711.2 L286.5 709.5 L287.5 708.8 L288.5 708.9 L289.5 709.1 L290.5 707.8 L291.5 709.4 L292.5 709.3 L293.5 705.5 L294.5 706.8 L295.5 706.5 L296.5 708.0 L297.5 705.8 L298.5 706.9 L299.5 705.3 L300.5 706.5 L301.5 705.3 L302.5 704.8 L303.5 705.6 L304.5 703.8 L305.5 705.7 L306.5 704.7 L307.5 704.0 L308.5 703.2 L309.5 703.2 L310.5 704.1 L311.5 701.3 L312.5 705.7 L313.5 701.9 L314.5 701.7 L315.5 701.2 L316.5 701.4 L317.5 700.1 L318.5 701.0 L319.5 701.4 L320.5 701.6 L321.5 699.4 L322.5 700.5 L323.5 700.4 L324.5 699.7 L325.5 699.4 L326.5 698.8 L327.5 697.1 L328.5 697.9 L329.5 699.1 L330.5 697.4 L331.5 699.0 L332.5 696.6 L333.5 696.6 L334.5 694.1 L335.5 697.7 L336.5 695.6 L337.5 694.0 L338.5 694.4 L339.5 696.0 L340.5 695.9 L341.5 696.0 L342.5 695.2 L343.5 695.1 L344.5 698.0 L345.5 697.8 L346.5 695.0 L347.5 694.4 L348.5 694.0 L349.5 695.0 L350.5 693.1 L351.5 695.9 L352.5 694.2 L353.5 695.7 L354.5 694.8 L355.5 695.5 L356.5 694.6 L357.5 694.8 L358.5 692.6 L359.5 694.2 L360.5 690.8 L361.5 693.6 L362.5 690.6 L363.5 694.5 L364.5 694.4 L365.5 695.3 L366.5 694.9 L367.5 689.7 L368.5 692.5 L369.5 691.7 L370.5 692.1 L371.5 690.8 L372.5 691.0 L373.5 693.9 L374.5 692.8 L375.5 692.6 L376.5 693.9 L377.5 695.6 L378.5 693.6 L379.5 692.5 L380.5 692.6 L381.5 688.9 L382.5 690.5 L383.5 693.0 L384.5 693.1 L385.5 691.2 L386.5 692.9 L387.5 692.6 L388.5 691.5 L389.5 690.3 L390.5 691.1 L391.5 691.3 L392.5 693.4 L393.5 687.8 L394.5 692.1 L395.5 690.8 L396.5 694.6 L397.5 690.4 L398.5 691.4 L399.5 692.8 L400.5 691.9 L401.5 692.3 L402.5 691.0 L403.5 690.1 L404.5 689.2 L405.5 688.2 L406.5 691.9 L407.5 691.6 L408.5 692.2 L409.5 689.0 L410.5 691.4 L411.5 695.6 L412.5 692.5 L413.5 692.8 L414.5 693.2 L415.5 692.6 L416.5 692.4 L417.5 696.5 L418.5 697.2 L419.5 695.0 L420.5 693.8 L421.5 696.8 L422.5 695.1 L423.5 697.6 L424.5 696.4 L425.5 698.3 L426.5 694.9 L427.5 697.7 L428.5 699.5 L429.5 697.6 L430.5 698.0 L431.5 699.8 L432.5 695.1 L433.5 697.2 L434.5 696.0 L435.5 696.7 L436.5 698.4 L437.5 695.6 L438.5 697.8 L439.5 695.1 L440.5 694.0 L441.5 696.1 L442.5 696.1 L443.5 692.9 L444.5 695.8 L445.5 694.8 L446.5 695.8 L447.5 697.4 L448.5 697.0 L449.5 696.4 L450.5 695.7 L451.5 696.9 L452.5 696.7 L453.5 698.3 L454.5 696.2 L455.5 695.6 L456.5 697.0 L457.5 696.7 L458.5 698.0 L459.5 697.7 L460.5 697.9 L461.5 697.0 L462.5 698.2 L463.5 697.4 L464.5 699.3 L465.5 697.6 L466.5 700.3 L467.5 702.3 L468.5 702.7 L469.5 700.2 L470.5 698.9 L471.5 701.3 L472.5 700.7 L473.5 703.5 L474.5 700.4 L475.5 702.8 L476.5 699.7 L477.5 700.9 L478.5 701.5 L479.5 703.3 L480.5 703.7 L481.5 703.2 L482.5 704.7 L483.5 704.3 L484.5 706.7 L485.5 705.2 L486.5 702.8 L487.5 705.1 L488.5 706.4 L489.5 706.0 L490.5 705.9 L491.5 706.0 L492.5 706.7 L493.5 704.1 L494.5 707.1 L495.5 706.6 L496.5 706.1 L497.5 707.6 L498.5 706.0 L499.5 708.3 L500.5 708.1 L501.5 709.1 L502.5 709.9 L503.5 708.6 L504.5 708.7 L505.5 708.6 L506.5 709.5 L507.5 709.8 L508.5 710.7 L509.5 710.9 L510.5 710.5 L511.5 711.2 L512.5 711.6 L513.5 711.2 L514.5 713.1 L515.5 713.0 L516.5 715.7 L517.5 717.5 L518.5 715.8 L519.5 715.9 L520.5 717.3 L521.5 718.2 L522.5 718.5 L523.5 719.4 L524.5 718.7 L525.5 718.9 L526.5 718.4 L527.5 718.2 L528.5 719.6 L529.5 720.3 L530.5 720.4 L531.5 720.0 L532.5 721.0 L533.5 720.6 L534.5 720.0 L535.5 721.3 L536.5 721.6 L537.5 720.9 L538.5 721.5 L539.5 721.9 L540.5 721.1 L541.5 721.9 L542.5 722.5 L543.5 722.0 L544.5 722.2 L545.5 723.5 L546.5 723.2 L547.5 723.0 L548.5 723.4 L549.5 725.0 L550.5 724.3 L551.5 724.6 L552.5 723.9 L553.5 725.0 L554.5 724.7 L555.5 726.1 L556.5 725.7 L557.5 726.2 L558.5 726.0" stroke="#e8a035"/>
</g>
<g shape-rendering="crispEdges" stroke="#000" stroke-width="1" fill="none">
<line x1="156.5" y1="690" x2="156.5" y2="758"/>
<line x1="156" y1="757.5" x2="559" y2="757.5"/>
<line x1="156" y1="700.5" x2="161" y2="700.5"/>
<line x1="156" y1="736.5" x2="161" y2="736.5"/>
<line x1="198.5" y1="753" x2="198.5" y2="758"/>
<line x1="277.5" y1="753" x2="277.5" y2="758"/>
<line x1="355.5" y1="753" x2="355.5" y2="758"/>
<line x1="434.5" y1="753" x2="434.5" y2="758"/>
<line x1="513.5" y1="753" x2="513.5" y2="758"/>
</g>
<text class="t" transform="translate(328.5 669.7) scale(0.915 1)">Bin 7</text>
<text class="n" transform="translate(198.3 793.0) scale(0.935 1)" text-anchor="middle">2975</text>
<text class="n" transform="translate(277.3 793.0) scale(0.935 1)" text-anchor="middle">2980</text>
<text class="n" transform="translate(355.3 793.0) scale(0.935 1)" text-anchor="middle">2985</text>
<text class="n" transform="translate(434.3 793.0) scale(0.935 1)" text-anchor="middle">2990</text>
<text class="n" transform="translate(513.3 793.0) scale(0.935 1)" text-anchor="middle">2995</text>
<text class="t" transform="translate(250.0 831.0) scale(0.912 1)">Wavenumber [cm<tspan dy="-12" dx="1.4" font-size="18" letter-spacing="2">-1</tspan><tspan dy="12" dx="-1.5">]</tspan></text>
<text class="n" transform="translate(150.8 712.2) scale(0.92 1)" text-anchor="end">100</text>
<text class="n" transform="translate(150.8 748.2) scale(0.92 1)" text-anchor="end">50</text>
<text class="t" style="font-size:27.6px" transform="translate(96.6 725.5) rotate(-90) scale(0.905 1)" text-anchor="middle">ADU</text>
<clipPath id="c8"><rect x="683" y="690" width="403" height="68"/></clipPath>
<path d="M683.5 757.2 L685.5 756.2 L687.5 755.1 L689.5 754.9 L691.5 754.3 L693.5 753.5 L695.5 753.9 L697.5 752.5 L699.5 752.1 L701.5 750.1 L703.5 750.1 L705.5 749.4 L707.5 748.4 L709.5 748.0 L711.5 748.1 L713.5 747.1 L715.5 748.3 L717.5 744.3 L719.5 745.5 L721.5 743.1 L723.5 744.1 L725.5 742.9 L727.5 742.7 L729.5 741.1 L731.5 742.5 L733.5 740.7 L735.5 739.9 L737.5 739.6 L739.5 736.8 L741.5 737.7 L743.5 738.2 L745.5 735.5 L747.5 734.9 L749.5 733.0 L751.5 733.3 L753.5 732.5 L755.5 731.5 L757.5 731.7 L759.5 731.6 L761.5 729.5 L763.5 729.6 L765.5 727.7 L767.5 727.6 L769.5 727.1 L771.5 726.9 L773.5 726.1 L775.5 723.6 L777.5 724.2 L779.5 723.6 L781.5 722.7 L783.5 720.7 L785.5 719.6 L787.5 720.7 L789.5 720.0 L791.5 716.1 L793.5 716.5 L795.5 714.6 L797.5 717.3 L799.5 714.3 L801.5 714.8 L803.5 711.8 L805.5 713.3 L807.5 710.8 L809.5 709.3 L811.5 710.4 L813.5 711.6 L815.5 710.9 L817.5 709.7 L819.5 709.2 L821.5 707.3 L823.5 707.2 L825.5 705.8 L827.5 706.9 L829.5 707.4 L831.5 706.9 L833.5 705.1 L835.5 705.3 L837.5 703.7 L839.5 701.9 L841.5 701.8 L843.5 701.7 L845.5 701.6 L847.5 701.2 L849.5 703.2 L851.5 700.6 L853.5 700.4 L855.5 699.8 L857.5 695.9 L859.5 696.7 L861.5 697.5 L863.5 700.0 L865.5 697.7 L867.5 695.0 L869.5 695.5 L871.5 697.2 L873.5 693.3 L875.5 695.5 L877.5 694.4 L879.5 695.1 L881.5 692.2 L883.5 694.4 L885.5 692.9 L887.5 695.2 L889.5 694.0 L891.5 692.6 L893.5 694.8 L895.5 692.1 L897.5 691.7 L899.5 694.4 L901.5 691.2 L903.5 693.1 L905.5 692.9 L907.5 694.2 L909.5 693.2 L911.5 692.7 L913.5 692.2 L915.5 693.6 L917.5 692.2 L919.5 693.2 L921.5 693.0 L923.5 696.3 L925.5 692.2 L927.5 690.1 L929.5 695.7 L931.5 693.3 L933.5 694.6 L935.5 694.0 L937.5 695.3 L939.5 695.6 L941.5 691.8 L943.5 693.6 L945.5 695.3 L947.5 695.3 L949.5 695.8 L951.5 696.6 L953.5 697.4 L955.5 694.2 L957.5 700.3 L959.5 697.8 L961.5 700.2 L963.5 700.1 L965.5 698.7 L967.5 700.6 L969.5 699.5 L971.5 698.7 L973.5 698.9 L975.5 700.8 L977.5 702.4 L979.5 700.8 L981.5 698.3 L983.5 701.4 L985.5 700.3 L987.5 701.8 L989.5 700.5 L991.5 699.0 L993.5 700.4 L995.5 703.9 L997.5 700.7 L999.5 702.8 L1001.5 704.0 L1003.5 704.5 L1005.5 704.9 L1007.5 705.0 L1009.5 704.1 L1011.5 707.2 L1013.5 708.7 L1015.5 709.6 L1017.5 711.1 L1019.5 709.6 L1021.5 711.1 L1023.5 711.9 L1025.5 710.6 L1027.5 712.2 L1029.5 712.4 L1031.5 712.9 L1033.5 715.0 L1035.5 715.7 L1037.5 715.5 L1039.5 715.4 L1041.5 717.3 L1043.5 716.7 L1045.5 714.7 L1047.5 716.0 L1049.5 717.6 L1051.5 719.3 L1053.5 719.5 L1055.5 720.3 L1057.5 721.9 L1059.5 723.3 L1061.5 723.7 L1063.5 724.2 L1065.5 723.8 L1067.5 724.7 L1069.5 723.9 L1071.5 724.8 L1073.5 725.0 L1075.5 727.6 L1077.5 728.4 L1079.5 726.7 L1081.5 728.1 L1083.5 729.6 L1085.5 729.2" fill="none" stroke="#fff1d2" stroke-width="3" stroke-linejoin="round" clip-path="url(#c8)"/>
<g shape-rendering="crispEdges" stroke="#000" stroke-width="1" fill="none">
<line x1="688" y1="691.5" x2="1086" y2="691.5" stroke-dasharray="1 4" stroke-dashoffset="0"/>
<line x1="688" y1="711.5" x2="1086" y2="711.5" stroke-dasharray="1 4" stroke-dashoffset="2"/>
<line x1="688" y1="730.5" x2="1086" y2="730.5" stroke-dasharray="1 4" stroke-dashoffset="4"/>
<line x1="688" y1="750.5" x2="1086" y2="750.5" stroke-dasharray="1 4" stroke-dashoffset="1"/>
<line x1="726.5" y1="690" x2="726.5" y2="753" stroke-dasharray="1 4" stroke-dashoffset="3"/>
<line x1="805.5" y1="690" x2="805.5" y2="753" stroke-dasharray="1 4" stroke-dashoffset="3"/>
<line x1="884.5" y1="690" x2="884.5" y2="753" stroke-dasharray="1 4" stroke-dashoffset="3"/>
<line x1="963.5" y1="690" x2="963.5" y2="753" stroke-dasharray="1 4" stroke-dashoffset="3"/>
<line x1="1041.5" y1="690" x2="1041.5" y2="753" stroke-dasharray="1 4" stroke-dashoffset="3"/>
</g>
<g fill="none" stroke-width="1" shape-rendering="crispEdges" clip-path="url(#c8)">
<path d="M683.5 756.9 L684.5 755.8 L685.5 757.5 L686.5 755.2 L687.5 755.2 L688.5 755.1 L689.5 755.3 L690.5 753.5 L691.5 754.9 L692.5 756.1 L693.5 753.1 L694.5 753.8 L695.5 753.5 L696.5 751.1 L697.5 752.5 L698.5 751.7 L699.5 751.8 L700.5 751.1 L701.5 750.0 L702.5 750.4 L703.5 750.5 L704.5 749.9 L705.5 749.5 L706.5 747.8 L707.5 748.2 L708.5 748.9 L709.5 748.0 L710.5 745.7 L711.5 748.5 L712.5 748.1 L713.5 746.5 L714.5 746.2 L715.5 747.8 L716.5 745.6 L717.5 744.0 L718.5 745.8 L719.5 745.7 L720.5 745.0 L721.5 743.2 L722.5 745.8 L723.5 744.4 L724.5 744.2 L725.5 743.2 L726.5 742.8 L727.5 743.4 L728.5 742.5 L729.5 742.0 L730.5 740.6 L731.5 743.1 L732.5 740.8 L733.5 740.2 L734.5 738.6 L735.5 739.7 L736.5 739.8 L737.5 739.0 L738.5 739.4 L739.5 736.2 L740.5 735.6 L741.5 737.5 L742.5 737.1 L743.5 737.5 L744.5 736.5 L745.5 735.3 L746.5 735.0 L747.5 735.5 L748.5 734.1 L749.5 732.9 L750.5 734.1 L751.5 733.3 L752.5 731.4 L753.5 732.6 L754.5 732.8 L755.5 731.9 L756.5 731.1 L757.5 732.0 L758.5 732.1 L759.5 731.3 L760.5 730.7 L761.5 729.3 L762.5 729.2 L763.5 729.6 L764.5 727.6 L765.5 728.0 L766.5 728.8 L767.5 728.0 L768.5 726.9 L769.5 726.5 L770.5 726.5 L771.5 726.6 L772.5 725.2 L773.5 726.0 L774.5 725.5 L775.5 724.3 L776.5 723.6 L777.5 724.1 L778.5 723.6 L779.5 723.5 L780.5 721.9 L781.5 723.2 L782.5 721.9 L783.5 719.8 L784.5 720.8 L785.5 719.9 L786.5 718.9 L787.5 720.8 L788.5 717.5 L789.5 720.3 L790.5 717.7 L791.5 716.1 L792.5 717.4 L793.5 716.7 L794.5 716.9 L795.5 713.8 L796.5 715.7 L797.5 717.1 L798.5 716.2 L799.5 714.2 L800.5 713.7 L801.5 714.5 L802.5 713.5 L803.5 711.8 L804.5 710.7 L805.5 712.7 L806.5 713.4 L807.5 711.2 L808.5 710.7 L809.5 710.3 L810.5 711.1 L811.5 710.1 L812.5 710.7 L813.5 711.0 L814.5 710.5 L815.5 711.0 L816.5 708.7 L817.5 710.0 L818.5 707.4 L819.5 709.4 L820.5 708.2 L821.5 707.6 L822.5 709.4 L823.5 707.8 L824.5 706.4 L825.5 705.6 L826.5 708.9 L827.5 707.6 L828.5 706.5 L829.5 706.7 L830.5 705.9 L831.5 707.4 L832.5 703.9 L833.5 705.8 L834.5 703.8 L835.5 706.0 L836.5 700.3 L837.5 703.2 L838.5 702.1 L839.5 701.8 L840.5 705.3 L841.5 701.5 L842.5 701.0 L843.5 701.8 L844.5 702.2 L845.5 701.8 L846.5 700.3 L847.5 702.0 L848.5 701.0 L849.5 703.3 L850.5 699.8 L851.5 700.2 L852.5 700.4 L853.5 700.5 L854.5 698.0 L855.5 701.3 L856.5 697.3 L857.5 696.4 L858.5 700.7 L859.5 697.1 L860.5 700.4 L861.5 697.9 L862.5 697.1 L863.5 699.3 L864.5 694.6 L865.5 697.8 L866.5 698.0 L867.5 695.4 L868.5 697.2 L869.5 696.6 L870.5 691.7 L871.5 697.4 L872.5 693.7 L873.5 693.6 L874.5 695.4 L875.5 696.0 L876.5 692.9 L877.5 694.7 L878.5 692.8 L879.5 695.1 L880.5 692.7 L881.5 691.6 L882.5 693.5 L883.5 694.6 L884.5 694.6 L885.5 692.8 L886.5 690.9 L887.5 694.8 L888.5 692.3 L889.5 694.2 L890.5 694.1 L891.5 692.7 L892.5 692.1 L893.5 694.2 L894.5 692.2 L895.5 692.6 L896.5 694.4 L897.5 691.9 L898.5 691.5 L899.5 693.7 L900.5 691.8 L901.5 690.8 L902.5 693.4 L903.5 693.9 L904.5 693.6 L905.5 693.6 L906.5 690.2 L907.5 695.0 L908.5 692.5 L909.5 692.6 L910.5 693.9 L911.5 692.7 L912.5 691.4 L913.5 692.0 L914.5 696.0 L915.5 695.1 L916.5 692.5 L917.5 692.8 L918.5 692.5 L919.5 692.8 L920.5 694.0 L921.5 692.8 L922.5 694.2 L923.5 696.1 L924.5 694.2 L925.5 691.5 L926.5 693.9 L927.5 690.2 L928.5 693.2 L929.5 696.2 L930.5 695.6 L931.5 694.0 L932.5 693.5 L933.5 693.5 L934.5 693.2 L935.5 694.0 L936.5 693.4 L937.5 694.6 L938.5 695.7 L939.5 696.2 L940.5 697.3 L941.5 691.0 L942.5 696.1 L943.5 693.5 L944.5 696.7 L945.5 695.4 L946.5 697.7 L947.5 694.9 L948.5 697.0 L949.5 695.6 L950.5 698.1 L951.5 697.2 L952.5 698.4 L953.5 697.4 L954.5 700.5 L955.5 694.3 L956.5 699.9 L957.5 700.3 L958.5 699.5 L959.5 697.1 L960.5 696.2 L961.5 699.9 L962.5 697.8 L963.5 699.6 L964.5 701.9 L965.5 698.4 L966.5 699.8 L967.5 701.2 L968.5 701.6 L969.5 699.9 L970.5 700.0 L971.5 698.7 L972.5 700.2 L973.5 698.4 L974.5 699.8 L975.5 701.0 L976.5 703.1 L977.5 702.7 L978.5 700.9 L979.5 701.2 L980.5 700.0 L981.5 698.6 L982.5 698.2 L983.5 699.9 L984.5 704.3 L985.5 700.5 L986.5 700.2 L987.5 701.4 L988.5 700.5 L989.5 700.8 L990.5 702.1 L991.5 698.5 L992.5 700.9 L993.5 700.1 L994.5 700.9 L995.5 704.9 L996.5 703.3 L997.5 700.1 L998.5 704.7 L999.5 703.2 L1000.5 703.0 L1001.5 704.6 L1002.5 700.4 L1003.5 704.1 L1004.5 703.9 L1005.5 704.9 L1006.5 702.8 L1007.5 705.6 L1008.5 705.2 L1009.5 704.8 L1010.5 706.3 L1011.5 707.1 L1012.5 706.8 L1013.5 708.8 L1014.5 709.8 L1015.5 709.6 L1016.5 709.6 L1017.5 710.4 L1018.5 710.8 L1019.5 710.5 L1020.5 714.0 L1021.5 710.8 L1022.5 710.6 L1023.5 711.0 L1024.5 714.3 L1025.5 710.1 L1026.5 712.3 L1027.5 712.0 L1028.5 710.3 L1029.5 712.6 L1030.5 711.1 L1031.5 712.2 L1032.5 713.4 L1033.5 715.1 L1034.5 712.9 L1035.5 715.5 L1036.5 716.1 L1037.5 716.3 L1038.5 717.2 L1039.5 715.2 L1040.5 717.5 L1041.5 718.2 L1042.5 717.7 L1043.5 716.2 L1044.5 717.6 L1045.5 714.8 L1046.5 716.6 L1047.5 715.8 L1048.5 719.7 L1049.5 717.5 L1050.5 717.3 L1051.5 719.5 L1052.5 720.9 L1053.5 720.1 L1054.5 720.1 L1055.5 720.9 L1056.5 720.7 L1057.5 721.5 L1058.5 720.9 L1059.5 722.9 L1060.5 722.1 L1061.5 723.8 L1062.5 720.9 L1063.5 723.7 L1064.5 723.8 L1065.5 723.2 L1066.5 726.3 L1067.5 724.4 L1068.5 723.3 L1069.5 723.2 L1070.5 724.2 L1071.5 725.0 L1072.5 725.8 L1073.5 725.4 L1074.5 727.7 L1075.5 727.8 L1076.5 725.4 L1077.5 728.0 L1078.5 727.7 L1079.5 727.1 L1080.5 728.4 L1081.5 728.7 L1082.5 728.6 L1083.5 729.4 L1084.5 728.3 L1085.5 730.4" stroke="#2f9f9f"/>
<path d="M683.5 756.5 L684.5 757.2 L685.5 755.5 L686.5 754.8 L687.5 755.6 L688.5 753.9 L689.5 754.5 L690.5 753.6 L691.5 753.7 L692.5 754.5 L693.5 754.4 L694.5 751.8 L695.5 753.2 L696.5 751.4 L697.5 753.5 L698.5 752.5 L699.5 751.6 L700.5 750.5 L701.5 750.5 L702.5 750.4 L703.5 749.8 L704.5 749.5 L705.5 748.6 L706.5 748.5 L707.5 748.5 L708.5 748.0 L709.5 747.4 L710.5 744.8 L711.5 748.2 L712.5 747.0 L713.5 747.0 L714.5 746.1 L715.5 749.0 L716.5 745.5 L717.5 744.4 L718.5 746.0 L719.5 745.6 L720.5 745.4 L721.5 743.1 L722.5 745.3 L723.5 743.8 L724.5 744.1 L725.5 742.4 L726.5 744.4 L727.5 743.7 L728.5 741.1 L729.5 741.6 L730.5 740.5 L731.5 743.0 L732.5 741.1 L733.5 739.7 L734.5 737.7 L735.5 739.8 L736.5 740.3 L737.5 740.4 L738.5 739.3 L739.5 737.1 L740.5 736.0 L741.5 737.6 L742.5 737.8 L743.5 738.6 L744.5 737.4 L745.5 734.2 L746.5 734.5 L747.5 735.5 L748.5 733.5 L749.5 733.3 L750.5 736.1 L751.5 733.6 L752.5 732.1 L753.5 732.1 L754.5 732.5 L755.5 732.3 L756.5 731.8 L757.5 732.1 L758.5 730.8 L759.5 732.7 L760.5 729.5 L761.5 728.7 L762.5 729.4 L763.5 729.6 L764.5 728.0 L765.5 727.1 L766.5 729.1 L767.5 727.7 L768.5 726.2 L769.5 727.3 L770.5 726.1 L771.5 726.2 L772.5 725.4 L773.5 725.7 L774.5 726.2 L775.5 724.2 L776.5 722.1 L777.5 723.2 L778.5 724.0 L779.5 722.8 L780.5 721.3 L781.5 723.0 L782.5 721.8 L783.5 720.8 L784.5 720.2 L785.5 719.9 L786.5 720.0 L787.5 720.9 L788.5 717.4 L789.5 720.2 L790.5 718.4 L791.5 716.1 L792.5 717.6 L793.5 717.2 L794.5 715.4 L795.5 714.7 L796.5 715.2 L797.5 717.0 L798.5 716.6 L799.5 715.3 L800.5 713.8 L801.5 715.0 L802.5 714.7 L803.5 711.6 L804.5 711.6 L805.5 712.9 L806.5 713.2 L807.5 711.0 L808.5 711.0 L809.5 709.0 L810.5 711.1 L811.5 710.3 L812.5 709.6 L813.5 711.7 L814.5 710.0 L815.5 710.6 L816.5 708.6 L817.5 709.7 L818.5 708.2 L819.5 708.7 L820.5 710.5 L821.5 707.3 L822.5 709.9 L823.5 707.5 L824.5 706.4 L825.5 706.6 L826.5 708.1 L827.5 707.3 L828.5 705.7 L829.5 706.5 L830.5 705.9 L831.5 706.3 L832.5 704.5 L833.5 705.7 L834.5 704.1 L835.5 705.2 L836.5 701.0 L837.5 703.8 L838.5 703.3 L839.5 701.4 L840.5 704.7 L841.5 702.5 L842.5 700.1 L843.5 701.9 L844.5 702.5 L845.5 701.9 L846.5 698.8 L847.5 701.6 L848.5 701.4 L849.5 703.3 L850.5 699.8 L851.5 700.8 L852.5 699.6 L853.5 700.1 L854.5 697.8 L855.5 700.8 L856.5 697.8 L857.5 696.1 L858.5 700.2 L859.5 696.4 L860.5 700.9 L861.5 697.4 L862.5 695.2 L863.5 700.2 L864.5 695.0 L865.5 697.5 L866.5 698.1 L867.5 695.4 L868.5 695.8 L869.5 695.4 L870.5 691.9 L871.5 697.0 L872.5 694.2 L873.5 693.8 L874.5 696.2 L875.5 695.7 L876.5 693.8 L877.5 694.7 L878.5 693.6 L879.5 694.5 L880.5 692.2 L881.5 691.2 L882.5 692.8 L883.5 693.9 L884.5 695.3 L885.5 692.4 L886.5 690.2 L887.5 694.4 L888.5 692.0 L889.5 693.7 L890.5 693.5 L891.5 692.0 L892.5 692.6 L893.5 695.5 L894.5 691.9 L895.5 692.7 L896.5 694.2 L897.5 692.1 L898.5 690.0 L899.5 695.2 L900.5 691.9 L901.5 691.2 L902.5 693.1 L903.5 692.9 L904.5 692.8 L905.5 692.6 L906.5 690.1 L907.5 695.4 L908.5 693.7 L909.5 693.1 L910.5 693.9 L911.5 692.3 L912.5 692.1 L913.5 692.5 L914.5 695.0 L915.5 692.7 L916.5 692.8 L917.5 691.9 L918.5 693.0 L919.5 693.3 L920.5 694.9 L921.5 691.6 L922.5 693.8 L923.5 697.3 L924.5 692.8 L925.5 691.7 L926.5 693.9 L927.5 690.3 L928.5 693.2 L929.5 694.6 L930.5 695.4 L931.5 691.9 L932.5 692.6 L933.5 694.9 L934.5 693.6 L935.5 692.9 L936.5 693.1 L937.5 695.9 L938.5 695.3 L939.5 694.6 L940.5 696.8 L941.5 692.2 L942.5 696.4 L943.5 693.4 L944.5 696.8 L945.5 694.7 L946.5 697.5 L947.5 695.8 L948.5 696.1 L949.5 695.9 L950.5 696.2 L951.5 696.5 L952.5 698.5 L953.5 697.7 L954.5 698.7 L955.5 693.8 L956.5 699.8 L957.5 700.1 L958.5 698.1 L959.5 698.3 L960.5 697.1 L961.5 699.5 L962.5 698.1 L963.5 700.1 L964.5 702.0 L965.5 698.7 L966.5 699.5 L967.5 700.4 L968.5 702.0 L969.5 699.5 L970.5 701.3 L971.5 698.9 L972.5 700.0 L973.5 698.2 L974.5 699.8 L975.5 699.7 L976.5 701.5 L977.5 702.4 L978.5 700.9 L979.5 700.8 L980.5 698.5 L981.5 697.8 L982.5 697.9 L983.5 701.9 L984.5 703.7 L985.5 699.9 L986.5 701.6 L987.5 701.4 L988.5 701.3 L989.5 700.5 L990.5 702.4 L991.5 697.9 L992.5 700.0 L993.5 700.2 L994.5 701.2 L995.5 704.2 L996.5 703.1 L997.5 701.0 L998.5 704.7 L999.5 702.6 L1000.5 702.1 L1001.5 704.1 L1002.5 701.5 L1003.5 704.9 L1004.5 704.4 L1005.5 704.9 L1006.5 703.1 L1007.5 704.6 L1008.5 705.5 L1009.5 704.2 L1010.5 708.1 L1011.5 707.7 L1012.5 708.7 L1013.5 708.1 L1014.5 709.8 L1015.5 709.1 L1016.5 710.0 L1017.5 711.3 L1018.5 712.3 L1019.5 709.3 L1020.5 714.2 L1021.5 711.3 L1022.5 710.5 L1023.5 711.6 L1024.5 713.0 L1025.5 710.7 L1026.5 714.1 L1027.5 711.5 L1028.5 711.3 L1029.5 711.5 L1030.5 711.3 L1031.5 713.1 L1032.5 713.7 L1033.5 714.5 L1034.5 712.7 L1035.5 715.3 L1036.5 715.9 L1037.5 715.8 L1038.5 716.7 L1039.5 716.0 L1040.5 717.0 L1041.5 716.5 L1042.5 718.7 L1043.5 716.3 L1044.5 717.5 L1045.5 714.5 L1046.5 716.9 L1047.5 716.9 L1048.5 719.6 L1049.5 717.5 L1050.5 717.8 L1051.5 718.6 L1052.5 720.8 L1053.5 720.3 L1054.5 719.8 L1055.5 721.0 L1056.5 719.9 L1057.5 721.3 L1058.5 720.8 L1059.5 723.1 L1060.5 721.8 L1061.5 723.1 L1062.5 721.2 L1063.5 724.2 L1064.5 724.4 L1065.5 723.8 L1066.5 725.7 L1067.5 723.4 L1068.5 722.9 L1069.5 724.6 L1070.5 724.3 L1071.5 725.0 L1072.5 726.8 L1073.5 725.0 L1074.5 727.9 L1075.5 728.3 L1076.5 725.3 L1077.5 727.0 L1078.5 726.3 L1079.5 726.9 L1080.5 727.8 L1081.5 727.4 L1082.5 729.5 L1083.5 730.2 L1084.5 728.8 L1085.5 729.6" stroke="#3a9a4a"/>
<path d="M683.5 757.4 L684.5 757.6 L685.5 757.2 L686.5 755.9 L687.5 755.3 L688.5 755.8 L689.5 755.1 L690.5 753.3 L691.5 753.6 L692.5 754.4 L693.5 752.4 L694.5 753.1 L695.5 754.1 L696.5 752.6 L697.5 752.0 L698.5 751.7 L699.5 752.0 L700.5 751.1 L701.5 749.6 L702.5 749.6 L703.5 749.6 L704.5 749.3 L705.5 750.1 L706.5 747.7 L707.5 748.1 L708.5 748.5 L709.5 746.8 L710.5 746.7 L711.5 748.0 L712.5 747.5 L713.5 746.9 L714.5 746.2 L715.5 748.7 L716.5 745.3 L717.5 744.5 L718.5 747.0 L719.5 745.0 L720.5 744.8 L721.5 743.4 L722.5 745.1 L723.5 744.0 L724.5 745.0 L725.5 743.2 L726.5 742.1 L727.5 742.4 L728.5 741.7 L729.5 741.1 L730.5 741.4 L731.5 742.2 L732.5 740.0 L733.5 740.8 L734.5 738.2 L735.5 739.6 L736.5 740.2 L737.5 739.5 L738.5 739.0 L739.5 737.8 L740.5 736.3 L741.5 738.1 L742.5 737.0 L743.5 739.2 L744.5 736.7 L745.5 736.4 L746.5 736.1 L747.5 736.1 L748.5 734.9 L749.5 732.9 L750.5 735.1 L751.5 733.2 L752.5 732.0 L753.5 732.4 L754.5 732.3 L755.5 732.3 L756.5 732.3 L757.5 731.1 L758.5 731.8 L759.5 730.7 L760.5 729.6 L761.5 730.2 L762.5 729.3 L763.5 729.7 L764.5 729.0 L765.5 727.1 L766.5 729.4 L767.5 727.2 L768.5 727.2 L769.5 727.1 L770.5 727.4 L771.5 726.2 L772.5 725.7 L773.5 725.9 L774.5 725.8 L775.5 723.4 L776.5 723.2 L777.5 723.9 L778.5 723.3 L779.5 723.3 L780.5 721.3 L781.5 723.1 L782.5 721.8 L783.5 720.8 L784.5 721.1 L785.5 719.6 L786.5 719.7 L787.5 720.7 L788.5 718.6 L789.5 720.9 L790.5 717.9 L791.5 715.7 L792.5 716.7 L793.5 716.3 L794.5 716.3 L795.5 715.1 L796.5 716.0 L797.5 717.9 L798.5 715.8 L799.5 714.2 L800.5 712.4 L801.5 715.5 L802.5 715.1 L803.5 712.1 L804.5 711.0 L805.5 714.5 L806.5 713.3 L807.5 711.1 L808.5 710.9 L809.5 709.2 L810.5 711.0 L811.5 711.0 L812.5 710.1 L813.5 712.4 L814.5 710.9 L815.5 711.3 L816.5 711.2 L817.5 710.5 L818.5 707.0 L819.5 709.5 L820.5 710.1 L821.5 707.9 L822.5 710.0 L823.5 707.9 L824.5 707.1 L825.5 706.1 L826.5 708.2 L827.5 707.2 L828.5 705.2 L829.5 707.6 L830.5 704.8 L831.5 706.6 L832.5 704.3 L833.5 705.7 L834.5 703.9 L835.5 705.4 L836.5 700.0 L837.5 704.4 L838.5 702.6 L839.5 701.4 L840.5 705.5 L841.5 701.5 L842.5 700.3 L843.5 700.5 L844.5 701.9 L845.5 700.7 L846.5 699.1 L847.5 701.0 L848.5 700.6 L849.5 703.7 L850.5 699.9 L851.5 700.4 L852.5 700.0 L853.5 699.7 L854.5 698.9 L855.5 699.5 L856.5 697.7 L857.5 695.5 L858.5 700.1 L859.5 697.0 L860.5 700.6 L861.5 697.2 L862.5 696.3 L863.5 700.8 L864.5 695.0 L865.5 697.2 L866.5 697.2 L867.5 695.0 L868.5 696.7 L869.5 695.8 L870.5 692.3 L871.5 697.4 L872.5 693.6 L873.5 693.8 L874.5 695.3 L875.5 695.7 L876.5 694.0 L877.5 695.0 L878.5 693.3 L879.5 695.1 L880.5 693.2 L881.5 692.1 L882.5 694.3 L883.5 694.6 L884.5 694.1 L885.5 691.7 L886.5 689.8 L887.5 695.7 L888.5 692.0 L889.5 693.8 L890.5 693.9 L891.5 692.5 L892.5 693.5 L893.5 694.0 L894.5 692.7 L895.5 691.6 L896.5 695.0 L897.5 691.1 L898.5 690.9 L899.5 694.3 L900.5 690.9 L901.5 691.6 L902.5 694.1 L903.5 692.7 L904.5 694.1 L905.5 693.2 L906.5 690.4 L907.5 694.9 L908.5 693.3 L909.5 693.3 L910.5 694.5 L911.5 692.4 L912.5 692.1 L913.5 692.5 L914.5 695.6 L915.5 694.2 L916.5 692.3 L917.5 692.6 L918.5 692.2 L919.5 692.6 L920.5 695.0 L921.5 693.1 L922.5 694.3 L923.5 695.4 L924.5 694.2 L925.5 693.4 L926.5 692.9 L927.5 689.3 L928.5 692.5 L929.5 695.7 L930.5 695.5 L931.5 692.1 L932.5 695.0 L933.5 694.9 L934.5 692.6 L935.5 694.6 L936.5 694.2 L937.5 694.9 L938.5 694.9 L939.5 695.6 L940.5 697.1 L941.5 691.9 L942.5 697.9 L943.5 694.2 L944.5 697.5 L945.5 696.3 L946.5 698.2 L947.5 694.2 L948.5 696.6 L949.5 696.9 L950.5 696.8 L951.5 696.8 L952.5 696.7 L953.5 697.2 L954.5 699.6 L955.5 694.3 L956.5 698.9 L957.5 700.7 L958.5 698.3 L959.5 697.3 L960.5 696.7 L961.5 700.3 L962.5 698.1 L963.5 700.4 L964.5 701.2 L965.5 699.1 L966.5 699.7 L967.5 699.2 L968.5 701.6 L969.5 699.2 L970.5 700.2 L971.5 698.3 L972.5 700.2 L973.5 698.9 L974.5 699.0 L975.5 700.4 L976.5 702.1 L977.5 701.8 L978.5 701.8 L979.5 700.6 L980.5 699.7 L981.5 697.9 L982.5 699.7 L983.5 701.3 L984.5 704.0 L985.5 699.4 L986.5 700.6 L987.5 702.2 L988.5 701.1 L989.5 699.9 L990.5 702.5 L991.5 698.8 L992.5 700.3 L993.5 700.1 L994.5 701.4 L995.5 704.2 L996.5 702.3 L997.5 701.0 L998.5 704.8 L999.5 703.5 L1000.5 702.2 L1001.5 703.4 L1002.5 701.4 L1003.5 703.9 L1004.5 704.4 L1005.5 705.9 L1006.5 702.9 L1007.5 704.2 L1008.5 704.9 L1009.5 704.6 L1010.5 707.2 L1011.5 706.9 L1012.5 707.8 L1013.5 707.8 L1014.5 709.6 L1015.5 709.7 L1016.5 710.2 L1017.5 711.6 L1018.5 711.6 L1019.5 710.1 L1020.5 713.9 L1021.5 711.4 L1022.5 710.0 L1023.5 712.5 L1024.5 714.1 L1025.5 709.2 L1026.5 713.4 L1027.5 712.8 L1028.5 711.3 L1029.5 713.0 L1030.5 711.3 L1031.5 712.5 L1032.5 713.6 L1033.5 715.4 L1034.5 713.3 L1035.5 715.1 L1036.5 715.2 L1037.5 715.1 L1038.5 717.5 L1039.5 715.3 L1040.5 717.3 L1041.5 718.0 L1042.5 717.9 L1043.5 716.8 L1044.5 716.9 L1045.5 715.1 L1046.5 716.7 L1047.5 715.9 L1048.5 719.0 L1049.5 717.6 L1050.5 717.7 L1051.5 719.0 L1052.5 720.4 L1053.5 720.2 L1054.5 719.9 L1055.5 720.9 L1056.5 720.1 L1057.5 721.3 L1058.5 721.3 L1059.5 722.8 L1060.5 721.4 L1061.5 724.2 L1062.5 720.3 L1063.5 723.6 L1064.5 724.1 L1065.5 724.0 L1066.5 726.9 L1067.5 724.9 L1068.5 723.3 L1069.5 723.2 L1070.5 723.7 L1071.5 724.1 L1072.5 727.2 L1073.5 724.6 L1074.5 728.0 L1075.5 727.2 L1076.5 726.2 L1077.5 728.1 L1078.5 726.7 L1079.5 727.3 L1080.5 728.8 L1081.5 728.7 L1082.5 728.7 L1083.5 729.6 L1084.5 728.4 L1085.5 728.7" stroke="#4a2a70"/>
<path d="M683.5 757.2 L684.5 756.9 L685.5 756.2 L686.5 755.1 L687.5 755.1 L688.5 755.3 L689.5 754.9 L690.5 754.5 L691.5 754.3 L692.5 754.8 L693.5 753.5 L694.5 753.4 L695.5 753.9 L696.5 751.8 L697.5 752.5 L698.5 752.1 L699.5 752.1 L700.5 751.1 L701.5 750.1 L702.5 749.8 L703.5 750.1 L704.5 749.7 L705.5 749.4 L706.5 748.1 L707.5 748.4 L708.5 748.9 L709.5 748.0 L710.5 746.0 L711.5 748.1 L712.5 747.2 L713.5 747.1 L714.5 746.0 L715.5 748.3 L716.5 746.0 L717.5 744.3 L718.5 745.7 L719.5 745.5 L720.5 744.7 L721.5 743.1 L722.5 745.3 L723.5 744.1 L724.5 744.5 L725.5 742.9 L726.5 742.5 L727.5 742.7 L728.5 741.8 L729.5 741.1 L730.5 740.9 L731.5 742.5 L732.5 741.0 L733.5 740.7 L734.5 738.5 L735.5 739.9 L736.5 740.1 L737.5 739.6 L738.5 739.5 L739.5 736.8 L740.5 736.5 L741.5 737.7 L742.5 737.4 L743.5 738.2 L744.5 737.0 L745.5 735.5 L746.5 735.0 L747.5 734.9 L748.5 733.7 L749.5 733.0 L750.5 734.7 L751.5 733.3 L752.5 732.1 L753.5 732.5 L754.5 733.2 L755.5 731.5 L756.5 731.9 L757.5 731.7 L758.5 731.8 L759.5 731.6 L760.5 729.8 L761.5 729.5 L762.5 729.4 L763.5 729.6 L764.5 728.1 L765.5 727.7 L766.5 729.2 L767.5 727.6 L768.5 726.6 L769.5 727.1 L770.5 726.4 L771.5 726.9 L772.5 725.3 L773.5 726.1 L774.5 725.4 L775.5 723.6 L776.5 723.7 L777.5 724.2 L778.5 723.3 L779.5 723.6 L780.5 721.9 L781.5 722.7 L782.5 721.3 L783.5 720.7 L784.5 720.9 L785.5 719.6 L786.5 719.3 L787.5 720.7 L788.5 718.4 L789.5 720.0 L790.5 718.3 L791.5 716.1 L792.5 717.6 L793.5 716.5 L794.5 716.2 L795.5 714.6 L796.5 715.9 L797.5 717.3 L798.5 716.1 L799.5 714.3 L800.5 713.4 L801.5 714.8 L802.5 713.9 L803.5 711.8 L804.5 711.3 L805.5 713.3 L806.5 712.9 L807.5 710.8 L808.5 711.0 L809.5 709.3 L810.5 710.7 L811.5 710.4 L812.5 709.6 L813.5 711.6 L814.5 710.5 L815.5 710.9 L816.5 709.0 L817.5 709.7 L818.5 707.8 L819.5 709.2 L820.5 709.5 L821.5 707.3 L822.5 709.8 L823.5 707.2 L824.5 706.5 L825.5 705.8 L826.5 708.4 L827.5 706.9 L828.5 706.1 L829.5 707.4 L830.5 705.7 L831.5 706.9 L832.5 704.3 L833.5 705.1 L834.5 703.6 L835.5 705.3 L836.5 699.9 L837.5 703.7 L838.5 702.2 L839.5 701.9 L840.5 705.5 L841.5 701.8 L842.5 700.8 L843.5 701.7 L844.5 701.9 L845.5 701.6 L846.5 699.3 L847.5 701.2 L848.5 701.1 L849.5 703.2 L850.5 699.9 L851.5 700.6 L852.5 699.6 L853.5 700.4 L854.5 698.1 L855.5 699.8 L856.5 697.4 L857.5 695.9 L858.5 700.5 L859.5 696.7 L860.5 700.6 L861.5 697.5 L862.5 696.4 L863.5 700.0 L864.5 695.2 L865.5 697.7 L866.5 697.4 L867.5 695.0 L868.5 695.9 L869.5 695.5 L870.5 692.4 L871.5 697.2 L872.5 693.5 L873.5 693.3 L874.5 695.9 L875.5 695.5 L876.5 693.6 L877.5 694.4 L878.5 692.7 L879.5 695.1 L880.5 693.1 L881.5 692.2 L882.5 693.1 L883.5 694.4 L884.5 694.5 L885.5 692.9 L886.5 690.9 L887.5 695.2 L888.5 691.9 L889.5 694.0 L890.5 694.0 L891.5 692.6 L892.5 693.0 L893.5 694.8 L894.5 692.2 L895.5 692.1 L896.5 694.7 L897.5 691.7 L898.5 690.9 L899.5 694.4 L900.5 691.8 L901.5 691.2 L902.5 692.8 L903.5 693.1 L904.5 693.4 L905.5 692.9 L906.5 690.8 L907.5 694.2 L908.5 693.8 L909.5 693.2 L910.5 693.8 L911.5 692.7 L912.5 691.8 L913.5 692.2 L914.5 695.3 L915.5 693.6 L916.5 692.1 L917.5 692.2 L918.5 692.8 L919.5 693.2 L920.5 694.4 L921.5 693.0 L922.5 694.2 L923.5 696.3 L924.5 693.9 L925.5 692.2 L926.5 693.4 L927.5 690.1 L928.5 693.4 L929.5 695.7 L930.5 695.1 L931.5 693.3 L932.5 693.7 L933.5 694.6 L934.5 693.3 L935.5 694.0 L936.5 693.4 L937.5 695.3 L938.5 695.7 L939.5 695.6 L940.5 696.7 L941.5 691.8 L942.5 696.7 L943.5 693.6 L944.5 696.6 L945.5 695.3 L946.5 697.3 L947.5 695.3 L948.5 696.3 L949.5 695.8 L950.5 696.5 L951.5 696.6 L952.5 697.4 L953.5 697.4 L954.5 699.2 L955.5 694.2 L956.5 699.2 L957.5 700.3 L958.5 698.7 L959.5 697.8 L960.5 696.8 L961.5 700.2 L962.5 697.7 L963.5 700.1 L964.5 700.9 L965.5 698.7 L966.5 699.8 L967.5 700.6 L968.5 701.3 L969.5 699.5 L970.5 700.7 L971.5 698.7 L972.5 700.4 L973.5 698.9 L974.5 699.7 L975.5 700.8 L976.5 701.7 L977.5 702.4 L978.5 701.3 L979.5 700.8 L980.5 700.0 L981.5 698.3 L982.5 698.7 L983.5 701.4 L984.5 703.6 L985.5 700.3 L986.5 701.0 L987.5 701.8 L988.5 701.2 L989.5 700.5 L990.5 702.9 L991.5 699.0 L992.5 700.3 L993.5 700.4 L994.5 700.7 L995.5 703.9 L996.5 702.7 L997.5 700.7 L998.5 704.4 L999.5 702.8 L1000.5 702.4 L1001.5 704.0 L1002.5 701.0 L1003.5 704.5 L1004.5 704.5 L1005.5 704.9 L1006.5 702.8 L1007.5 705.0 L1008.5 704.7 L1009.5 704.1 L1010.5 707.4 L1011.5 707.2 L1012.5 707.7 L1013.5 708.7 L1014.5 709.6 L1015.5 709.6 L1016.5 710.0 L1017.5 711.1 L1018.5 711.8 L1019.5 709.6 L1020.5 713.6 L1021.5 711.1 L1022.5 710.0 L1023.5 711.9 L1024.5 713.8 L1025.5 710.6 L1026.5 713.4 L1027.5 712.2 L1028.5 711.3 L1029.5 712.4 L1030.5 711.7 L1031.5 712.9 L1032.5 713.5 L1033.5 715.0 L1034.5 712.8 L1035.5 715.7 L1036.5 715.6 L1037.5 715.5 L1038.5 716.8 L1039.5 715.4 L1040.5 716.9 L1041.5 717.3 L1042.5 718.3 L1043.5 716.7 L1044.5 717.4 L1045.5 714.7 L1046.5 716.6 L1047.5 716.0 L1048.5 719.7 L1049.5 717.6 L1050.5 717.6 L1051.5 719.3 L1052.5 720.0 L1053.5 719.5 L1054.5 719.4 L1055.5 720.3 L1056.5 720.6 L1057.5 721.9 L1058.5 720.7 L1059.5 723.3 L1060.5 721.1 L1061.5 723.7 L1062.5 720.5 L1063.5 724.2 L1064.5 723.6 L1065.5 723.8 L1066.5 726.1 L1067.5 724.7 L1068.5 723.5 L1069.5 723.9 L1070.5 724.2 L1071.5 724.8 L1072.5 726.2 L1073.5 725.0 L1074.5 727.3 L1075.5 727.6 L1076.5 726.0 L1077.5 728.4 L1078.5 727.1 L1079.5 726.7 L1080.5 728.2 L1081.5 728.1 L1082.5 728.8 L1083.5 729.6 L1084.5 728.5 L1085.5 729.2" stroke="#e8a035"/>
</g>
<g shape-rendering="crispEdges" stroke="#000" stroke-width="1" fill="none">
<line x1="683.5" y1="690" x2="683.5" y2="758"/>
<line x1="683" y1="757.5" x2="1086" y2="757.5"/>
<line x1="683" y1="691.5" x2="688" y2="691.5"/>
<line x1="683" y1="711.5" x2="688" y2="711.5"/>
<line x1="683" y1="730.5" x2="688" y2="730.5"/>
<line x1="683" y1="750.5" x2="688" y2="750.5"/>
<line x1="726.5" y1="753" x2="726.5" y2="758"/>
<line x1="805.5" y1="753" x2="805.5" y2="758"/>
<line x1="884.5" y1="753" x2="884.5" y2="758"/>
<line x1="963.5" y1="753" x2="963.5" y2="758"/>
<line x1="1041.5" y1="753" x2="1041.5" y2="758"/>
</g>
<text class="t" transform="translate(855.5 669.7) scale(0.915 1)">Bin 8</text>
<text class="n" transform="translate(726.3 793.0) scale(0.935 1)" text-anchor="middle">2975</text>
<text class="n" transform="translate(805.3 793.0) scale(0.935 1)" text-anchor="middle">2980</text>
<text class="n" transform="translate(884.3 793.0) scale(0.935 1)" text-anchor="middle">2985</text>
<text class="n" transform="translate(963.3 793.0) scale(0.935 1)" text-anchor="middle">2990</text>
<text class="n" transform="translate(1041.3 793.0) scale(0.935 1)" text-anchor="middle">2995</text>
<text class="t" transform="translate(777.0 831.0) scale(0.912 1)">Wavenumber [cm<tspan dy="-12" dx="1.4" font-size="18" letter-spacing="2">-1</tspan><tspan dy="12" dx="-1.5">]</tspan></text>
<text class="n" transform="translate(677.8 703.2) scale(0.92 1)" text-anchor="end">80</text>
<text class="n" transform="translate(677.8 723.2) scale(0.92 1)" text-anchor="end">60</text>
<text class="n" transform="translate(677.8 742.2) scale(0.92 1)" text-anchor="end">40</text>
<text class="n" transform="translate(677.8 762.2) scale(0.92 1)" text-anchor="end">20</text>
<text class="t" style="font-size:27.6px" transform="translate(636.6 725.5) rotate(-90) scale(0.905 1)" text-anchor="middle">ADU</text>
</svg>
</body></html>
